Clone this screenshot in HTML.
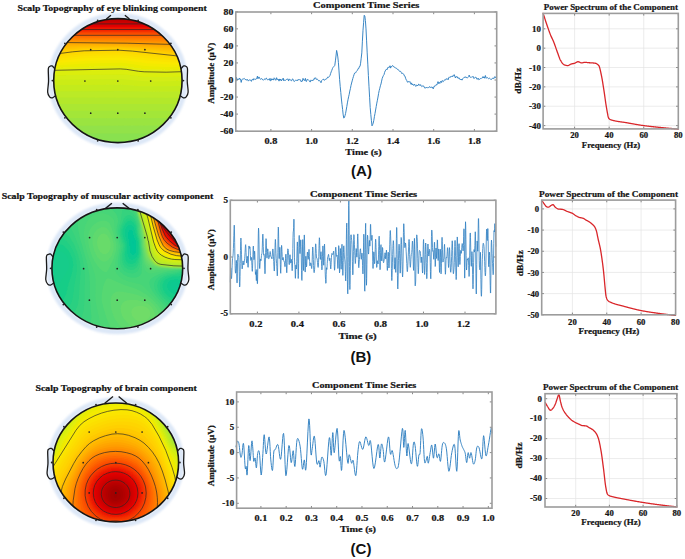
<!DOCTYPE html>
<html><head><meta charset="utf-8"><style>html,body{margin:0;padding:0;background:#fff;}svg{display:block;}</style></head>
<body><svg width="685" height="559" viewBox="0 0 685 559">
<rect width="685" height="559" fill="#fff"/>
<defs><filter id="bl" x="-5%" y="-5%" width="110%" height="110%"><feGaussianBlur stdDeviation="0.55"/></filter><filter id="halo" x="-20%" y="-20%" width="140%" height="140%"><feGaussianBlur stdDeviation="0.9"/></filter></defs>
<clipPath id="clipA"><ellipse cx="117.9" cy="80.6" rx="64.2" ry="62.0"/></clipPath>
<ellipse cx="117.9" cy="80.6" rx="67.2" ry="65.0" fill="none" stroke="#dce7f7" stroke-width="5" filter="url(#halo)"/>
<g clip-path="url(#clipA)"><g filter="url(#bl)">
<rect x="50.7" y="15.6" width="134.4" height="130.0" fill="rgb(128, 223, 89)"/>
<path d="M50.7 15.6 185.2 15.6 185.2 141.3 50.7 141.3Z" fill="rgb(137, 225, 80)" fill-rule="evenodd"/>
<path d="M50.7 15.6 185.2 15.6 185.2 133.5 50.7 133.5Z" fill="rgb(146, 226, 73)" fill-rule="evenodd"/>
<path d="M50.7 15.6 185.2 15.6 185.2 125.6 50.7 125.7Z" fill="rgb(154, 228, 65)" fill-rule="evenodd"/>
<path d="M50.7 15.6 185.2 15.6 185.2 117.9 120.2 118.3 50.7 118.1Z" fill="rgb(163, 230, 57)" fill-rule="evenodd"/>
<path d="M50.7 15.6 185.2 15.6 185.2 110.7 50.7 110.8Z" fill="rgb(171, 231, 50)" fill-rule="evenodd"/>
<path d="M50.7 15.6 185.2 15.6 185.2 103.9 50.7 104.0Z" fill="rgb(179, 232, 44)" fill-rule="evenodd"/>
<path d="M50.7 15.6 185.2 15.6 185.2 97.7 50.7 97.6Z" fill="rgb(187, 234, 37)" fill-rule="evenodd"/>
<path d="M50.7 15.6 185.2 15.6 185.2 91.4 153.2 91.8 121.2 91.0 50.7 91.2Z" fill="rgb(195, 235, 31)" fill-rule="evenodd"/>
<path d="M50.7 15.6 185.2 15.6 185.2 85.6 169.7 86.2 153.2 86.3 141.2 86.2 121.2 84.7 50.7 85.1Z" fill="rgb(203, 236, 25)" fill-rule="evenodd"/>
<path d="M50.7 15.6 185.2 15.6 185.2 80.5 170.2 81.2 155.2 81.4 141.7 81.1 121.2 79.1 50.7 79.7Z" fill="rgb(211, 237, 18)" fill-rule="evenodd"/>
<path d="M50.7 15.6 185.2 15.6 185.2 76.2 166.7 77.0 144.2 76.8 125.7 74.5 120.2 74.2 50.7 75.2Z" fill="rgb(219, 238, 13)" fill-rule="evenodd"/>
<path d="M50.7 15.6 185.2 15.6 185.2 72.4 166.2 73.1 144.2 72.7 125.7 70.2 120.2 69.9 50.7 71.3Z" fill="rgb(227, 237, 10)" fill-rule="evenodd"/>
<path d="M50.7 15.6 185.2 15.6 185.2 69.4 166.2 69.7 144.2 69.1 126.2 66.6 120.2 66.1 87.2 66.7 50.7 68.1Z" fill="rgb(235, 236, 6)" fill-rule="evenodd"/>
<path d="M50.7 15.6 185.2 15.6 185.2 67.2 166.2 66.9 144.7 65.9 126.7 63.3 120.2 62.8 86.2 63.5 50.7 65.7Z" fill="rgb(243, 235, 3)" fill-rule="evenodd"/>
<path d="M50.7 15.6 185.2 15.6 185.2 65.2 147.2 63.2 126.2 60.4 119.2 60.0 85.7 60.7 50.7 63.5Z" fill="rgb(250, 233, 0)" fill-rule="evenodd"/>
<path d="M50.7 15.6 185.2 15.6 185.2 63.3 148.2 60.7 127.2 58.0 119.2 57.5 85.2 58.2 50.7 61.6Z" fill="rgb(251, 228, 0)" fill-rule="evenodd"/>
<path d="M50.7 15.6 185.2 15.6 185.2 61.6 147.2 58.2 126.2 55.7 118.7 55.2 84.7 56.0 50.7 59.7Z" fill="rgb(252, 223, 0)" fill-rule="evenodd"/>
<path d="M50.7 15.6 185.2 15.6 185.2 59.9 128.2 53.8 118.7 53.3 84.2 53.9 50.7 57.9Z" fill="rgb(253, 218, 0)" fill-rule="evenodd"/>
<path d="M50.7 15.6 185.2 15.6 185.2 58.1 130.2 52.2 118.7 51.5 84.2 52.1 50.7 56.1Z" fill="rgb(254, 213, 0)" fill-rule="evenodd"/>
<path d="M50.7 15.6 185.2 15.6 185.2 56.4 131.4 50.6 118.7 49.8 83.7 50.4 50.7 54.2Z" fill="rgb(255, 208, 0)" fill-rule="evenodd"/>
<path d="M50.7 15.6 185.2 15.6 185.2 54.6 134.8 49.6 118.7 48.6 83.2 49.0 50.7 52.4Z" fill="rgb(255, 201, 0)" fill-rule="evenodd"/>
<path d="M50.7 15.6 185.2 15.6 185.2 52.9 136.2 48.6 118.7 47.6 83.7 47.9 50.7 50.5Z" fill="rgb(255, 194, 0)" fill-rule="evenodd"/>
<path d="M50.7 15.6 185.2 15.6 185.2 51.3 137.2 47.6 119.2 46.8 83.7 46.8 50.7 48.7Z" fill="rgb(255, 187, 0)" fill-rule="evenodd"/>
<path d="M50.7 15.6 185.2 15.6 185.2 49.7 154.0 47.6 119.7 45.9 84.2 45.8 50.7 47.1Z" fill="rgb(255, 180, 0)" fill-rule="evenodd"/>
<path d="M50.7 15.6 185.2 15.6 185.2 48.1 120.2 45.1 84.2 44.8 50.7 45.5Z" fill="rgb(255, 173, 0)" fill-rule="evenodd"/>
<path d="M50.7 15.6 185.2 15.6 185.2 46.6 121.7 44.2 84.2 43.8 50.7 44.1Z" fill="rgb(255, 165, 0)" fill-rule="evenodd"/>
<path d="M50.7 15.6 185.2 15.6 185.2 45.2 124.7 43.4 50.7 42.7Z" fill="rgb(255, 158, 0)" fill-rule="evenodd"/>
<path d="M50.7 15.6 185.2 15.6 185.2 43.7 134.2 42.5 50.7 41.5Z" fill="rgb(255, 149, 0)" fill-rule="evenodd"/>
<path d="M50.7 15.6 185.2 15.6 185.2 42.3 50.7 40.4Z" fill="rgb(255, 140, 0)" fill-rule="evenodd"/>
<path d="M50.7 15.6 185.2 15.6 185.2 40.9 50.7 39.5Z" fill="rgb(255, 131, 0)" fill-rule="evenodd"/>
<path d="M50.7 15.6 185.2 15.6 185.2 39.6 50.7 38.5Z" fill="rgb(255, 123, 0)" fill-rule="evenodd"/>
<path d="M50.7 15.6 185.2 15.6 185.2 38.3 50.7 37.7Z" fill="rgb(255, 114, 0)" fill-rule="evenodd"/>
<path d="M50.7 15.6 185.2 15.6 185.2 37.2 50.7 36.8Z" fill="rgb(255, 105, 0)" fill-rule="evenodd"/>
<path d="M50.7 15.6 185.2 15.6 185.2 36.1 50.7 35.9Z" fill="rgb(253, 96, 0)" fill-rule="evenodd"/>
<path d="M50.7 15.6 185.2 15.6 185.2 35.1 50.7 35.1Z" fill="rgb(252, 87, 0)" fill-rule="evenodd"/>
<path d="M50.7 15.6 185.2 15.6 185.2 34.2 50.7 34.3Z" fill="rgb(250, 79, 0)" fill-rule="evenodd"/>
<path d="M50.7 15.6 185.2 15.6 185.2 33.4 50.7 33.5Z" fill="rgb(249, 70, 0)" fill-rule="evenodd"/>
<path d="M50.7 15.6 185.2 15.6 185.2 32.6 50.7 32.7Z" fill="rgb(247, 61, 0)" fill-rule="evenodd"/>
<path d="M50.7 15.6 185.2 15.6 185.2 31.9 50.7 31.9Z" fill="rgb(245, 52, 0)" fill-rule="evenodd"/>
<path d="M50.7 15.6 185.2 15.6 185.2 31.1 50.7 31.2Z" fill="rgb(243, 45, 0)" fill-rule="evenodd"/>
<path d="M50.7 15.6 185.2 15.6 185.2 30.4 50.7 30.4Z" fill="rgb(241, 37, 0)" fill-rule="evenodd"/>
<path d="M50.7 15.6 185.2 15.6 185.2 29.7 50.7 29.7Z" fill="rgb(238, 30, 0)" fill-rule="evenodd"/>
<path d="M50.7 15.6 185.2 15.6 185.2 28.9 50.7 28.9Z" fill="rgb(236, 23, 0)" fill-rule="evenodd"/>
<path d="M50.7 15.6 185.2 15.6 185.2 28.2 50.7 28.2Z" fill="rgb(234, 16, 0)" fill-rule="evenodd"/>
<path d="M50.7 15.6 185.2 15.6 185.2 27.5 50.7 27.5Z" fill="rgb(231, 9, 0)" fill-rule="evenodd"/>
<path d="M50.7 15.6 185.2 15.6 185.2 26.8 50.7 26.8Z" fill="rgb(228, 5, 0)" fill-rule="evenodd"/>
<path d="M50.7 15.6 185.2 15.6 185.2 26.0 50.7 26.0Z" fill="rgb(223, 4, 0)" fill-rule="evenodd"/>
<path d="M50.7 15.6 185.2 15.6 185.2 25.3 50.7 25.3Z" fill="rgb(218, 3, 0)" fill-rule="evenodd"/>
<path d="M50.7 15.6 185.2 15.6 185.2 24.5 50.7 24.5Z" fill="rgb(214, 3, 0)" fill-rule="evenodd"/>
<path d="M50.7 15.6 185.2 15.6 185.2 23.7 50.7 23.7Z" fill="rgb(209, 2, 0)" fill-rule="evenodd"/>
<path d="M50.7 15.6 185.2 15.6 185.2 22.9 50.7 22.9Z" fill="rgb(204, 1, 0)" fill-rule="evenodd"/>
<path d="M50.7 15.6 185.2 15.6 185.2 22.0 50.7 22.0Z" fill="rgb(200, 1, 0)" fill-rule="evenodd"/>
<path d="M50.7 15.6 185.2 15.6 185.2 21.2 50.7 21.2Z" fill="rgb(195, 0, 0)" fill-rule="evenodd"/>
<path d="M50.7 15.6 185.2 15.6 185.2 20.3 50.7 20.3Z" fill="rgb(189, 0, 0)" fill-rule="evenodd"/>
<path d="M50.7 15.6 185.2 15.6 185.2 19.3 50.7 19.3Z" fill="rgb(183, 0, 0)" fill-rule="evenodd"/>
<path d="M50.7 15.6 185.2 15.6 185.2 18.3 50.7 18.3Z" fill="rgb(177, 0, 0)" fill-rule="evenodd"/>
<path d="M50.7 15.6 185.2 15.6 185.2 17.0 50.7 17.0Z" fill="rgb(171, 0, 0)" fill-rule="evenodd"/>
<path d="M50.7 15.6 185.2 15.6 185.2 15.6Z" fill="rgb(165, 0, 0)" fill-rule="evenodd"/>
</g>
<path d="M185.2 71.6 166.2 72.2 144.2 71.8 138.7 71.3 126.2 69.3 120.2 68.9 50.7 70.4" fill="none" stroke="#262626" stroke-width="0.75" stroke-opacity="0.9"/>
<path d="M185.2 56.8 132.4 51.1 118.7 50.2 84.2 50.8 72.7 51.8 50.7 54.7" fill="none" stroke="#262626" stroke-width="0.75" stroke-opacity="0.9"/>
<path d="M185.2 44.8 127.2 43.2 50.7 42.4" fill="none" stroke="#262626" stroke-width="0.75" stroke-opacity="0.9"/>
<path d="M185.2 35.3 50.7 35.3" fill="none" stroke="#262626" stroke-width="0.75" stroke-opacity="0.9"/>
<path d="M185.2 29.5 50.7 29.5" fill="none" stroke="#262626" stroke-width="0.75" stroke-opacity="0.9"/>
<path d="M185.2 23.9 50.7 23.9" fill="none" stroke="#262626" stroke-width="0.75" stroke-opacity="0.9"/>
</g>
<ellipse cx="117.9" cy="80.6" rx="64.2" ry="62.0" fill="none" stroke="#151515" stroke-width="1.6"/>
<clipPath id="clipB"><ellipse cx="117.3" cy="268.3" rx="65.4" ry="60.4"/></clipPath>
<ellipse cx="117.3" cy="268.3" rx="68.4" ry="63.4" fill="none" stroke="#dce7f7" stroke-width="5" filter="url(#halo)"/>
<g clip-path="url(#clipB)"><g filter="url(#bl)">
<rect x="48.9" y="204.9" width="136.8" height="126.8" fill="rgb(0, 195, 150)"/>
<path d="M48.9 204.9 185.9 204.9 185.9 331.9 48.9 331.9ZM132.5 241.4 132.4 242.9 132.9 243.8 133.4 243.8 134.0 242.9 134.0 241.9 133.4 241.2Z" fill="rgb(0, 198, 150)" fill-rule="evenodd"/>
<path d="M48.9 204.9 185.9 204.9 185.9 331.9 48.9 331.9ZM131.2 236.4 130.6 236.9 130.2 238.4 130.4 242.9 131.9 250.7 132.9 252.2 133.9 252.3 134.8 250.9 135.5 241.9 133.9 238.8 132.4 237.0Z" fill="rgb(5, 199, 147)" fill-rule="evenodd"/>
<path d="M48.9 204.9 185.9 204.9 185.9 331.9 48.9 331.9ZM130.2 229.4 129.0 230.4 128.3 231.9 128.3 237.4 130.3 252.4 131.4 254.4 132.4 255.0 133.4 255.1 135.4 253.8 136.3 251.9 136.3 241.9 133.6 235.4 132.4 230.3 131.4 229.4Z" fill="rgb(10, 201, 144)" fill-rule="evenodd"/>
<path d="M48.9 204.9 185.9 204.9 185.9 331.9 48.9 331.9ZM129.0 227.4 127.9 228.3 127.0 229.9 126.4 233.4 126.7 236.9 128.5 244.9 128.7 252.4 129.9 255.9 131.4 257.1 132.9 257.3 135.4 255.9 137.0 252.9 136.9 241.9 134.6 234.9 133.4 229.1 131.4 227.2 130.4 227.0ZM172.3 281.9 170.6 283.4 170.2 285.4 170.8 287.4 172.4 289.2 174.9 290.5 177.4 290.8 179.4 290.3 181.2 288.9 182.0 286.4 181.5 284.9 180.6 283.9 178.9 282.8 176.4 282.0Z" fill="rgb(15, 202, 141)" fill-rule="evenodd"/>
<path d="M48.9 204.9 185.9 204.9 185.9 282.5 183.9 281.2 180.9 280.2 176.4 279.6 172.9 279.7 170.9 280.2 169.1 281.4 167.7 283.4 167.3 285.4 167.7 287.9 169.4 290.7 171.9 292.7 174.9 293.9 177.9 294.2 180.9 293.6 183.4 292.4 185.9 290.2 185.9 331.9 48.9 331.9ZM128.5 225.4 126.9 226.8 125.7 228.9 125.1 231.4 125.0 234.4 127.5 244.9 127.4 252.4 127.8 255.4 129.4 258.4 130.9 259.4 132.4 259.6 133.9 259.1 135.4 257.9 136.8 255.9 137.6 253.9 138.0 251.4 137.5 241.9 133.9 227.8 132.9 226.3 131.4 225.2 129.9 225.0Z" fill="rgb(20, 204, 138)" fill-rule="evenodd"/>
<path d="M48.9 204.9 185.9 204.9 185.9 278.3 182.4 277.9 177.4 277.9 172.9 278.1 170.4 278.6 167.9 279.9 166.3 281.4 165.2 283.4 164.8 285.9 165.4 288.9 167.2 291.9 169.8 294.4 172.9 296.1 175.9 297.0 179.4 297.0 182.4 296.3 185.9 294.7 185.9 331.9 48.9 331.9 48.9 297.0 53.7 294.4 56.9 290.8 58.4 287.9 61.2 280.4 65.4 274.3 67.6 270.4 68.8 266.9 69.2 263.4 68.5 259.4 66.4 255.4 63.4 252.5 59.9 251.0 57.9 251.1 55.9 252.3 48.9 261.1ZM128.2 223.4 126.4 224.9 124.6 227.9 123.8 230.9 123.8 234.4 126.6 244.9 126.1 253.4 126.7 257.4 127.6 259.4 128.9 260.8 130.4 261.6 132.4 261.8 134.4 261.0 135.9 259.5 138.2 254.9 138.6 251.4 138.1 241.4 136.0 233.9 135.3 228.9 134.4 226.4 132.9 224.3 131.4 223.2 129.9 222.9Z" fill="rgb(25, 205, 135)" fill-rule="evenodd"/>
<path d="M48.9 204.9 185.9 204.9 185.9 275.4 172.4 276.7 168.0 277.9 165.6 279.4 163.9 281.2 162.8 283.4 162.4 285.9 163.1 289.4 164.9 292.7 167.9 295.9 171.4 298.2 174.9 299.5 178.4 300.0 181.9 299.6 185.9 298.1 185.9 331.9 48.9 331.9 48.9 307.2 60.0 302.4 62.6 300.4 64.4 298.1 66.0 294.4 68.7 283.4 72.2 272.4 73.3 264.9 72.5 258.9 70.3 253.4 66.9 248.4 64.8 246.4 62.4 244.8 58.4 243.7 54.9 244.4 52.4 246.6 48.9 252.5ZM128.6 220.9 126.3 222.4 123.9 226.0 122.7 229.4 122.4 233.4 123.2 237.4 125.7 244.9 124.8 253.9 125.3 258.9 126.4 261.2 127.9 263.0 129.9 264.1 131.9 264.3 133.9 263.6 135.9 262.0 137.4 259.6 138.5 256.9 139.3 251.9 138.7 241.9 136.6 233.4 135.9 227.9 134.9 225.1 133.4 222.7 131.9 221.3 130.4 220.8Z" fill="rgb(34, 207, 132)" fill-rule="evenodd"/>
<path d="M48.9 204.9 185.9 204.9 185.9 272.9 176.9 274.8 169.9 275.7 165.9 277.1 163.2 278.9 161.4 280.9 160.3 283.4 159.9 285.9 160.5 289.4 162.7 293.4 165.9 297.0 169.9 300.1 173.9 302.1 177.9 303.0 181.9 302.9 185.9 301.9 185.9 331.9 48.9 331.9 48.9 316.7 55.9 312.7 67.4 307.8 69.7 305.9 71.4 303.0 73.0 296.9 74.5 284.4 76.6 272.4 76.9 266.9 76.2 259.9 74.1 252.9 70.4 245.9 66.4 241.0 61.9 237.9 57.4 236.8 54.9 237.0 52.9 237.7 50.9 238.9 48.9 240.9ZM128.2 218.4 126.9 219.0 125.4 220.5 122.9 224.7 121.4 228.9 121.1 232.9 121.9 237.4 124.7 244.9 123.4 254.9 123.4 257.9 124.0 260.9 125.2 263.4 126.9 265.4 128.9 266.6 131.4 267.0 133.4 266.6 134.9 265.7 137.4 262.6 139.4 256.7 139.9 250.9 139.0 240.4 137.3 233.4 136.6 227.4 135.8 224.4 134.4 221.6 132.4 219.4 130.4 218.4Z" fill="rgb(43, 208, 129)" fill-rule="evenodd"/>
<path d="M48.9 204.9 185.9 204.9 185.9 271.1 182.4 271.7 175.9 273.6 167.9 274.7 163.4 276.4 160.6 278.4 158.8 280.4 157.7 282.9 157.2 285.9 158.1 289.9 160.3 293.9 164.2 298.4 168.9 302.4 172.9 304.8 176.9 306.2 180.9 306.8 185.9 306.6 185.9 331.9 49.7 331.9 54.1 325.4 58.9 320.2 62.2 317.9 68.4 315.8 71.4 314.2 74.4 311.6 76.4 308.5 77.9 304.4 78.7 299.4 80.7 270.4 79.9 261.9 77.7 253.4 73.9 244.1 69.4 236.7 64.9 231.9 62.4 230.1 59.4 228.6 53.9 227.4 48.9 228.2ZM126.6 215.4 124.9 216.9 123.7 218.9 120.6 226.4 119.8 229.9 119.7 232.9 120.2 235.9 123.5 245.4 121.9 254.9 121.9 259.9 122.9 264.0 125.1 267.4 128.4 269.5 131.9 270.0 134.4 269.3 136.4 267.7 137.9 265.5 139.2 261.9 140.5 253.4 139.6 240.9 137.8 232.9 137.0 225.4 135.4 220.5 133.4 217.6 131.4 215.9 128.9 215.0Z" fill="rgb(52, 210, 126)" fill-rule="evenodd"/>
<path d="M48.9 204.9 185.9 204.9 185.9 270.3 180.5 270.9 174.9 272.4 167.4 273.3 161.9 275.0 158.7 276.9 156.0 279.4 154.5 281.9 154.0 284.9 154.7 288.9 157.1 293.4 160.9 298.1 166.9 304.0 170.9 307.2 175.4 309.7 180.4 311.5 185.9 312.6 185.9 331.9 71.3 331.9 77.4 324.5 79.9 320.7 82.1 315.9 83.5 310.9 84.3 302.4 84.8 277.4 84.6 270.9 83.8 264.9 81.8 255.9 78.4 245.5 74.4 235.3 70.4 227.3 65.4 219.7 60.4 214.1 54.9 210.1 48.9 207.7ZM123.5 208.9 122.8 209.4 122.1 210.9 120.8 220.9 118.9 226.4 118.2 229.9 118.7 235.4 122.0 245.4 120.1 256.9 120.2 262.9 121.6 267.4 124.4 270.9 128.4 273.1 132.9 273.5 135.4 272.7 137.4 271.2 138.9 268.9 139.9 265.7 141.1 253.4 140.0 239.4 138.3 232.4 137.5 223.4 135.4 217.4 132.9 213.7 129.9 210.9 126.4 209.0 124.9 208.7Z" fill="rgb(61, 211, 123)" fill-rule="evenodd"/>
<path d="M81.9 205.0 106.8 204.9 112.4 209.6 115.8 213.4 117.4 216.5 118.1 219.9 118.0 221.9 116.7 227.9 116.8 232.9 120.3 245.9 117.9 260.4 117.9 264.4 118.4 267.4 120.2 271.4 123.4 274.6 127.9 276.8 132.9 277.7 135.9 277.4 138.4 276.6 140.1 275.4 141.3 273.4 141.8 269.4 141.7 252.9 140.6 239.9 138.9 232.4 138.7 225.9 137.9 221.3 134.9 212.9 132.4 208.2 130.1 204.9 185.9 204.9 185.9 269.8 180.9 270.1 167.4 271.8 160.8 273.4 155.2 275.9 151.4 278.4 149.8 280.4 149.3 282.9 150.2 286.9 152.9 291.9 156.4 296.4 164.9 305.7 173.4 313.6 185.9 322.1 185.9 331.9 90.4 331.9 91.3 315.9 89.9 299.4 89.8 281.4 89.3 274.4 87.2 263.9 79.8 237.4 78.4 230.4 77.6 223.9 77.6 218.4 78.2 213.4 79.6 208.9Z" fill="rgb(70, 213, 120)" fill-rule="evenodd"/>
<path d="M134.1 204.9 185.9 204.9 185.9 269.4 164.9 270.7 151.4 273.6 148.4 273.2 145.9 271.2 144.2 267.9 143.1 263.4 141.1 239.4 139.5 231.9 139.2 224.9 137.9 218.9 134.6 208.9ZM98.4 213.3 103.4 213.2 108.4 214.8 112.0 217.4 113.4 219.2 114.1 220.9 114.9 232.4 118.1 243.4 118.5 245.9 118.2 249.4 115.5 260.9 114.8 265.9 115.2 270.4 116.8 273.9 119.9 277.2 124.4 279.9 129.4 281.8 139.4 283.9 141.9 285.1 144.4 287.2 159.2 302.9 166.2 311.9 173.3 322.9 175.5 327.4 177.0 331.9 102.4 331.9 100.5 324.9 95.6 301.4 95.3 295.4 95.7 281.4 95.1 275.4 93.8 270.9 88.9 257.4 86.4 249.4 84.6 241.4 83.9 234.9 84.0 230.9 84.6 227.4 85.8 223.9 87.4 221.0 89.9 218.0 92.4 215.9 95.4 214.2Z" fill="rgb(78, 214, 117)" fill-rule="evenodd"/>
<path d="M136.4 204.9 185.9 204.9 185.9 269.2 162.9 269.7 152.9 270.6 149.4 269.8 146.6 267.4 144.9 264.2 143.7 259.9 141.8 245.4 141.6 238.9 140.1 231.9 139.8 224.9 138.4 218.9 135.3 208.9 135.5 206.4ZM100.9 220.9 103.4 220.5 105.9 220.9 108.4 222.2 109.9 223.9 111.4 227.4 115.8 242.4 116.4 245.4 115.8 250.9 113.4 258.8 108.4 269.5 106.9 271.5 105.4 272.2 102.9 271.1 99.9 268.4 96.9 264.8 94.5 260.9 92.3 256.4 90.4 251.2 89.0 245.9 88.3 241.4 88.5 234.4 89.4 231.1 90.7 228.4 92.4 226.2 94.9 224.0 97.9 222.1ZM107.9 278.4 110.4 279.0 123.9 285.1 135.4 288.8 139.4 290.4 146.4 294.7 153.8 300.9 157.1 304.4 160.0 308.4 162.5 312.9 164.1 316.9 165.0 320.9 165.2 324.4 164.7 327.9 163.5 331.9 114.0 331.9 110.3 326.4 107.4 320.2 103.5 307.9 101.8 300.4 101.9 293.9 103.4 286.3 105.6 280.4 106.9 278.8Z" fill="rgb(87, 216, 114)" fill-rule="evenodd"/>
<path d="M137.4 205.0 185.9 204.9 185.9 268.9 173.4 269.1 153.9 268.4 149.9 267.3 147.2 264.9 145.4 261.7 144.2 257.9 142.4 245.4 142.1 238.9 140.8 231.9 140.3 225.4 138.9 219.3 135.8 208.9 136.0 206.9ZM101.4 227.3 103.4 227.1 105.4 227.6 106.9 228.5 108.4 230.0 110.4 233.5 111.9 237.1 113.9 244.9 113.5 249.9 111.8 255.4 108.4 259.8 106.9 260.9 104.9 261.5 102.9 261.4 100.9 260.5 97.3 256.9 94.1 250.4 92.5 243.4 92.6 237.9 94.2 232.9 97.4 229.3ZM115.9 291.9 118.9 291.5 123.4 291.9 131.4 293.4 137.4 295.1 142.9 297.1 146.9 299.1 150.8 301.9 153.9 304.9 156.5 308.4 158.2 311.9 159.2 315.4 159.3 318.9 158.8 321.9 157.7 324.4 151.7 331.9 127.3 331.9 121.9 327.5 118.9 324.5 115.9 320.4 113.4 315.4 111.5 309.4 110.6 303.9 110.6 299.4 111.7 295.9 113.4 293.4Z" fill="rgb(95, 217, 110)" fill-rule="evenodd"/>
<path d="M137.9 205.4 138.9 204.9 185.9 204.9 185.9 268.7 172.4 268.7 157.9 267.7 153.9 266.8 150.9 265.6 148.9 264.2 147.4 262.6 145.9 259.9 144.9 256.9 142.9 245.4 142.7 238.9 141.4 232.4 140.6 225.4 136.1 208.9 136.5 206.9ZM101.9 233.7 103.4 233.5 104.9 233.7 107.4 235.4 109.3 238.4 110.4 242.4 110.6 246.4 109.7 250.4 107.9 253.1 105.4 254.3 102.9 254.0 100.4 252.0 98.4 248.8 97.2 244.9 97.1 241.4 97.8 237.9 99.4 235.4ZM129.9 299.9 136.9 300.1 143.9 301.7 148.9 304.3 152.4 307.9 154.5 312.4 154.9 314.9 154.7 317.4 153.9 319.7 152.6 321.9 148.4 326.0 145.4 327.7 142.4 328.6 139.4 328.7 136.4 328.2 133.2 326.9 129.9 324.8 126.6 321.9 124.1 318.9 122.3 315.9 121.1 312.4 120.6 308.9 121.0 305.9 122.3 303.4 123.9 301.8 126.4 300.6Z" fill="rgb(104, 219, 107)" fill-rule="evenodd"/>
<path d="M138.9 204.9 185.9 204.9 185.9 268.4 172.4 268.4 158.4 267.2 155.4 266.3 152.6 264.9 149.9 263.1 147.9 260.9 146.4 258.5 145.5 255.9 143.5 245.4 143.2 238.4 140.9 224.9 136.5 208.9 136.9 206.8 138.9 205.5ZM137.9 305.9 141.4 305.7 144.9 306.5 147.5 307.9 149.4 310.0 150.3 312.9 149.9 315.9 148.4 318.4 145.9 320.4 142.4 321.5 138.4 321.1 134.9 319.2 132.2 315.9 131.2 312.4 131.9 309.4 134.4 307.0Z" fill="rgb(112, 220, 104)" fill-rule="evenodd"/>
<path d="M139.0 204.9 185.9 204.9 185.9 268.2 172.4 268.1 163.4 267.5 158.4 266.7 155.4 265.7 153.4 264.5 148.4 259.7 146.2 255.4 144.1 245.4 143.7 238.4 141.4 225.9 136.7 208.9 137.2 206.9 138.9 205.9Z" fill="rgb(120, 222, 96)" fill-rule="evenodd"/>
<path d="M139.0 204.9 185.9 204.9 185.9 268.0 172.4 267.8 163.4 267.2 158.9 266.5 156.4 265.6 154.2 264.4 149.3 259.4 147.7 256.9 146.6 253.9 144.7 245.4 144.1 238.4 141.6 225.4 137.0 208.9 137.2 207.4 138.9 206.2Z" fill="rgb(129, 223, 88)" fill-rule="evenodd"/>
<path d="M139.1 204.9 185.9 204.9 185.9 267.8 172.4 267.6 163.9 266.9 158.9 266.1 156.4 265.2 154.4 264.0 150.1 259.4 148.2 256.4 147.0 252.9 145.4 245.9 144.5 237.9 142.0 225.9 137.3 208.9 137.5 207.4 138.9 206.5Z" fill="rgb(137, 225, 80)" fill-rule="evenodd"/>
<path d="M139.1 204.9 185.9 204.9 185.9 267.6 172.4 267.3 159.9 266.0 156.9 265.1 154.9 263.9 150.8 259.4 148.7 255.9 147.5 252.4 145.9 245.4 144.8 237.4 142.5 226.9 137.5 208.9 137.6 207.9 138.9 206.8Z" fill="rgb(146, 226, 73)" fill-rule="evenodd"/>
<path d="M139.4 204.9 185.9 204.9 185.9 267.4 172.4 267.0 159.9 265.7 155.5 263.9 151.7 259.9 149.5 256.4 147.9 252.1 146.5 245.9 145.2 237.4 142.7 226.4 137.8 208.9 137.9 207.8 138.9 207.1Z" fill="rgb(154, 228, 65)" fill-rule="evenodd"/>
<path d="M139.4 204.9 185.9 204.9 185.9 267.1 172.4 266.7 160.0 265.4 155.9 263.7 152.3 259.9 149.9 256.0 148.4 251.9 145.1 234.9 142.1 222.9 138.1 208.9 138.2 207.9 139.1 206.9Z" fill="rgb(163, 230, 57)" fill-rule="evenodd"/>
<path d="M139.4 204.9 185.9 204.9 185.9 266.8 172.5 266.4 159.9 264.9 156.2 263.4 152.9 259.8 150.4 255.6 148.9 251.4 145.6 234.9 138.4 208.9 138.4 208.3 139.1 207.4Z" fill="rgb(171, 231, 50)" fill-rule="evenodd"/>
<path d="M139.4 204.9 185.9 204.9 185.9 266.2 173.9 265.8 160.9 264.4 156.9 262.8 154.6 260.4 152.0 256.4 150.0 250.9 147.4 236.9 139.0 208.4Z" fill="rgb(179, 232, 44)" fill-rule="evenodd"/>
<path d="M139.4 204.9 185.9 204.9 185.9 265.1 172.9 264.5 162.4 263.2 157.9 261.5 154.9 258.4 152.9 255.1 151.5 251.4 147.9 235.4 140.2 207.9 139.4 207.0Z" fill="rgb(187, 234, 37)" fill-rule="evenodd"/>
<path d="M140.9 204.9 185.9 204.9 185.9 264.0 172.9 263.5 163.4 262.0 158.9 260.4 155.5 256.9 153.7 253.9 152.2 249.9 148.6 234.9 142.0 211.4 141.6 206.9Z" fill="rgb(195, 235, 31)" fill-rule="evenodd"/>
<path d="M144.4 205.1 185.9 204.9 185.9 262.9 172.9 262.4 164.9 261.0 159.4 258.9 155.9 255.2 154.3 252.4 152.9 248.7 145.5 219.9 142.9 211.4 142.9 208.9Z" fill="rgb(203, 236, 25)" fill-rule="evenodd"/>
<path d="M145.5 204.9 185.9 204.9 185.9 261.9 173.4 261.4 166.4 260.1 160.4 257.8 156.4 253.7 154.8 250.9 153.4 246.9 146.1 218.4 143.9 211.4 144.2 209.4 145.4 208.1Z" fill="rgb(211, 237, 18)" fill-rule="evenodd"/>
<path d="M145.6 204.9 185.9 204.9 185.9 260.8 173.4 260.3 167.9 259.2 161.4 256.6 158.9 254.7 157.3 252.9 155.4 249.4 153.4 243.6 146.9 217.6 144.9 211.4 144.9 210.5 145.4 209.9Z" fill="rgb(219, 238, 13)" fill-rule="evenodd"/>
<path d="M145.9 204.9 185.9 204.9 185.9 259.8 172.9 259.3 167.9 258.1 161.4 255.0 159.4 253.5 157.6 251.4 155.6 247.4 153.7 241.9 147.9 217.8 145.7 210.9Z" fill="rgb(227, 237, 10)" fill-rule="evenodd"/>
<path d="M145.9 204.9 185.9 204.9 185.9 259.3 174.4 258.8 169.7 257.9 165.9 256.6 162.7 254.9 160.4 253.3 158.4 251.2 156.1 246.9 153.5 238.9 148.1 216.9 145.9 210.1Z" fill="rgb(235, 236, 6)" fill-rule="evenodd"/>
<path d="M145.9 204.9 185.9 204.9 185.9 258.8 174.9 258.2 169.9 257.3 162.9 254.2 160.5 252.4 158.9 250.7 156.6 246.4 154.0 238.9 147.5 212.9 147.1 209.9 145.9 208.2Z" fill="rgb(243, 235, 3)" fill-rule="evenodd"/>
<path d="M148.4 204.9 185.9 204.9 185.9 258.4 175.4 257.7 169.9 256.6 163.1 253.4 160.9 251.8 159.2 249.9 157.3 246.4 154.9 239.9 148.2 213.4 148.0 211.4 148.6 207.4Z" fill="rgb(250, 233, 0)" fill-rule="evenodd"/>
<path d="M150.0 204.9 185.9 204.9 185.9 257.9 175.4 257.1 170.0 255.9 166.4 254.4 162.9 252.4 159.3 248.9 157.4 245.1 155.2 238.9 148.7 213.4 148.9 211.4 149.9 209.9Z" fill="rgb(251, 228, 0)" fill-rule="evenodd"/>
<path d="M150.0 204.9 185.9 204.9 185.9 257.4 175.9 256.6 170.6 255.4 163.9 252.2 161.5 250.4 159.8 248.4 157.6 243.9 155.4 237.9 149.2 213.4 149.2 212.4 149.9 211.6Z" fill="rgb(252, 223, 0)" fill-rule="evenodd"/>
<path d="M150.1 204.9 185.9 204.9 185.9 256.9 176.9 256.2 171.2 254.9 164.4 251.6 162.1 249.9 160.3 247.9 157.9 243.2 155.9 237.7 150.4 216.4 149.7 212.9 150.0 211.4Z" fill="rgb(253, 218, 0)" fill-rule="evenodd"/>
<path d="M150.4 204.9 185.9 204.9 185.9 256.5 176.9 255.6 170.9 254.1 164.9 251.2 162.9 249.7 160.7 247.4 157.2 239.9 152.6 223.9 150.1 212.9Z" fill="rgb(254, 213, 0)" fill-rule="evenodd"/>
<path d="M150.4 204.9 185.9 204.9 185.9 256.0 176.4 255.0 170.9 253.6 164.5 250.4 161.0 246.9 157.5 239.4 153.5 225.9 150.3 212.4Z" fill="rgb(255, 208, 0)" fill-rule="evenodd"/>
<path d="M150.4 204.9 185.9 204.9 185.9 255.6 176.4 254.5 170.9 253.2 165.4 250.5 163.3 248.9 161.5 246.9 157.9 239.4 154.4 227.9 151.4 215.9 150.9 212.4 150.4 211.6Z" fill="rgb(255, 201, 0)" fill-rule="evenodd"/>
<path d="M150.4 204.9 185.9 204.9 185.9 255.1 176.4 254.0 170.4 252.5 165.9 250.4 162.0 246.9 158.4 239.5 155.2 229.4 151.4 214.4 151.6 210.9 150.4 208.1Z" fill="rgb(255, 194, 0)" fill-rule="evenodd"/>
<path d="M152.4 204.9 185.9 204.9 185.9 254.7 176.4 253.5 170.4 252.1 165.8 249.9 162.2 246.4 159.9 241.9 157.6 235.9 152.1 215.9 151.6 213.9 152.4 212.2Z" fill="rgb(255, 187, 0)" fill-rule="evenodd"/>
<path d="M152.5 204.9 185.9 204.9 185.9 254.2 175.9 252.9 170.4 251.6 165.8 249.4 162.4 245.9 160.1 241.4 157.8 235.4 152.4 215.9 152.0 213.9 152.5 212.4Z" fill="rgb(255, 180, 0)" fill-rule="evenodd"/>
<path d="M152.6 204.9 185.9 204.9 185.9 253.7 175.4 252.4 169.9 251.0 165.7 248.9 162.9 245.9 160.8 241.9 158.2 235.4 152.8 216.4 152.3 213.9Z" fill="rgb(255, 173, 0)" fill-rule="evenodd"/>
<path d="M152.6 204.9 185.9 204.9 185.9 253.3 174.4 251.7 169.4 250.4 166.4 248.9 163.4 245.8 161.1 241.4 158.6 235.4 153.4 217.4 152.7 213.9Z" fill="rgb(255, 165, 0)" fill-rule="evenodd"/>
<path d="M152.9 204.9 185.9 204.9 185.9 253.1 175.4 251.5 170.4 250.3 166.9 248.6 163.7 245.4 161.5 241.4 159.2 235.9 153.8 217.4 152.8 212.9Z" fill="rgb(255, 158, 0)" fill-rule="evenodd"/>
<path d="M152.9 204.9 185.9 204.9 185.9 252.8 180.9 252.2 170.9 249.9 166.9 247.9 163.9 244.7 161.4 240.3 159.4 235.4 154.2 217.4 153.7 213.4 152.9 212.4Z" fill="rgb(255, 149, 0)" fill-rule="evenodd"/>
<path d="M152.9 204.9 185.9 204.9 185.9 252.6 180.4 251.9 170.9 249.4 166.9 247.2 163.9 243.9 160.5 237.4 158.0 229.9 154.4 216.9 154.4 212.3 153.9 211.2 152.9 210.2Z" fill="rgb(255, 140, 0)" fill-rule="evenodd"/>
<path d="M156.4 204.9 185.9 204.9 185.9 252.4 177.4 250.9 169.9 248.4 166.4 246.0 163.4 242.3 159.9 234.9 154.8 216.9 154.8 214.9 156.4 209.9Z" fill="rgb(255, 131, 0)" fill-rule="evenodd"/>
<path d="M156.5 204.9 185.9 204.9 185.9 252.2 179.9 251.2 171.1 248.4 166.9 245.7 163.4 241.5 160.1 234.4 155.2 216.9 155.4 215.0 156.4 213.7Z" fill="rgb(255, 123, 0)" fill-rule="evenodd"/>
<path d="M156.5 204.9 185.9 204.9 185.9 251.9 179.7 250.9 171.2 247.9 166.8 244.9 163.2 240.4 160.2 233.4 155.6 216.9 155.6 215.9 156.4 214.9Z" fill="rgb(255, 114, 0)" fill-rule="evenodd"/>
<path d="M156.6 204.9 185.9 204.9 185.9 251.7 179.9 250.7 171.4 247.4 166.9 244.2 163.4 240.0 160.5 233.4 156.0 216.9 156.5 214.9Z" fill="rgb(255, 105, 0)" fill-rule="evenodd"/>
<path d="M156.6 204.9 185.9 204.9 185.9 251.5 179.9 250.4 171.9 247.2 166.9 243.5 163.4 239.2 160.9 233.4 156.4 216.9Z" fill="rgb(253, 96, 0)" fill-rule="evenodd"/>
<path d="M156.9 204.9 185.9 204.9 185.9 251.3 180.8 250.4 172.9 247.2 167.0 242.9 163.7 238.9 161.1 232.9 156.8 216.9Z" fill="rgb(252, 87, 0)" fill-rule="evenodd"/>
<path d="M156.9 204.9 185.9 204.9 185.9 251.0 180.4 250.0 173.1 246.9 167.4 242.7 163.9 238.6 161.4 232.8 157.5 218.9 156.8 214.9Z" fill="rgb(250, 79, 0)" fill-rule="evenodd"/>
<path d="M156.9 204.9 185.9 204.9 185.9 250.8 180.4 249.6 173.4 246.7 167.6 242.4 164.3 238.4 161.8 232.9 157.7 218.9 157.7 215.9 156.9 214.7Z" fill="rgb(249, 70, 0)" fill-rule="evenodd"/>
<path d="M156.9 204.9 185.9 204.9 185.9 250.5 180.4 249.3 173.6 246.4 167.9 242.1 164.4 237.9 161.9 232.3 158.0 219.4 158.0 217.9 158.8 214.4 158.4 212.7 156.9 211.0Z" fill="rgb(247, 61, 0)" fill-rule="evenodd"/>
<path d="M158.9 204.9 185.9 204.9 185.9 250.3 179.9 248.8 173.9 246.2 167.9 241.5 164.4 237.1 161.7 230.9 158.1 218.9 158.9 217.1Z" fill="rgb(245, 52, 0)" fill-rule="evenodd"/>
<path d="M159.0 204.9 185.9 204.9 185.9 250.0 179.9 248.5 174.1 245.9 168.4 241.4 164.7 236.9 161.9 230.5 158.3 218.9 159.0 217.4Z" fill="rgb(243, 45, 0)" fill-rule="evenodd"/>
<path d="M159.1 204.9 185.9 204.9 185.9 249.8 180.4 248.3 174.7 245.9 168.5 240.9 164.9 236.5 162.2 230.4 158.6 219.4 159.1 216.9Z" fill="rgb(241, 37, 0)" fill-rule="evenodd"/>
<path d="M159.1 204.9 185.9 204.9 185.9 249.5 179.9 247.8 174.5 245.4 168.6 240.4 164.9 235.7 161.9 228.9 158.8 219.4 159.1 217.4Z" fill="rgb(238, 30, 0)" fill-rule="evenodd"/>
<path d="M159.4 204.9 185.9 204.9 185.9 249.3 180.4 247.7 175.2 245.4 169.2 240.4 165.4 235.8 162.4 229.4 159.4 220.9 159.1 218.9Z" fill="rgb(236, 23, 0)" fill-rule="evenodd"/>
<path d="M159.4 204.9 185.9 204.9 185.9 249.1 180.4 247.5 175.8 245.4 169.5 239.9 165.5 234.9 161.9 227.5 159.6 220.9Z" fill="rgb(234, 16, 0)" fill-rule="evenodd"/>
<path d="M159.4 204.9 185.9 204.9 185.9 248.8 179.9 247.1 175.8 244.9 169.3 238.9 165.4 233.7 161.4 225.9 159.8 220.9 160.1 218.4 159.4 216.8Z" fill="rgb(231, 9, 0)" fill-rule="evenodd"/>
<path d="M160.4 204.9 185.9 204.9 185.9 248.6 180.1 246.9 176.4 244.9 168.7 237.4 163.9 230.3 161.4 225.4 160.0 220.9 160.4 219.4Z" fill="rgb(228, 5, 0)" fill-rule="evenodd"/>
<path d="M160.4 204.9 185.9 204.9 185.9 248.4 179.9 246.6 176.3 244.4 168.4 236.1 162.4 227.1 160.9 223.8 160.2 220.9 160.5 219.4Z" fill="rgb(223, 4, 0)" fill-rule="evenodd"/>
<path d="M160.5 204.9 185.9 204.9 185.9 248.2 180.4 246.6 177.4 244.9 168.9 235.8 162.4 226.6 161.3 224.4 160.4 220.9Z" fill="rgb(218, 3, 0)" fill-rule="evenodd"/>
<path d="M160.5 204.9 185.9 204.9 185.9 248.1 180.4 246.4 177.9 244.9 169.6 235.9 161.9 225.4 160.6 220.9Z" fill="rgb(214, 3, 0)" fill-rule="evenodd"/>
<path d="M160.5 204.9 185.9 204.9 185.9 247.9 179.9 245.9 177.9 244.6 169.2 234.9 162.4 225.8 161.4 223.6 160.7 219.9Z" fill="rgb(209, 2, 0)" fill-rule="evenodd"/>
<path d="M160.6 204.9 185.9 204.9 185.9 247.6 180.4 245.8 178.1 244.4 169.9 235.2 162.5 225.4 161.6 223.4 160.7 219.4Z" fill="rgb(204, 1, 0)" fill-rule="evenodd"/>
<path d="M160.6 204.9 185.9 204.9 185.9 247.2 180.4 245.5 178.4 244.2 170.4 235.3 162.9 225.4 160.8 219.4Z" fill="rgb(200, 1, 0)" fill-rule="evenodd"/>
<path d="M160.6 204.9 185.9 204.9 185.9 246.8 180.9 245.3 178.6 243.9 170.4 234.8 163.3 225.4 162.3 223.4 161.6 220.4 160.8 219.4Z" fill="rgb(195, 0, 0)" fill-rule="evenodd"/>
<path d="M160.9 204.9 185.9 204.9 185.9 246.4 180.9 244.9 178.6 243.4 170.4 234.2 163.5 224.9 162.1 220.4 160.9 219.4Z" fill="rgb(189, 0, 0)" fill-rule="evenodd"/>
<path d="M160.9 204.9 185.9 204.9 185.9 245.9 181.0 244.4 178.9 243.0 170.9 234.0 164.0 224.9 162.3 219.9 160.9 219.0Z" fill="rgb(183, 0, 0)" fill-rule="evenodd"/>
<path d="M160.9 204.9 185.9 204.9 185.9 245.4 181.2 243.9 179.4 242.7 171.4 233.8 164.4 224.5 162.9 219.8 161.9 218.7 160.9 218.4Z" fill="rgb(177, 0, 0)" fill-rule="evenodd"/>
<path d="M160.9 204.9 185.9 204.9 185.9 244.7 181.4 243.2 179.5 241.9 172.4 233.9 166.4 226.3 164.6 223.4 163.1 218.9 160.9 217.7Z" fill="rgb(171, 0, 0)" fill-rule="evenodd"/>
<path d="M160.9 204.9 185.9 204.9 185.9 243.8 181.6 242.4 180.3 241.4 172.9 233.2 166.9 225.5 165.3 222.9 164.6 219.9 163.8 218.4 162.4 217.3 160.9 216.9Z" fill="rgb(165, 0, 0)" fill-rule="evenodd"/>
<path d="M160.9 204.9 185.9 204.9 185.9 242.5 181.4 240.8 173.9 232.5 167.9 224.8 166.4 222.4 165.7 219.4 164.6 217.4 162.9 216.2 160.9 215.7Z" fill="rgb(159, 0, 0)" fill-rule="evenodd"/>
<path d="M160.9 204.9 185.9 204.9 185.9 240.3 182.9 239.4 174.9 230.4 168.8 222.4 167.3 217.9 166.0 215.9 163.4 214.1 160.9 213.6Z" fill="rgb(153, 0, 0)" fill-rule="evenodd"/>
</g>
<path d="M185.9 266.2 173.9 265.8 160.9 264.4 158.9 263.8 156.9 262.8 154.6 260.4 152.0 256.4 150.0 250.9 148.4 240.9 148.0 240.4 147.4 236.9 139.0 208.4 139.3 204.9" fill="none" stroke="#262626" stroke-width="0.75" stroke-opacity="0.9"/>
<path d="M185.9 259.9 174.9 259.5 171.4 259.1 167.9 258.2 164.9 257.1 161.4 255.2 159.2 253.4 157.5 251.4 155.7 247.9 153.6 241.9 147.9 218.2 145.6 210.9 145.6 204.9" fill="none" stroke="#262626" stroke-width="0.75" stroke-opacity="0.9"/>
<path d="M185.9 256.5 176.4 255.6 170.9 254.2 164.9 251.3 162.9 249.8 160.6 247.4 159.2 244.9 157.1 239.9 153.2 226.4 150.1 213.4 150.2 204.9" fill="none" stroke="#262626" stroke-width="0.75" stroke-opacity="0.9"/>
<path d="M185.9 253.3 174.4 251.7 169.4 250.4 166.4 248.9 163.4 245.8 161.1 241.4 158.6 235.4 153.4 217.4 152.7 213.9 152.6 204.9" fill="none" stroke="#262626" stroke-width="0.75" stroke-opacity="0.9"/>
<path d="M185.9 251.3 180.4 250.4 175.9 248.7 172.4 247.1 166.9 243.0 163.9 239.5 162.4 236.7 161.2 233.4 156.7 216.9 156.7 204.9" fill="none" stroke="#262626" stroke-width="0.75" stroke-opacity="0.9"/>
<path d="M185.9 249.3 180.4 247.7 175.1 245.4 169.1 240.4 165.4 235.9 162.4 229.5 159.3 220.9 159.1 218.9 159.2 204.9" fill="none" stroke="#262626" stroke-width="0.75" stroke-opacity="0.9"/>
<path d="M185.9 248.1 180.5 246.4 177.9 244.9 169.7 235.9 164.6 229.4 161.9 225.4 160.6 220.9 160.5 204.9" fill="none" stroke="#262626" stroke-width="0.75" stroke-opacity="0.9"/>
</g>
<ellipse cx="117.3" cy="268.3" rx="65.4" ry="60.4" fill="none" stroke="#151515" stroke-width="1.6"/>
<clipPath id="clipC"><ellipse cx="115.8" cy="462.5" rx="62.8" ry="59.5"/></clipPath>
<ellipse cx="115.8" cy="462.5" rx="65.8" ry="62.5" fill="none" stroke="#dce7f7" stroke-width="5" filter="url(#halo)"/>
<g clip-path="url(#clipC)"><g filter="url(#bl)">
<rect x="50.0" y="400.0" width="131.6" height="125.0" fill="rgb(91, 217, 112)"/>
<path d="M51.5 400.1 178.3 400.0 182.0 406.2 182.0 525.0 50.0 525.0 50.0 402.7Z" fill="rgb(104, 219, 107)" fill-rule="evenodd"/>
<path d="M54.5 400.0 174.9 400.0 179.5 409.1 182.0 412.8 182.0 525.0 50.0 525.0 50.0 407.9Z" fill="rgb(112, 220, 104)" fill-rule="evenodd"/>
<path d="M50.0 412.7 57.2 400.0 171.9 400.0 178.2 414.5 180.0 417.0 182.0 418.6 182.0 525.0 50.0 525.0Z" fill="rgb(120, 222, 96)" fill-rule="evenodd"/>
<path d="M60.0 400.0 169.1 400.0 172.1 407.0 176.5 419.7 178.5 421.9 182.0 422.9 182.0 525.0 50.0 525.0 50.0 417.0 53.5 412.2Z" fill="rgb(129, 223, 88)" fill-rule="evenodd"/>
<path d="M62.5 400.0 166.4 400.0 170.6 410.0 173.7 422.5 174.5 424.5 176.5 425.9 182.0 426.1 182.0 525.0 50.0 525.0 50.0 420.5 52.6 418.0 54.8 415.0Z" fill="rgb(137, 225, 80)" fill-rule="evenodd"/>
<path d="M65.0 400.0 163.9 400.0 166.6 405.5 168.8 411.5 170.3 417.5 171.5 425.0 172.4 427.5 173.6 428.5 175.5 429.0 182.0 428.7 182.0 525.0 50.0 525.0 50.0 423.4 53.5 420.8 56.0 417.7Z" fill="rgb(146, 226, 73)" fill-rule="evenodd"/>
<path d="M67.5 400.0 161.4 400.0 164.3 405.5 166.7 411.5 168.5 418.0 169.8 426.0 171.0 428.9 172.5 430.5 174.5 431.4 182.0 430.9 182.0 525.0 50.0 525.0 50.0 425.8 54.6 423.0 57.0 420.5 64.4 405.5Z" fill="rgb(154, 228, 65)" fill-rule="evenodd"/>
<path d="M70.0 400.0 159.0 400.0 162.0 405.2 164.5 411.0 166.7 418.0 168.6 427.0 170.5 430.8 172.5 433.0 174.5 434.0 182.0 433.1 182.0 525.0 50.0 525.0 50.0 428.0 56.0 424.7 58.2 422.5 60.3 419.0 66.2 406.5Z" fill="rgb(163, 230, 57)" fill-rule="evenodd"/>
<path d="M72.5 400.0 156.5 400.0 159.7 405.0 162.6 411.0 164.9 417.5 167.6 428.0 169.0 431.0 172.4 436.5 173.1 441.0 174.0 442.8 175.5 443.7 177.3 443.0 178.1 441.0 176.8 438.0 177.0 437.0 178.5 435.9 182.0 435.5 182.0 525.0 50.0 525.0 50.0 430.1 57.4 426.0 59.5 424.0 61.9 420.0 67.9 407.5Z" fill="rgb(171, 231, 50)" fill-rule="evenodd"/>
<path d="M69.9 408.0 75.2 400.0 153.9 400.0 158.0 405.8 161.2 412.0 163.5 418.1 166.6 428.5 170.1 436.0 171.8 441.5 172.9 443.5 175.0 445.0 177.0 444.9 178.8 443.5 181.0 439.8 182.0 439.0 182.0 525.0 50.0 525.0 50.0 432.2 58.0 427.6 60.8 425.0 63.0 421.5Z" fill="rgb(179, 232, 44)" fill-rule="evenodd"/>
<path d="M78.0 400.0 151.2 400.0 153.0 402.0 156.9 407.5 160.1 413.5 162.3 419.0 165.5 429.0 171.9 444.0 174.0 446.0 176.5 446.5 178.1 446.0 182.0 443.1 182.0 525.0 50.0 525.0 50.0 449.0 51.2 447.0 51.5 445.5 50.0 443.3 50.0 434.5 52.5 432.5 59.0 428.8 62.0 426.0 64.6 422.0 72.0 408.4Z" fill="rgb(187, 234, 37)" fill-rule="evenodd"/>
<path d="M81.0 400.0 148.3 400.0 153.0 405.0 156.5 410.1 159.5 415.9 164.6 429.5 171.0 444.6 173.5 447.1 176.0 448.1 178.4 448.0 182.0 446.6 182.0 525.0 50.0 525.0 50.0 451.8 52.5 448.4 53.3 445.5 52.9 444.0 50.1 440.5 50.0 437.9 50.7 436.5 52.0 435.0 59.5 430.3 63.1 427.0 65.6 423.5 74.0 409.0Z" fill="rgb(195, 235, 31)" fill-rule="evenodd"/>
<path d="M80.0 404.5 84.3 400.0 145.0 400.0 149.0 403.5 152.6 407.5 155.7 412.0 158.5 417.1 168.6 442.0 170.4 445.5 172.5 447.9 174.5 449.3 182.0 451.9 182.0 525.0 50.0 525.0 50.0 454.2 53.5 449.5 54.5 447.5 54.8 445.5 54.1 443.0 51.7 440.0 51.8 438.5 53.5 436.3 60.5 431.6 64.3 428.0 75.5 410.4Z" fill="rgb(203, 236, 25)" fill-rule="evenodd"/>
<path d="M88.0 400.1 141.1 400.0 147.5 404.8 153.0 410.9 158.0 419.3 169.5 445.8 172.5 449.6 179.4 455.0 182.0 459.1 182.0 525.0 50.0 525.0 50.0 456.6 54.0 451.3 55.9 447.5 56.2 444.0 54.9 440.0 55.0 439.0 56.4 437.0 62.0 432.6 65.0 429.6 78.0 410.5 83.5 404.1Z" fill="rgb(211, 237, 18)" fill-rule="evenodd"/>
<path d="M88.0 403.5 94.0 400.0 136.0 400.0 141.0 402.6 145.5 405.8 149.5 409.5 153.0 413.7 157.5 421.4 168.3 445.5 171.0 449.7 177.9 458.0 179.6 461.5 181.2 466.5 182.0 470.0 182.0 525.0 50.0 525.0 50.0 459.0 54.5 452.9 56.7 449.0 57.8 445.5 58.2 440.0 59.2 438.0 66.5 430.3 75.5 417.1 81.0 410.4Z" fill="rgb(219, 238, 13)" fill-rule="evenodd"/>
<path d="M96.5 402.4 106.4 400.0 126.8 400.0 133.5 401.7 139.5 404.4 145.0 408.0 150.0 412.7 154.0 418.0 157.5 424.4 167.7 446.5 175.9 459.5 179.3 469.0 180.5 475.0 182.0 487.9 182.0 525.0 50.0 525.0 50.0 461.6 57.7 450.0 59.1 446.5 60.5 441.2 61.6 439.0 67.7 431.5 75.0 420.9 79.0 415.9 85.5 409.3 91.0 405.0Z" fill="rgb(227, 237, 10)" fill-rule="evenodd"/>
<path d="M113.0 402.5 120.0 402.3 126.5 402.8 132.5 404.1 138.0 406.3 143.5 409.5 148.0 413.2 151.5 417.1 155.0 422.4 161.5 435.2 167.2 447.5 173.4 459.0 175.6 464.5 177.6 471.0 178.9 477.0 180.0 487.2 182.0 494.0 182.0 525.0 50.0 525.0 50.0 464.4 58.7 451.0 64.0 439.5 75.5 423.2 81.0 416.9 88.5 410.5 95.0 406.6 103.0 404.0Z" fill="rgb(235, 236, 6)" fill-rule="evenodd"/>
<path d="M116.5 405.5 123.0 405.4 129.0 406.1 134.5 407.6 140.0 410.0 145.0 413.2 149.0 416.8 152.0 420.5 155.5 426.2 161.5 437.6 170.8 457.5 173.7 465.0 176.2 473.0 177.3 478.0 178.5 488.2 182.0 498.6 182.0 525.0 50.0 525.0 50.0 467.6 50.3 467.0 59.7 452.0 66.2 440.0 75.7 426.0 81.0 420.0 89.0 413.8 97.0 409.6 106.0 406.9Z" fill="rgb(243, 235, 3)" fill-rule="evenodd"/>
<path d="M120.0 408.5 126.5 408.6 132.5 409.7 138.5 412.0 144.0 415.1 148.0 418.4 151.0 421.8 159.0 435.2 163.5 444.4 168.3 455.5 172.2 466.0 175.1 475.5 177.2 489.0 182.0 503.2 182.0 525.0 50.0 525.0 50.0 470.6 52.5 466.3 75.0 430.3 78.5 425.6 82.0 422.1 90.0 416.7 100.0 412.2 109.5 409.7Z" fill="rgb(250, 233, 0)" fill-rule="evenodd"/>
<path d="M116.5 412.0 123.5 411.6 129.5 412.0 135.5 413.6 141.5 416.3 145.5 418.9 149.0 422.3 152.0 426.2 157.0 434.3 161.5 442.8 164.9 450.5 173.4 475.0 176.0 489.7 182.0 508.5 182.0 525.0 50.0 525.0 50.0 473.8 51.5 471.1 76.4 432.0 79.0 428.4 81.8 425.5 88.5 420.9 98.0 416.6 107.0 413.7Z" fill="rgb(251, 228, 0)" fill-rule="evenodd"/>
<path d="M118.5 415.0 125.0 414.8 131.0 415.4 137.0 417.1 142.1 419.5 145.6 422.0 149.0 425.4 153.0 430.8 157.5 438.0 161.0 444.7 163.5 450.5 172.1 475.5 174.8 490.0 182.0 515.1 182.0 525.0 50.0 525.0 50.0 479.1 53.0 472.3 62.0 457.7 78.9 432.5 81.5 429.4 84.5 426.7 91.0 422.9 101.0 418.9 110.0 416.3Z" fill="rgb(252, 223, 0)" fill-rule="evenodd"/>
<path d="M116.5 418.5 123.5 418.0 129.5 418.4 135.5 419.8 140.5 421.8 144.5 424.3 148.0 427.6 152.0 432.6 156.0 438.6 159.5 444.9 162.0 450.5 170.2 474.0 171.6 479.5 173.7 490.5 180.6 517.5 182.0 521.6 182.0 525.0 50.0 525.0 50.0 489.9 50.9 485.0 52.5 479.0 54.4 474.5 64.1 458.5 80.0 435.4 82.9 432.0 85.7 429.5 91.5 426.0 99.5 422.7 108.5 419.9Z" fill="rgb(253, 218, 0)" fill-rule="evenodd"/>
<path d="M119.0 421.5 125.0 421.4 131.0 422.1 136.5 423.5 141.0 425.6 144.5 428.0 148.0 431.3 152.0 436.2 156.0 442.1 161.0 452.1 168.8 474.0 176.0 504.5 179.0 519.5 180.0 522.5 181.3 525.0 50.0 525.0 50.0 504.8 53.9 483.0 55.4 478.5 57.2 474.5 68.1 456.5 81.5 437.8 84.5 434.5 88.1 431.5 94.0 428.2 103.0 424.7 111.0 422.6Z" fill="rgb(254, 213, 0)" fill-rule="evenodd"/>
<path d="M116.0 425.0 122.0 424.7 128.0 425.2 134.0 426.4 139.0 428.4 143.0 430.8 147.0 434.2 151.0 438.7 155.0 444.4 158.0 449.7 160.5 455.2 165.0 466.8 167.9 475.5 173.7 500.5 177.3 521.0 178.8 525.0 50.0 525.0 50.0 515.7 51.9 508.0 54.8 490.5 56.4 483.5 59.5 476.0 71.0 456.5 82.5 440.8 86.0 437.0 89.5 434.2 95.0 431.1 102.0 428.3 109.5 426.1Z" fill="rgb(255, 208, 0)" fill-rule="evenodd"/>
<path d="M117.5 428.0 123.5 428.1 129.5 429.1 135.0 430.7 140.0 433.0 144.0 435.7 148.0 439.4 152.0 444.2 155.5 449.3 158.5 454.9 162.0 462.8 164.9 470.5 167.3 478.5 172.0 498.5 175.4 522.0 176.3 525.0 50.0 525.0 50.0 523.2 51.9 518.0 53.5 511.7 56.9 491.5 59.0 483.5 62.2 476.5 71.2 460.5 74.7 455.0 84.5 442.3 88.0 438.9 91.5 436.3 97.5 433.2 104.5 430.5 111.5 428.7Z" fill="rgb(255, 201, 0)" fill-rule="evenodd"/>
<path d="M113.0 431.5 119.0 431.1 125.0 431.7 131.5 433.3 138.0 435.9 142.5 438.7 146.5 442.1 151.0 447.0 155.0 452.5 158.5 458.7 162.0 466.5 164.5 473.6 167.0 482.3 170.9 499.5 173.9 525.0 52.0 525.0 53.7 520.5 55.1 515.0 58.9 493.0 60.7 485.5 63.5 479.0 75.4 457.5 84.0 446.3 87.5 442.7 91.0 439.8 95.5 437.2 101.5 434.6 107.5 432.6Z" fill="rgb(255, 194, 0)" fill-rule="evenodd"/>
<path d="M112.0 434.5 118.0 434.0 124.0 434.7 130.5 436.4 137.0 439.0 141.5 441.7 146.0 445.3 150.5 450.1 154.5 455.3 158.0 461.3 161.5 469.3 164.5 478.3 167.5 489.5 169.7 501.0 171.8 525.0 54.7 525.0 57.0 516.7 60.7 494.5 62.6 486.5 65.6 479.5 76.6 459.0 84.5 448.7 88.0 445.2 91.5 442.4 96.0 439.8 101.0 437.6 106.5 435.7Z" fill="rgb(255, 187, 0)" fill-rule="evenodd"/>
<path d="M114.0 437.0 119.5 437.0 125.0 437.8 131.5 439.7 137.5 442.3 142.0 445.2 146.5 449.0 151.0 453.8 154.5 458.6 157.5 464.0 160.5 471.0 163.5 480.0 166.5 491.0 168.2 500.5 170.2 525.0 57.2 525.0 59.1 517.0 62.6 495.0 64.4 487.5 67.7 479.5 74.7 465.5 78.0 459.8 85.5 450.3 89.0 446.9 93.0 444.0 97.5 441.6 103.0 439.4 108.5 437.9Z" fill="rgb(255, 180, 0)" fill-rule="evenodd"/>
<path d="M111.0 440.0 117.0 439.5 123.0 440.1 129.5 441.7 135.5 444.0 140.5 446.9 145.0 450.4 149.5 455.0 152.9 459.5 156.2 465.0 159.1 471.5 162.3 481.0 165.0 490.7 166.6 500.0 167.7 520.0 168.6 525.0 59.6 525.0 61.0 518.2 64.0 497.5 66.0 488.5 69.3 480.0 78.1 462.5 81.1 458.0 85.0 453.3 88.5 449.8 92.0 447.0 96.0 444.7 100.5 442.7 105.5 441.1Z" fill="rgb(255, 173, 0)" fill-rule="evenodd"/>
<path d="M110.5 442.5 116.5 442.0 122.0 442.5 128.5 443.9 134.5 446.0 139.0 448.4 143.5 451.7 147.9 456.0 151.5 460.6 154.8 466.0 157.7 472.5 161.0 481.9 163.4 490.5 165.0 499.5 165.8 519.5 166.9 525.0 61.8 525.0 62.9 519.5 65.5 499.5 67.7 489.0 71.2 479.5 78.8 464.0 81.8 459.5 85.0 455.5 88.5 452.0 92.0 449.2 95.5 447.1 100.0 445.1 105.0 443.6Z" fill="rgb(255, 165, 0)" fill-rule="evenodd"/>
<path d="M113.0 444.5 118.5 444.5 124.5 445.2 130.5 446.8 135.5 448.8 140.0 451.4 143.9 454.5 147.7 458.5 151.0 463.0 154.0 468.3 156.7 474.5 159.9 483.5 162.0 491.0 163.5 501.5 163.9 520.0 165.1 525.0 63.9 525.0 64.8 520.0 67.2 500.5 69.5 489.0 73.2 478.5 80.1 464.5 83.2 460.0 86.5 456.1 90.0 452.8 93.5 450.3 97.5 448.3 102.5 446.4 108.0 445.1Z" fill="rgb(255, 158, 0)" fill-rule="evenodd"/>
<path d="M110.0 447.0 116.0 446.6 122.0 447.0 128.5 448.4 134.0 450.3 138.5 452.6 142.3 455.5 146.0 459.2 149.3 463.5 152.2 468.5 155.2 475.0 158.1 483.0 160.2 490.5 161.7 501.5 161.9 519.5 163.2 525.0 66.0 525.0 66.8 520.5 68.8 501.5 71.0 489.5 74.3 479.5 80.0 467.4 82.7 463.0 86.0 458.8 89.0 455.7 92.5 453.0 96.0 451.0 100.0 449.3 105.0 447.9Z" fill="rgb(255, 149, 0)" fill-rule="evenodd"/>
<path d="M110.5 449.0 116.0 448.7 122.0 449.1 128.0 450.3 133.5 452.1 137.5 454.2 141.5 457.1 145.0 460.7 148.2 465.0 151.4 470.5 154.3 477.0 156.8 484.0 158.6 490.5 160.0 501.5 159.7 520.0 161.1 525.0 68.1 525.0 68.9 520.5 70.6 501.5 72.7 489.0 75.7 479.5 80.9 468.5 83.5 464.3 86.5 460.4 89.5 457.3 93.0 454.6 96.5 452.6 100.5 451.1 105.5 449.8Z" fill="rgb(255, 140, 0)" fill-rule="evenodd"/>
<path d="M110.5 450.9 116.0 450.7 122.0 451.1 128.0 452.3 133.5 454.2 137.5 456.3 141.0 459.0 144.0 462.2 147.2 466.5 150.1 471.5 153.1 478.0 155.4 484.5 157.0 490.5 158.2 501.5 157.4 520.0 158.8 525.0 70.3 525.0 71.1 520.5 72.5 501.0 74.2 489.5 76.8 480.5 81.5 470.1 84.0 466.0 87.0 462.0 90.0 458.9 93.1 456.5 96.5 454.6 100.5 453.0 105.5 451.7Z" fill="rgb(255, 131, 0)" fill-rule="evenodd"/>
<path d="M109.5 453.0 115.5 452.6 121.0 452.9 127.0 454.0 132.5 455.8 136.5 457.8 140.0 460.5 143.4 464.0 146.3 468.0 149.5 473.5 152.1 479.5 154.2 485.5 155.5 491.0 156.2 496.5 156.3 502.0 155.0 520.0 155.5 522.5 156.5 525.0 72.6 525.0 73.5 520.0 74.3 501.5 75.6 490.0 77.7 482.0 81.8 472.5 84.4 468.0 86.9 464.5 90.0 461.1 93.0 458.6 96.5 456.5 100.0 455.1Z" fill="rgb(255, 123, 0)" fill-rule="evenodd"/>
<path d="M112.5 454.5 118.0 454.5 123.5 455.1 129.0 456.4 133.5 458.2 137.0 460.3 140.5 463.3 144.0 467.4 146.8 471.5 149.4 476.5 151.6 482.0 153.1 487.0 154.1 492.0 154.6 497.5 154.5 502.5 152.4 518.5 152.7 521.5 154.1 525.0 75.0 525.0 76.0 521.5 76.4 518.0 76.2 501.0 77.1 490.5 79.1 482.0 83.0 473.1 85.5 468.9 88.5 465.0 91.5 461.9 94.8 459.5 98.5 457.6 102.5 456.2 107.5 455.1Z" fill="rgb(255, 114, 0)" fill-rule="evenodd"/>
<path d="M109.5 456.5 115.0 456.1 120.5 456.4 126.5 457.5 131.5 459.2 135.5 461.4 139.0 464.2 142.5 467.9 145.7 472.5 148.4 477.5 150.4 482.5 151.9 487.5 152.7 492.5 152.9 498.0 152.6 503.0 149.6 518.0 150.0 521.5 151.5 525.0 77.6 525.0 79.0 521.0 79.6 517.0 78.1 502.0 78.3 492.5 79.8 484.5 82.6 477.0 84.9 472.5 87.5 468.7 90.5 465.2 93.5 462.5 97.0 460.3 100.5 458.7 105.0 457.3Z" fill="rgb(255, 105, 0)" fill-rule="evenodd"/>
<path d="M111.0 458.0 116.5 457.7 122.0 458.2 127.5 459.6 132.0 461.4 136.0 463.8 139.5 466.8 142.7 470.5 145.7 475.0 147.9 479.5 149.6 484.0 150.7 488.5 151.3 493.5 151.3 498.5 150.7 503.5 146.6 518.0 147.0 521.5 148.7 525.0 80.5 525.0 82.4 521.0 83.0 517.5 80.1 503.0 79.7 498.0 79.8 493.0 80.9 485.5 83.5 478.2 85.7 474.0 88.4 470.0 91.5 466.5 94.5 463.9 98.0 461.7 102.0 460.0 106.5 458.7Z" fill="rgb(253, 96, 0)" fill-rule="evenodd"/>
<path d="M111.5 459.5 117.0 459.3 122.0 459.8 127.5 461.2 132.0 463.2 136.0 465.8 139.6 469.0 142.9 473.0 145.6 477.5 147.4 481.5 148.9 486.0 149.9 494.5 149.7 499.5 148.7 504.5 143.3 518.5 143.6 521.5 145.7 525.0 83.8 525.0 86.0 521.5 86.7 518.5 86.2 515.5 82.4 505.0 81.2 497.5 81.2 493.0 81.7 488.5 82.7 484.0 84.1 480.0 86.1 476.0 88.7 472.0 91.7 468.5 95.0 465.6 98.5 463.4 102.5 461.6 107.0 460.2Z" fill="rgb(252, 87, 0)" fill-rule="evenodd"/>
<path d="M111.0 461.0 116.5 460.7 121.5 461.2 126.5 462.5 131.5 464.6 135.5 467.2 139.1 470.5 142.4 474.5 145.0 479.0 146.7 483.0 147.8 487.0 148.5 492.0 148.5 496.0 147.9 501.0 146.4 506.0 144.3 510.5 140.2 517.5 139.5 519.5 139.8 522.0 142.2 525.0 87.5 525.0 90.2 522.0 91.0 519.5 90.2 517.0 85.0 507.0 83.1 500.0 82.6 495.5 82.7 491.0 83.4 486.5 84.7 482.0 86.5 478.0 89.0 473.9 91.8 470.5 95.0 467.6 98.5 465.2 102.5 463.2 106.5 461.9Z" fill="rgb(250, 79, 0)" fill-rule="evenodd"/>
<path d="M110.5 462.5 116.0 462.1 121.0 462.5 126.0 463.8 131.0 466.0 135.5 469.0 139.0 472.2 142.3 476.5 144.7 481.0 146.1 485.0 146.9 489.0 147.3 493.5 146.8 499.0 145.5 504.0 143.2 509.0 140.5 513.0 134.5 520.5 134.4 521.5 134.9 522.5 138.0 525.0 91.8 525.0 95.2 522.5 96.0 521.5 96.2 520.5 95.5 519.0 88.5 510.0 86.7 506.5 85.2 502.5 84.2 498.0 83.9 493.5 84.2 489.0 85.2 484.5 86.7 480.5 88.9 476.5 91.5 472.9 94.5 469.9 98.0 467.2 102.0 465.0 106.0 463.5Z" fill="rgb(249, 70, 0)" fill-rule="evenodd"/>
<path d="M113.0 463.5 118.5 463.5 123.5 464.4 128.5 466.2 133.5 469.1 137.5 472.5 141.0 476.7 143.6 481.5 145.3 486.5 146.0 493.0 145.6 498.0 144.3 503.0 142.3 507.5 139.2 512.0 135.5 515.7 131.0 518.8 126.0 520.8 123.0 521.2 115.0 520.7 106.5 520.9 103.5 520.2 100.5 518.9 95.5 515.5 91.0 510.7 87.9 505.5 85.9 499.5 85.2 493.5 85.8 487.0 87.8 481.0 91.1 475.5 95.5 470.8 100.5 467.3 106.5 464.7ZM104.0 523.0 107.0 522.7 115.5 523.4 125.0 523.1 128.5 523.7 132.2 525.0 97.3 525.0Z" fill="rgb(247, 61, 0)" fill-rule="evenodd"/>
<path d="M111.0 464.9 116.5 464.6 121.5 465.2 126.5 466.7 131.0 468.9 135.3 472.0 139.0 476.0 141.9 480.5 143.7 485.0 144.6 490.0 144.7 495.5 143.8 500.5 141.9 505.5 139.0 510.0 135.5 513.7 131.5 516.5 127.0 518.4 121.5 519.3 110.5 519.3 105.5 518.7 101.5 517.3 97.0 514.7 93.0 510.9 89.6 506.0 87.6 501.0 86.4 495.0 86.7 489.0 88.1 483.5 90.8 478.0 94.5 473.4 99.5 469.4 105.0 466.6ZM110.0 524.5 117.0 524.5 123.9 525.0 104.7 525.0Z" fill="rgb(245, 52, 0)" fill-rule="evenodd"/>
<path d="M112.0 466.0 117.0 465.8 122.0 466.5 127.0 468.1 131.4 470.5 135.2 473.5 138.5 477.2 141.1 481.5 142.8 486.0 143.6 491.5 143.4 496.5 142.2 501.5 140.2 506.0 137.3 510.0 133.6 513.5 129.5 516.0 125.0 517.6 119.0 518.4 110.5 518.2 105.5 517.4 101.0 515.6 96.5 512.6 93.0 508.9 90.3 504.5 88.3 499.0 87.5 493.5 88.0 488.0 89.7 482.5 92.5 477.5 96.5 473.1 101.0 469.8 106.5 467.3Z" fill="rgb(243, 45, 0)" fill-rule="evenodd"/>
<path d="M113.5 467.0 118.5 467.0 123.0 467.9 127.5 469.6 132.0 472.3 135.6 475.5 138.7 479.5 140.8 483.5 142.1 488.0 142.5 493.0 142.0 498.0 140.6 502.5 138.2 507.0 135.3 510.5 131.5 513.6 127.0 515.9 122.5 517.1 116.5 517.6 110.0 517.2 105.0 516.1 100.5 514.0 96.5 511.0 93.0 506.9 90.4 502.0 89.0 497.0 88.7 491.5 89.5 486.5 91.4 481.5 94.3 477.0 98.4 473.0 103.0 470.0 108.0 468.0Z" fill="rgb(241, 37, 0)" fill-rule="evenodd"/>
<path d="M115.0 468.0 120.0 468.4 124.5 469.5 129.0 471.6 133.0 474.5 136.3 478.0 138.9 482.0 140.6 486.5 141.3 491.0 141.2 496.0 140.2 500.5 138.1 505.0 135.5 508.7 132.0 511.9 128.0 514.4 123.5 516.0 118.5 516.8 112.5 516.7 107.5 515.9 103.0 514.2 99.0 511.7 95.5 508.4 92.5 504.0 90.7 499.5 89.8 494.5 90.0 489.5 91.3 484.5 93.5 480.0 96.5 476.2 100.5 472.8 105.0 470.2 110.0 468.6Z" fill="rgb(238, 30, 0)" fill-rule="evenodd"/>
<path d="M111.0 469.5 116.0 469.1 120.5 469.5 125.0 470.9 129.0 472.9 132.5 475.5 135.7 479.0 138.2 483.0 139.6 487.0 140.3 492.0 140.1 496.0 139.1 500.5 137.2 504.5 134.5 508.2 131.0 511.4 127.0 513.8 123.0 515.2 118.0 516.0 112.5 516.0 107.5 515.0 103.0 513.2 99.0 510.4 95.7 507.0 93.2 503.0 91.5 498.5 90.9 494.0 91.2 489.0 92.4 484.5 94.8 480.0 98.0 476.2 102.0 473.0 106.5 470.8Z" fill="rgb(236, 23, 0)" fill-rule="evenodd"/>
<path d="M111.5 470.5 116.0 470.1 120.5 470.6 124.5 471.8 128.5 473.8 132.0 476.5 135.0 479.8 137.2 483.5 138.6 487.5 139.3 492.5 138.9 497.0 137.8 501.0 136.0 504.5 133.4 508.0 129.9 511.0 126.0 513.3 121.5 514.8 116.5 515.4 111.5 515.1 107.0 514.0 103.0 512.1 99.4 509.5 96.2 506.0 93.9 502.0 92.4 497.5 91.9 493.0 92.3 488.5 93.8 484.0 96.0 480.1 99.2 476.5 103.0 473.6 107.0 471.7Z" fill="rgb(234, 16, 0)" fill-rule="evenodd"/>
<path d="M112.0 471.5 116.0 471.2 120.5 471.7 124.5 473.0 128.5 475.1 132.0 477.9 134.5 481.0 136.5 484.5 137.8 488.5 138.3 493.0 137.8 497.5 136.5 501.5 134.5 505.0 131.5 508.5 128.3 511.0 124.4 513.0 120.0 514.3 115.5 514.7 111.0 514.2 106.8 513.0 102.9 511.0 99.5 508.3 96.7 505.0 94.5 501.0 93.3 497.0 92.9 493.0 93.4 488.5 94.7 484.5 97.0 480.5 100.0 477.2 103.5 474.6 107.5 472.6Z" fill="rgb(231, 9, 0)" fill-rule="evenodd"/>
<path d="M112.5 472.5 116.5 472.3 120.5 472.8 124.5 474.1 128.0 476.0 131.1 478.5 133.6 481.5 135.6 485.0 136.8 489.0 137.2 493.0 136.6 498.0 135.4 501.5 133.3 505.0 130.5 508.1 127.0 510.7 123.0 512.6 119.0 513.6 115.0 513.9 110.5 513.3 106.5 512.0 103.0 510.0 100.0 507.5 97.2 504.0 95.2 500.0 94.2 496.0 94.0 492.0 94.6 488.0 96.1 484.0 98.3 480.5 101.2 477.5 104.5 475.2 108.5 473.4Z" fill="rgb(228, 5, 0)" fill-rule="evenodd"/>
<path d="M113.5 473.4 117.5 473.4 121.5 474.2 125.0 475.5 128.5 477.7 131.5 480.5 133.6 483.5 135.2 487.0 136.0 491.0 136.1 494.5 135.5 498.5 134.1 502.0 131.7 505.5 129.0 508.2 125.5 510.6 121.5 512.2 117.5 513.0 113.5 513.0 109.5 512.2 106.0 510.7 102.5 508.5 99.5 505.5 97.4 502.5 95.9 499.0 95.1 495.0 95.1 491.0 95.8 487.5 97.3 484.0 99.7 480.5 102.5 477.8 106.0 475.6 109.5 474.2Z" fill="rgb(223, 4, 0)" fill-rule="evenodd"/>
<path d="M114.0 474.5 118.0 474.6 122.0 475.5 125.5 477.0 128.5 479.1 131.3 482.0 133.2 485.0 134.6 488.5 135.1 492.0 135.0 495.5 134.3 499.0 132.7 502.5 130.5 505.5 127.8 508.0 124.5 510.1 120.9 511.5 117.0 512.2 113.0 512.1 109.5 511.3 106.0 509.7 102.8 507.5 100.0 504.7 98.0 501.5 96.6 498.0 96.0 494.5 96.1 491.0 96.9 487.5 98.5 484.0 100.7 481.0 103.4 478.5 106.5 476.6 110.0 475.2Z" fill="rgb(218, 3, 0)" fill-rule="evenodd"/>
<path d="M111.5 476.0 115.0 475.6 119.0 475.8 122.5 476.8 125.5 478.3 128.5 480.5 130.7 483.0 132.5 486.0 133.7 489.5 134.1 493.0 133.9 496.5 132.8 500.0 131.2 503.0 129.0 505.7 126.2 508.0 123.0 509.8 119.5 510.9 116.0 511.4 112.5 511.1 109.0 510.1 105.5 508.4 102.5 506.0 100.3 503.5 98.6 500.5 97.4 497.0 97.0 493.5 97.3 490.0 98.4 486.5 100.0 483.6 102.2 481.0 105.0 478.7 108.0 477.1Z" fill="rgb(214, 3, 0)" fill-rule="evenodd"/>
<path d="M112.5 476.9 116.0 476.7 119.5 477.1 122.5 478.0 125.5 479.6 128.0 481.6 130.1 484.0 131.8 487.0 132.7 490.0 133.1 493.5 132.8 496.5 132.0 499.5 130.4 502.5 128.4 505.0 125.5 507.4 122.5 509.0 119.0 510.1 115.5 510.4 112.5 510.1 109.0 509.1 105.9 507.5 103.4 505.5 101.0 502.8 99.4 500.0 98.4 496.5 98.1 493.0 98.4 490.0 99.4 487.0 101.1 484.0 103.3 481.5 106.0 479.4 109.0 477.9Z" fill="rgb(209, 2, 0)" fill-rule="evenodd"/>
<path d="M113.5 478.0 117.0 477.9 120.0 478.4 123.0 479.5 125.5 481.0 127.8 483.0 129.7 485.5 131.2 488.5 131.9 491.5 132.0 494.5 131.5 497.5 130.4 500.5 128.8 503.0 126.5 505.4 124.0 507.2 121.0 508.5 118.0 509.3 115.0 509.4 111.5 508.9 108.5 507.8 105.5 506.0 103.3 504.0 101.4 501.5 100.0 498.5 99.3 495.5 99.2 492.5 99.7 489.5 100.9 486.5 102.5 484.0 105.0 481.5 107.5 479.9 110.5 478.6Z" fill="rgb(204, 1, 0)" fill-rule="evenodd"/>
<path d="M112.0 479.4 115.0 479.0 118.0 479.2 121.0 480.0 123.5 481.1 126.0 482.9 128.0 485.0 129.5 487.5 130.4 490.0 130.9 493.5 130.7 496.0 130.1 498.5 128.9 501.0 127.0 503.5 125.0 505.3 122.5 506.8 119.5 507.9 116.5 508.4 113.5 508.3 110.5 507.6 108.0 506.5 105.5 504.7 103.5 502.7 102.0 500.5 100.8 497.5 100.3 494.5 100.4 491.5 101.3 488.5 102.5 486.0 104.5 483.6 106.5 481.9 109.0 480.4Z" fill="rgb(200, 1, 0)" fill-rule="evenodd"/>
<path d="M113.0 480.5 115.5 480.3 118.5 480.5 121.0 481.3 123.5 482.6 125.9 484.5 127.5 486.5 129.4 491.0 129.7 494.0 129.4 496.5 128.7 499.0 127.5 501.1 125.5 503.5 123.6 505.0 121.0 506.3 118.5 507.1 115.5 507.4 113.0 507.1 108.0 505.2 105.7 503.5 103.9 501.5 102.5 499.0 101.7 496.5 101.5 493.5 101.8 491.0 102.6 488.5 104.0 486.1 105.8 484.0 108.0 482.4Z" fill="rgb(195, 0, 0)" fill-rule="evenodd"/>
<path d="M112.5 481.9 117.5 481.7 122.0 483.2 124.0 484.6 125.8 486.5 127.9 490.5 128.3 495.5 127.7 498.0 126.8 500.0 123.5 503.7 119.0 505.8 114.0 506.2 111.5 505.6 109.0 504.5 105.4 501.5 104.1 499.5 103.2 497.0 102.8 494.5 102.9 492.0 104.7 487.5 108.0 484.0Z" fill="rgb(189, 0, 0)" fill-rule="evenodd"/>
<path d="M114.5 483.0 119.0 483.5 122.8 485.5 125.7 489.0 126.8 493.0 126.5 497.1 124.5 501.0 121.0 503.8 117.0 505.1 112.5 504.7 108.5 502.7 105.7 499.5 104.3 495.5 104.7 491.0 106.8 487.0 110.5 484.1Z" fill="rgb(183, 0, 0)" fill-rule="evenodd"/>
<path d="M115.0 484.5 118.8 485.0 122.0 487.0 124.2 490.0 125.2 494.0 124.5 498.0 122.6 501.0 119.5 503.1 116.0 503.9 112.5 503.4 109.1 501.5 106.8 498.5 105.9 495.0 106.5 491.0 108.2 488.0 111.3 485.5Z" fill="rgb(177, 0, 0)" fill-rule="evenodd"/>
<path d="M113.5 486.5 116.5 486.2 119.5 487.4 121.7 489.5 123.0 492.5 123.1 496.0 122.0 499.0 120.0 501.2 117.0 502.5 114.0 502.4 111.5 501.4 109.4 499.5 108.1 496.5 108.0 493.0 109.0 490.2 111.0 487.8Z" fill="rgb(171, 0, 0)" fill-rule="evenodd"/>
<path d="M114.5 488.5 116.6 488.5 119.0 490.0 120.2 492.0 120.7 494.5 120.6 497.0 119.6 499.0 118.0 500.3 116.0 501.0 114.0 500.7 112.0 499.5 110.9 498.0 110.3 496.0 110.5 493.0 111.3 491.0 112.6 489.5Z" fill="rgb(165, 0, 0)" fill-rule="evenodd"/>
<path d="M115.0 492.8 116.5 493.1 117.4 495.0 117.1 497.0 116.0 498.0 114.5 497.7 113.6 496.0 113.9 494.0Z" fill="rgb(159, 0, 0)" fill-rule="evenodd"/>
</g>
<path d="M50.0 471.6 76.0 430.2 79.7 425.5 84.0 421.7 89.0 418.6 95.0 415.6 101.5 413.1 107.5 411.4 114.0 410.2 121.0 409.6 127.0 409.8 132.0 410.7 136.5 412.2 140.5 414.0 144.5 416.5 147.5 418.9 152.0 424.3 159.0 436.2 165.8 450.5 172.1 467.5 174.9 477.0 176.8 489.5 182.0 505.0" fill="none" stroke="#262626" stroke-width="0.75" stroke-opacity="0.9"/>
<path d="M54.4 525.0 56.8 516.5 60.4 494.5 62.4 486.5 65.6 479.0 73.7 463.5 77.3 457.5 82.0 451.3 86.0 446.7 89.5 443.5 93.5 440.8 99.5 437.8 105.5 435.7 112.0 434.1 117.5 433.7 123.0 434.1 128.5 435.3 135.0 437.7 140.0 440.3 144.0 443.1 148.5 447.4 152.5 452.1 156.0 457.3 159.3 463.5 162.3 471.0 165.2 480.0 168.2 491.5 170.0 502.5 172.0 525.0" fill="none" stroke="#262626" stroke-width="0.75" stroke-opacity="0.9"/>
<path d="M71.1 525.0 72.0 520.0 73.2 500.5 75.0 488.5 76.3 483.5 78.1 478.5 80.5 473.1 83.0 468.5 85.7 464.5 89.0 460.7 92.0 458.0 95.5 455.8 99.5 454.1 104.5 452.6 110.0 451.7 115.5 451.4 121.0 451.7 126.5 452.7 131.5 454.1 135.5 455.9 139.0 458.2 142.1 461.0 145.5 465.1 148.4 469.5 151.2 475.0 153.6 481.0 155.4 486.5 156.6 492.0 157.3 497.5 157.5 502.5 156.5 520.0 157.0 522.5 158.0 525.0" fill="none" stroke="#262626" stroke-width="0.75" stroke-opacity="0.9"/>
<path d="M96.5 525.0 101.0 523.3 105.6 522.0 105.5 521.5 100.5 519.3 95.5 515.8 91.4 511.5 88.2 506.5 86.1 501.0 85.1 495.5 85.2 490.0 86.3 484.5 88.1 480.0 90.5 476.0 94.0 472.0 97.5 469.0 101.5 466.6 106.0 464.7 110.5 463.6 115.5 463.2 120.5 463.6 125.5 464.8 130.0 466.7 134.0 469.2 137.5 472.2 140.7 476.0 143.3 480.5 145.0 485.0 145.7 488.0 146.2 493.0 145.8 497.5 144.5 503.0 142.2 508.0 139.0 512.5 134.5 516.8 129.0 520.2 124.1 522.0 133.1 525.0M112.0 521.0 108.2 521.5 107.0 522.0 112.1 523.0 115.5 523.2 119.1 523.0 123.8 522.0 117.6 521.0 115.0 520.9 112.0 521.0" fill="none" stroke="#262626" stroke-width="0.75" stroke-opacity="0.9"/>
<path d="M111.5 472.0 115.5 471.6 120.0 472.0 124.0 473.2 127.7 475.0 131.0 477.5 133.7 480.5 135.8 484.0 137.3 488.0 137.9 493.0 137.5 497.0 136.5 500.5 134.5 504.4 132.0 507.5 128.5 510.5 124.8 512.5 120.5 513.9 116.0 514.4 111.5 514.0 107.5 512.9 103.5 511.0 100.0 508.3 97.1 505.0 95.1 501.5 93.8 497.5 93.3 493.0 93.7 489.0 94.9 485.0 97.0 481.2 100.0 477.7 103.5 475.0 107.5 473.1 111.5 472.0" fill="none" stroke="#262626" stroke-width="0.75" stroke-opacity="0.9"/>
<path d="M112.5 480.4 115.5 480.1 118.0 480.3 120.5 480.9 123.0 482.1 125.0 483.5 127.0 485.5 128.6 488.0 129.5 490.5 129.9 493.5 129.7 496.0 129.0 498.5 128.0 500.6 126.5 502.7 124.5 504.5 122.1 506.0 119.5 507.0 116.5 507.5 114.0 507.4 111.0 506.8 108.5 505.7 106.1 504.0 104.1 502.0 102.6 499.5 101.7 497.0 101.3 494.5 101.5 491.5 102.2 489.0 103.5 486.5 105.1 484.5 107.5 482.5 110.0 481.2 112.5 480.4" fill="none" stroke="#262626" stroke-width="0.75" stroke-opacity="0.9"/>
</g>
<ellipse cx="115.8" cy="462.5" rx="62.8" ry="59.5" fill="none" stroke="#151515" stroke-width="1.6"/>
<path d="M54.73 68.76 C54.34 68.30 52.97 66.50 52.42 66.03 C51.86 65.56 51.81 65.87 51.39 65.93 C50.96 65.99 50.37 65.92 49.86 66.39 C49.35 66.86 48.54 66.28 48.32 68.76 C48.10 71.24 48.67 77.38 48.56 81.28 C48.45 85.18 47.49 89.56 47.67 92.16 C47.84 94.76 48.80 95.95 49.59 96.88 C50.38 97.82 51.39 98.00 52.42 97.76 C53.44 97.53 55.20 95.85 55.75 95.47" fill="none" stroke="#1a1a1a" stroke-width="1.3"/>
<path d="M181.07 68.76 C181.46 68.30 182.83 66.50 183.38 66.03 C183.94 65.56 183.99 65.87 184.41 65.93 C184.84 65.99 185.43 65.92 185.94 66.39 C186.45 66.86 187.26 66.28 187.48 68.76 C187.70 71.24 187.13 77.38 187.24 81.28 C187.35 85.18 188.31 89.56 188.13 92.16 C187.96 94.76 187.00 95.95 186.21 96.88 C185.42 97.82 184.41 98.00 183.38 97.76 C182.36 97.53 180.60 95.85 180.05 95.47" fill="none" stroke="#1a1a1a" stroke-width="1.3"/>
<line x1="106.34" y1="19.10" x2="110.94" y2="15.20" stroke="#1a1a1a" stroke-width="1.35"/>
<line x1="129.46" y1="19.10" x2="124.86" y2="15.20" stroke="#1a1a1a" stroke-width="1.35"/>
<circle cx="97.66" cy="20.40" r="0.9" fill="#222"/>
<circle cx="138.14" cy="20.40" r="0.9" fill="#222"/>
<circle cx="64.91" cy="43.39" r="0.9" fill="#222"/>
<circle cx="170.89" cy="43.39" r="0.9" fill="#222"/>
<circle cx="52.40" cy="80.60" r="0.9" fill="#222"/>
<circle cx="183.40" cy="80.60" r="0.9" fill="#222"/>
<circle cx="64.91" cy="117.81" r="0.9" fill="#222"/>
<circle cx="170.89" cy="117.81" r="0.9" fill="#222"/>
<circle cx="97.66" cy="140.80" r="0.9" fill="#222"/>
<circle cx="138.14" cy="140.80" r="0.9" fill="#222"/>
<circle cx="90.70" cy="49.70" r="0.85" fill="#222"/>
<circle cx="117.80" cy="49.70" r="0.85" fill="#222"/>
<circle cx="144.90" cy="49.70" r="0.85" fill="#222"/>
<circle cx="84.90" cy="81.00" r="0.85" fill="#222"/>
<circle cx="117.80" cy="81.00" r="0.85" fill="#222"/>
<circle cx="150.70" cy="81.00" r="0.85" fill="#222"/>
<circle cx="90.70" cy="113.20" r="0.85" fill="#222"/>
<circle cx="117.80" cy="113.20" r="0.85" fill="#222"/>
<circle cx="144.90" cy="113.20" r="0.85" fill="#222"/>
<path d="M52.95 256.76 C52.55 256.32 51.16 254.57 50.59 254.11 C50.03 253.65 49.98 253.95 49.55 254.01 C49.11 254.07 48.51 254.00 47.99 254.46 C47.47 254.92 46.64 254.35 46.42 256.76 C46.20 259.18 46.78 265.17 46.67 268.96 C46.56 272.76 45.58 277.03 45.75 279.56 C45.93 282.09 46.91 283.25 47.71 284.16 C48.52 285.07 49.55 285.25 50.59 285.02 C51.64 284.79 53.43 283.16 53.99 282.78" fill="none" stroke="#1a1a1a" stroke-width="1.3"/>
<path d="M181.65 256.76 C182.05 256.32 183.44 254.57 184.01 254.11 C184.57 253.65 184.62 253.95 185.05 254.01 C185.49 254.07 186.09 254.00 186.61 254.46 C187.13 254.92 187.96 254.35 188.18 256.76 C188.40 259.18 187.82 265.17 187.93 268.96 C188.04 272.76 189.02 277.03 188.85 279.56 C188.67 282.09 187.69 283.25 186.89 284.16 C186.08 285.07 185.05 285.25 184.01 285.02 C182.96 284.79 181.17 283.16 180.61 282.78" fill="none" stroke="#1a1a1a" stroke-width="1.3"/>
<line x1="105.53" y1="208.38" x2="111.92" y2="203.20" stroke="#1a1a1a" stroke-width="1.35"/>
<line x1="129.07" y1="208.38" x2="122.68" y2="203.20" stroke="#1a1a1a" stroke-width="1.35"/>
<circle cx="96.69" cy="209.62" r="0.9" fill="#222"/>
<circle cx="137.91" cy="209.62" r="0.9" fill="#222"/>
<circle cx="63.34" cy="232.03" r="0.9" fill="#222"/>
<circle cx="171.26" cy="232.03" r="0.9" fill="#222"/>
<circle cx="50.60" cy="268.30" r="0.9" fill="#222"/>
<circle cx="184.00" cy="268.30" r="0.9" fill="#222"/>
<circle cx="63.34" cy="304.57" r="0.9" fill="#222"/>
<circle cx="171.26" cy="304.57" r="0.9" fill="#222"/>
<circle cx="96.69" cy="326.98" r="0.9" fill="#222"/>
<circle cx="137.91" cy="326.98" r="0.9" fill="#222"/>
<circle cx="89.60" cy="237.60" r="0.85" fill="#222"/>
<circle cx="117.20" cy="237.60" r="0.85" fill="#222"/>
<circle cx="144.80" cy="237.60" r="0.85" fill="#222"/>
<circle cx="83.60" cy="268.70" r="0.85" fill="#222"/>
<circle cx="117.20" cy="268.70" r="0.85" fill="#222"/>
<circle cx="150.60" cy="268.70" r="0.85" fill="#222"/>
<circle cx="89.40" cy="300.20" r="0.85" fill="#222"/>
<circle cx="117.20" cy="300.20" r="0.85" fill="#222"/>
<circle cx="144.80" cy="300.20" r="0.85" fill="#222"/>
<path d="M54.00 451.14 C53.63 450.70 52.29 448.97 51.74 448.52 C51.20 448.07 51.16 448.36 50.74 448.42 C50.32 448.48 49.74 448.41 49.24 448.86 C48.74 449.31 47.95 448.75 47.74 451.14 C47.53 453.52 48.08 459.41 47.98 463.15 C47.87 466.90 46.93 471.10 47.10 473.59 C47.26 476.09 48.21 477.23 48.98 478.12 C49.76 479.02 50.74 479.20 51.74 478.97 C52.75 478.74 54.47 477.14 55.01 476.77" fill="none" stroke="#1a1a1a" stroke-width="1.3"/>
<path d="M177.60 451.14 C177.97 450.70 179.31 448.97 179.86 448.52 C180.40 448.07 180.44 448.36 180.86 448.42 C181.28 448.48 181.86 448.41 182.36 448.86 C182.86 449.31 183.65 448.75 183.86 451.14 C184.07 453.52 183.52 459.41 183.62 463.15 C183.73 466.90 184.67 471.10 184.50 473.59 C184.34 476.09 183.39 477.23 182.62 478.12 C181.84 479.02 180.86 479.20 179.86 478.97 C178.85 478.74 177.13 477.14 176.59 476.77" fill="none" stroke="#1a1a1a" stroke-width="1.3"/>
<line x1="104.50" y1="403.48" x2="113.00" y2="396.40" stroke="#1a1a1a" stroke-width="1.35"/>
<line x1="127.10" y1="403.48" x2="118.60" y2="396.40" stroke="#1a1a1a" stroke-width="1.35"/>
<circle cx="95.99" cy="404.68" r="0.9" fill="#222"/>
<circle cx="135.61" cy="404.68" r="0.9" fill="#222"/>
<circle cx="63.94" cy="426.76" r="0.9" fill="#222"/>
<circle cx="167.66" cy="426.76" r="0.9" fill="#222"/>
<circle cx="51.70" cy="462.50" r="0.9" fill="#222"/>
<circle cx="179.90" cy="462.50" r="0.9" fill="#222"/>
<circle cx="63.94" cy="498.24" r="0.9" fill="#222"/>
<circle cx="167.66" cy="498.24" r="0.9" fill="#222"/>
<circle cx="95.99" cy="520.32" r="0.9" fill="#222"/>
<circle cx="135.61" cy="520.32" r="0.9" fill="#222"/>
<circle cx="89.20" cy="432.00" r="0.85" fill="#222"/>
<circle cx="115.80" cy="432.00" r="0.85" fill="#222"/>
<circle cx="142.10" cy="432.00" r="0.85" fill="#222"/>
<circle cx="83.20" cy="462.70" r="0.85" fill="#222"/>
<circle cx="115.80" cy="462.70" r="0.85" fill="#222"/>
<circle cx="148.40" cy="462.70" r="0.85" fill="#222"/>
<circle cx="89.20" cy="492.90" r="0.85" fill="#222"/>
<circle cx="115.80" cy="492.90" r="0.85" fill="#222"/>
<circle cx="142.10" cy="492.90" r="0.85" fill="#222"/>
<text x="17.5" y="10.7" font-family="Liberation Serif" font-weight="bold" font-size="8.7" fill="#111" stroke="#111" stroke-width="0.22" textLength="189.2" lengthAdjust="spacingAndGlyphs">Scalp Topography of eye blinking component</text>
<text x="1.7" y="199" font-family="Liberation Serif" font-weight="bold" font-size="8.7" fill="#111" stroke="#111" stroke-width="0.22" textLength="211.5" lengthAdjust="spacingAndGlyphs">Scalp Topography of muscular activity component</text>
<text x="35.5" y="391" font-family="Liberation Serif" font-weight="bold" font-size="8.7" fill="#111" stroke="#111" stroke-width="0.22" textLength="161.3" lengthAdjust="spacingAndGlyphs">Scalp Topography of brain component</text>
<path d="M235.8 81.25 L236.4 77.35 L237 79.94 L237.6 79.14 L238.2 79.28 L238.8 79.53 L239.4 78.03 L240 79.59 L240.6 79.01 L241.2 82.41 L241.8 79.77 L242.4 79.22 L243 79.21 L243.6 78.81 L244.2 78.42 L244.8 78.88 L245.4 79.67 L246 79.21 L246.6 80.28 L247.2 79.48 L247.8 79.78 L248.4 81.1 L249 80.43 L249.6 79.7 L250.2 80 L250.8 80.42 L251.4 81.36 L252 79.51 L252.6 79.39 L253.2 80.2 L253.8 78.6 L254.4 78.92 L255 79.66 L255.6 79.21 L256.2 78.64 L256.8 78.85 L257.4 76.11 L258 78.74 L258.6 77.14 L259.2 77.05 L259.8 78.65 L260.4 79.22 L261 78.73 L261.6 78.54 L262.2 79.48 L262.8 79.28 L263.4 80.28 L264 79.63 L264.6 79.07 L265.2 79.64 L265.8 78.46 L266.4 78.11 L267 79.45 L267.6 79.72 L268.2 79.44 L268.8 79.32 L269.4 80.29 L270 78.31 L270.6 80.79 L271.2 80.49 L271.8 78.71 L272.4 79.87 L273 78.94 L273.6 80.12 L274.2 77.82 L274.8 78.48 L275.4 79.86 L276 80.3 L276.6 77.71 L277.2 79.15 L277.8 79.91 L278.4 79.25 L279 81.13 L279.6 78.94 L280.2 80.28 L280.8 79.03 L281.4 80.96 L282 79.7 L282.6 79.33 L283.2 78.14 L283.8 80.85 L284.4 80 L285 79.97 L285.6 80.32 L286.2 79.8 L286.8 79.11 L287.4 79.09 L288 79.2 L288.6 81.04 L289.2 78.89 L289.8 79.68 L290.4 79.95 L291 80.45 L291.6 80.79 L292.2 79.25 L292.8 78.87 L293.4 80.4 L294 81.49 L294.6 81.15 L295.2 80.65 L295.8 80.1 L296.4 80.48 L297 79.95 L297.6 80.69 L298.2 79.29 L298.8 79.92 L299.4 79.62 L300 80.08 L300.6 79.87 L301.2 81.86 L301.8 81.08 L302.4 81.16 L303 78.35 L303.6 79.83 L304.2 79.69 L304.8 80.72 L305.4 78.37 L306 81.37 L306.6 81.32 L307.2 79.31 L307.8 79.62 L308.4 79.81 L309 80.58 L309.6 81.15 L310.2 82.09 L310.8 80.14 L311.4 80.58 L312 79.91 L312.6 80.8 L313.2 79.84 L313.8 80.04 L314.4 78.08 L315 78.46 L315.6 77.71 L316.2 79.4 L316.8 79.28 L317.4 79.28 L318 79.73 L318.6 80.79 L319.2 80.65 L319.8 80.7 L320.4 81.57 L321 82.73 L321.6 80.58 L322.2 80.13 L322.8 79.46 L323.4 79.11 L324 80.19 L324.6 80.15 L325.2 79.31 L325.8 79.26 L326.4 78.85 L327 78.59 L327.6 77.15 L328.2 77.34 L328.8 77.23 L329.4 76.36 L330 75.43 L330.6 73.52 L331.2 71.83 L331.8 70.37 L332.4 68.67 L333 67.48 L333.6 66.87 L334.2 66.04 L334.8 65.38 L335.4 60.87 L336 55.98 L336.6 50.42 L337.2 52.96 L337.8 56.93 L338.4 62.36 L339 70.9 L339.6 79.39 L340.2 86.33 L340.8 92.56 L341.4 99.01 L342 104.46 L342.6 109.4 L343.2 114.93 L343.8 118.08 L344.4 117.59 L345 115.69 L345.6 113.38 L346.2 110 L346.8 106.62 L347.4 102.9 L348 99.71 L348.6 96.82 L349.2 94.35 L349.8 91.05 L350.4 88.6 L351 85.42 L351.6 83.02 L352.2 80.87 L352.8 78.53 L353.4 76.66 L354 74.71 L354.6 73.08 L355.2 72.76 L355.8 72.72 L356.4 71.41 L357 70.79 L357.6 69.97 L358.2 68.46 L358.8 68.51 L359.4 66.49 L360 66.45 L360.6 63.22 L361.2 58.2 L361.8 52.89 L362.4 41.18 L363 30.28 L363.6 22.72 L364.2 15.26 L364.8 15.92 L365.4 20.56 L366 28.89 L366.6 40.85 L367.2 52.89 L367.8 64.13 L368.4 75.62 L369 86.74 L369.6 97.22 L370.2 107.56 L370.8 114.43 L371.4 120.27 L372 125.83 L372.6 124.72 L373.2 123.12 L373.8 120.35 L374.4 116.67 L375 113.48 L375.6 110.04 L376.2 106.62 L376.8 103.13 L377.4 100.24 L378 97.03 L378.6 93.43 L379.2 90.56 L379.8 88.28 L380.4 85.77 L381 83.91 L381.6 81.15 L382.2 78.43 L382.8 76.89 L383.4 75.55 L384 74.74 L384.6 72.39 L385.2 70.93 L385.8 70.03 L386.4 69.18 L387 69.81 L387.6 67.72 L388.2 67.81 L388.8 66.99 L389.4 67.32 L390 65.76 L390.6 68.11 L391.2 66.47 L391.8 66.52 L392.4 65.64 L393 65.73 L393.6 66.75 L394.2 67.02 L394.8 67.27 L395.4 68.02 L396 68.21 L396.6 68.3 L397.2 69.24 L397.8 69.58 L398.4 69.66 L399 70.62 L399.6 71.42 L400.2 71.34 L400.8 71.52 L401.4 72.64 L402 73.83 L402.6 73.16 L403.2 73.74 L403.8 74.25 L404.4 75.95 L405 76.17 L405.6 78.27 L406.2 79.88 L406.8 80.42 L407.4 82.18 L408 81.92 L408.6 81.5 L409.2 82.31 L409.8 81.47 L410.4 82.41 L411 84.29 L411.6 82.88 L412.2 84.97 L412.8 84.2 L413.4 85.27 L414 85.1 L414.6 84.12 L415.2 85.54 L415.8 86.45 L416.4 85.26 L417 84.92 L417.6 85.97 L418.2 85.03 L418.8 84.06 L419.4 84.6 L420 85.62 L420.6 84.64 L421.2 85.93 L421.8 86.67 L422.4 86.08 L423 85.7 L423.6 85.96 L424.2 87.12 L424.8 88.13 L425.4 87.79 L426 88.09 L426.6 87.34 L427.2 88.03 L427.8 87.45 L428.4 87.64 L429 86.91 L429.6 86.67 L430.2 87.65 L430.8 87 L431.4 86.87 L432 87.77 L432.6 86.98 L433.2 88.87 L433.8 87.23 L434.4 85.93 L435 86.35 L435.6 85.61 L436.2 84.53 L436.8 85.07 L437.4 83.5 L438 81.63 L438.6 83.6 L439.2 82.37 L439.8 83.44 L440.4 81.72 L441 81.06 L441.6 82.54 L442.2 80.5 L442.8 81.04 L443.4 81.58 L444 80.39 L444.6 79.97 L445.2 79.8 L445.8 80 L446.4 78.6 L447 79.25 L447.6 78.88 L448.2 79.66 L448.8 77.6 L449.4 76.89 L450 77.6 L450.6 76.53 L451.2 76.62 L451.8 76.18 L452.4 76.86 L453 75.57 L453.6 76.18 L454.2 74.61 L454.8 76.02 L455.4 77.99 L456 76.59 L456.6 76.78 L457.2 76.64 L457.8 78.15 L458.4 78.19 L459 77.61 L459.6 79.14 L460.2 79.19 L460.8 79.86 L461.4 79.02 L462 80.16 L462.6 78.93 L463.2 78.19 L463.8 77.53 L464.4 77.27 L465 77.61 L465.6 76.73 L466.2 77.85 L466.8 77.38 L467.4 77.99 L468 77.5 L468.6 76.7 L469.2 75.07 L469.8 76.93 L470.4 77.33 L471 76.76 L471.6 77.22 L472.2 76.63 L472.8 76.87 L473.4 76.63 L474 78.53 L474.6 77.8 L475.2 77.49 L475.8 77.04 L476.4 78.1 L477 79.47 L477.6 78.91 L478.2 78.12 L478.8 79.74 L479.4 79.45 L480 78.9 L480.6 78.54 L481.2 78.58 L481.8 77.92 L482.4 77.86 L483 76.53 L483.6 77.93 L484.2 76.84 L484.8 78.28 L485.4 75.54 L486 77.73 L486.6 78.15 L487.2 77.42 L487.8 78.21 L488.4 78.64 L489 78.74 L489.6 78.16 L490.2 78.65 L490.8 79.5 L491.4 79.53 L492 78.48 L492.6 78.32 L493.2 78.28 L493.8 78.78 L494.4 77.02 L495 76.67 L495.6 77.65 L496.2 76.56" fill="none" stroke="#2f7fc1" stroke-width="0.95" stroke-linejoin="round" stroke-linecap="round"/>
<path d="M270.9 131.2v-2.2M270.9 12v2.2M311.6 131.2v-2.2M311.6 12v2.2M352.3 131.2v-2.2M352.3 12v2.2M393 131.2v-2.2M393 12v2.2M433.7 131.2v-2.2M433.7 12v2.2M474.4 131.2v-2.2M474.4 12v2.2M235.8 131.15h2.2M496.7 131.15h-2.2M235.8 114.1h2.2M496.7 114.1h-2.2M235.8 97.05h2.2M496.7 97.05h-2.2M235.8 80h2.2M496.7 80h-2.2M235.8 62.95h2.2M496.7 62.95h-2.2M235.8 45.9h2.2M496.7 45.9h-2.2M235.8 28.85h2.2M496.7 28.85h-2.2M235.8 11.8h2.2M496.7 11.8h-2.2" stroke="#6a6a6a" stroke-width="0.8" fill="none"/>
<rect x="235.8" y="12" width="260.9" height="119.2" fill="none" stroke="#9c9c9c" stroke-width="1.6"/>
<text x="233.3" y="133.95" font-family="Liberation Serif" font-weight="bold" font-size="8.5" fill="#141414" stroke="#141414" stroke-width="0.22" text-anchor="end" textLength="13.03" lengthAdjust="spacingAndGlyphs">-60</text>
<text x="233.3" y="116.9" font-family="Liberation Serif" font-weight="bold" font-size="8.5" fill="#141414" stroke="#141414" stroke-width="0.22" text-anchor="end" textLength="13.03" lengthAdjust="spacingAndGlyphs">-40</text>
<text x="233.3" y="99.85" font-family="Liberation Serif" font-weight="bold" font-size="8.5" fill="#141414" stroke="#141414" stroke-width="0.22" text-anchor="end" textLength="13.03" lengthAdjust="spacingAndGlyphs">-20</text>
<text x="233.3" y="82.8" font-family="Liberation Serif" font-weight="bold" font-size="8.5" fill="#141414" stroke="#141414" stroke-width="0.22" text-anchor="end" textLength="4.89" lengthAdjust="spacingAndGlyphs">0</text>
<text x="233.3" y="65.75" font-family="Liberation Serif" font-weight="bold" font-size="8.5" fill="#141414" stroke="#141414" stroke-width="0.22" text-anchor="end" textLength="9.77" lengthAdjust="spacingAndGlyphs">20</text>
<text x="233.3" y="48.7" font-family="Liberation Serif" font-weight="bold" font-size="8.5" fill="#141414" stroke="#141414" stroke-width="0.22" text-anchor="end" textLength="9.77" lengthAdjust="spacingAndGlyphs">40</text>
<text x="233.3" y="31.65" font-family="Liberation Serif" font-weight="bold" font-size="8.5" fill="#141414" stroke="#141414" stroke-width="0.22" text-anchor="end" textLength="9.77" lengthAdjust="spacingAndGlyphs">60</text>
<text x="233.3" y="14.6" font-family="Liberation Serif" font-weight="bold" font-size="8.5" fill="#141414" stroke="#141414" stroke-width="0.22" text-anchor="end" textLength="9.77" lengthAdjust="spacingAndGlyphs">80</text>
<text x="270.9" y="143.6" font-family="Liberation Serif" font-weight="bold" font-size="8.5" fill="#141414" stroke="#141414" stroke-width="0.22" text-anchor="middle" textLength="12.75" lengthAdjust="spacingAndGlyphs">0.8</text>
<text x="311.6" y="143.6" font-family="Liberation Serif" font-weight="bold" font-size="8.5" fill="#141414" stroke="#141414" stroke-width="0.22" text-anchor="middle" textLength="12.75" lengthAdjust="spacingAndGlyphs">1.0</text>
<text x="352.3" y="143.6" font-family="Liberation Serif" font-weight="bold" font-size="8.5" fill="#141414" stroke="#141414" stroke-width="0.22" text-anchor="middle" textLength="12.75" lengthAdjust="spacingAndGlyphs">1.2</text>
<text x="393" y="143.6" font-family="Liberation Serif" font-weight="bold" font-size="8.5" fill="#141414" stroke="#141414" stroke-width="0.22" text-anchor="middle" textLength="12.75" lengthAdjust="spacingAndGlyphs">1.4</text>
<text x="433.7" y="143.6" font-family="Liberation Serif" font-weight="bold" font-size="8.5" fill="#141414" stroke="#141414" stroke-width="0.22" text-anchor="middle" textLength="12.75" lengthAdjust="spacingAndGlyphs">1.6</text>
<text x="474.4" y="143.6" font-family="Liberation Serif" font-weight="bold" font-size="8.5" fill="#141414" stroke="#141414" stroke-width="0.22" text-anchor="middle" textLength="12.75" lengthAdjust="spacingAndGlyphs">1.8</text>
<text x="313.1" y="8" font-family="Liberation Serif" font-weight="bold" font-size="8.6" fill="#141414" stroke="#141414" stroke-width="0.22" textLength="106.2" lengthAdjust="spacingAndGlyphs">Component Time Series</text>
<text x="345.3" y="155" font-family="Liberation Serif" font-weight="bold" font-size="8.6" fill="#141414" stroke="#141414" stroke-width="0.22" textLength="36.3" lengthAdjust="spacingAndGlyphs">Time (s)</text>
<text x="213.7" y="73.2" font-family="Liberation Serif" font-weight="bold" font-size="8.6" fill="#141414" stroke="#141414" stroke-width="0.22" text-anchor="middle" textLength="61.1" lengthAdjust="spacingAndGlyphs" transform="rotate(-90 213.7 73.2)">Amplitude (µV)</text>
<text x="351" y="175.5" font-family="Liberation Sans" font-weight="bold" font-size="14.2" fill="#111" textLength="20.9" lengthAdjust="spacingAndGlyphs">(A)</text>
<line x1="574.6" y1="13.4" x2="574.6" y2="128.9" stroke="#e4e4e4" stroke-width="0.7"/>
<line x1="609.17" y1="13.4" x2="609.17" y2="128.9" stroke="#e4e4e4" stroke-width="0.7"/>
<line x1="643.74" y1="13.4" x2="643.74" y2="128.9" stroke="#e4e4e4" stroke-width="0.7"/>
<line x1="543.1" y1="28.8" x2="678.3" y2="28.8" stroke="#e4e4e4" stroke-width="0.7"/>
<line x1="543.1" y1="48.16" x2="678.3" y2="48.16" stroke="#e4e4e4" stroke-width="0.7"/>
<line x1="543.1" y1="67.52" x2="678.3" y2="67.52" stroke="#e4e4e4" stroke-width="0.7"/>
<line x1="543.1" y1="86.88" x2="678.3" y2="86.88" stroke="#e4e4e4" stroke-width="0.7"/>
<line x1="543.1" y1="106.24" x2="678.3" y2="106.24" stroke="#e4e4e4" stroke-width="0.7"/>
<line x1="543.1" y1="125.6" x2="678.3" y2="125.6" stroke="#e4e4e4" stroke-width="0.7"/>
<path d="M543.14 13.31 L543.48 14.39 L543.82 15.46 L544.16 16.52 L544.5 17.57 L544.84 18.61 L545.17 19.65 L545.51 20.68 L545.85 21.7 L546.19 22.71 L546.53 23.71 L546.87 24.71 L547.21 25.7 L547.55 26.69 L547.88 27.68 L548.22 28.66 L548.56 29.64 L548.9 30.6 L549.24 31.55 L549.58 32.47 L549.92 33.37 L550.26 34.24 L550.59 35.08 L550.93 35.88 L551.27 36.64 L551.61 37.38 L551.95 38.1 L552.29 38.82 L552.63 39.54 L552.97 40.27 L553.3 41.03 L553.64 41.83 L553.98 42.66 L554.32 43.55 L554.66 44.47 L555 45.42 L555.34 46.4 L555.68 47.38 L556.01 48.37 L556.35 49.35 L556.69 50.32 L557.03 51.26 L557.37 52.18 L557.71 53.1 L558.05 54.05 L558.39 55.01 L558.72 55.96 L559.06 56.9 L559.4 57.79 L559.74 58.64 L560.08 59.42 L560.42 60.12 L560.76 60.72 L561.1 61.26 L561.43 61.79 L561.77 62.3 L562.11 62.79 L562.45 63.24 L562.79 63.66 L563.13 64.03 L563.47 64.34 L563.81 64.59 L564.14 64.78 L564.48 64.9 L564.82 65.02 L565.16 65.14 L565.5 65.24 L565.84 65.33 L566.18 65.41 L566.52 65.48 L566.86 65.53 L567.19 65.56 L567.53 65.58 L567.87 65.57 L568.21 65.51 L568.55 65.39 L568.89 65.23 L569.23 65.05 L569.57 64.85 L569.9 64.64 L570.24 64.44 L570.58 64.26 L570.92 64.11 L571.26 64 L571.6 63.91 L571.94 63.83 L572.28 63.76 L572.61 63.7 L572.95 63.63 L573.29 63.57 L573.63 63.5 L573.97 63.43 L574.31 63.34 L574.65 63.25 L574.99 63.12 L575.32 62.95 L575.66 62.76 L576 62.56 L576.34 62.35 L576.68 62.16 L577.02 61.98 L577.36 61.84 L577.7 61.75 L578.03 61.71 L578.37 61.74 L578.71 61.82 L579.05 61.94 L579.39 62.1 L579.73 62.26 L580.07 62.43 L580.41 62.59 L580.74 62.73 L581.08 62.82 L581.42 62.87 L581.76 62.87 L582.1 62.83 L582.44 62.77 L582.78 62.7 L583.12 62.62 L583.45 62.53 L583.79 62.45 L584.13 62.38 L584.47 62.33 L584.81 62.3 L585.15 62.3 L585.49 62.31 L585.83 62.34 L586.16 62.38 L586.5 62.43 L586.84 62.48 L587.18 62.53 L587.52 62.58 L587.86 62.62 L588.2 62.66 L588.54 62.69 L588.88 62.71 L589.21 62.73 L589.55 62.75 L589.89 62.76 L590.23 62.78 L590.57 62.8 L590.91 62.81 L591.25 62.83 L591.59 62.85 L591.92 62.88 L592.26 62.9 L592.6 62.93 L592.94 62.95 L593.28 62.98 L593.62 63.02 L593.96 63.05 L594.3 63.09 L594.63 63.14 L594.97 63.19 L595.31 63.26 L595.65 63.33 L595.99 63.44 L596.33 63.58 L596.67 63.75 L597.01 63.95 L597.34 64.19 L597.68 64.46 L598.02 64.76 L598.36 65.1 L598.7 65.47 L599.04 65.96 L599.38 66.76 L599.72 67.85 L600.05 69.15 L600.39 70.61 L600.73 72.16 L601.07 73.76 L601.41 75.35 L601.75 77.01 L602.09 78.86 L602.43 80.84 L602.76 82.93 L603.1 85.08 L603.44 87.27 L603.78 89.45 L604.12 91.62 L604.46 93.9 L604.8 96.29 L605.14 98.72 L605.47 101.14 L605.81 103.48 L606.15 105.69 L606.49 107.7 L606.83 109.58 L607.17 111.54 L607.51 113.47 L607.85 115.24 L608.18 116.75 L608.52 117.87 L608.86 118.48 L609.2 118.82 L609.54 119.1 L609.88 119.33 L610.22 119.52 L610.56 119.67 L610.9 119.79 L611.23 119.9 L611.57 120.01 L611.91 120.12 L612.25 120.22 L612.59 120.31 L612.93 120.41 L613.27 120.5 L613.61 120.58 L613.94 120.66 L614.28 120.74 L614.62 120.82 L614.96 120.89 L615.3 120.97 L615.64 121.03 L615.98 121.1 L616.32 121.16 L616.65 121.23 L616.99 121.29 L617.33 121.34 L617.67 121.4 L618.01 121.45 L618.35 121.51 L618.69 121.56 L619.03 121.61 L619.36 121.66 L619.7 121.71 L620.04 121.76 L620.38 121.8 L620.72 121.85 L621.06 121.9 L621.4 121.94 L621.74 121.99 L622.07 122.03 L622.41 122.08 L622.75 122.13 L623.09 122.17 L623.43 122.22 L623.77 122.27 L624.11 122.32 L624.45 122.37 L624.78 122.42 L625.12 122.47 L625.46 122.53 L625.8 122.58 L626.14 122.64 L626.48 122.7 L626.82 122.76 L627.16 122.82 L627.49 122.88 L627.83 122.94 L628.17 123 L628.51 123.06 L628.85 123.12 L629.19 123.18 L629.53 123.25 L629.87 123.31 L630.2 123.37 L630.54 123.43 L630.88 123.49 L631.22 123.55 L631.56 123.61 L631.9 123.67 L632.24 123.73 L632.58 123.79 L632.91 123.85 L633.25 123.92 L633.59 123.98 L633.93 124.04 L634.27 124.1 L634.61 124.15 L634.95 124.21 L635.29 124.27 L635.63 124.33 L635.96 124.39 L636.3 124.45 L636.64 124.51 L636.98 124.56 L637.32 124.62 L637.66 124.68 L638 124.73 L638.34 124.79 L638.67 124.84 L639.01 124.9 L639.35 124.95 L639.69 125.01 L640.03 125.06 L640.37 125.11 L640.71 125.16 L641.05 125.22 L641.38 125.27 L641.72 125.32 L642.06 125.37 L642.4 125.41 L642.74 125.46 L643.08 125.51 L643.42 125.56 L643.76 125.6 L644.09 125.65 L644.43 125.69 L644.77 125.74 L645.11 125.78 L645.45 125.82 L645.79 125.87 L646.13 125.91 L646.47 125.95 L646.8 126 L647.14 126.04 L647.48 126.08 L647.82 126.12 L648.16 126.16 L648.5 126.2 L648.84 126.24 L649.18 126.28 L649.51 126.32 L649.85 126.36 L650.19 126.4 L650.53 126.44 L650.87 126.48 L651.21 126.51 L651.55 126.55 L651.89 126.59 L652.22 126.63 L652.56 126.66 L652.9 126.7 L653.24 126.74 L653.58 126.77 L653.92 126.81 L654.26 126.85 L654.6 126.88 L654.93 126.92 L655.27 126.95 L655.61 126.99 L655.95 127.02 L656.29 127.06 L656.63 127.09 L656.97 127.13 L657.31 127.16 L657.65 127.2 L657.98 127.23 L658.32 127.27 L658.66 127.3 L659 127.33 L659.34 127.37 L659.68 127.4 L660.02 127.44 L660.36 127.47 L660.69 127.5 L661.03 127.54 L661.37 127.57 L661.71 127.6 L662.05 127.64 L662.39 127.67 L662.73 127.7 L663.07 127.74 L663.4 127.77 L663.74 127.8 L664.08 127.84 L664.42 127.87 L664.76 127.9 L665.1 127.93 L665.44 127.97 L665.78 128 L666.11 128.03 L666.45 128.06 L666.79 128.09 L667.13 128.12 L667.47 128.16 L667.81 128.19 L668.15 128.22 L668.49 128.25 L668.82 128.28 L669.16 128.31 L669.5 128.34 L669.84 128.37 L670.18 128.4 L670.52 128.43 L670.86 128.46 L671.2 128.49 L671.53 128.52 L671.87 128.55 L672.21 128.58 L672.55 128.61 L672.89 128.64 L673.23 128.67 L673.57 128.7 L673.91 128.73 L674.24 128.75 L674.58 128.78 L674.92 128.81 L675.26 128.84 L675.6 128.87 L675.94 128.89 L676.28 128.92 L676.62 128.95 L676.95 128.98 L677.29 129 L677.63 129.03 L677.97 129.06 L678.31 129.08" fill="none" stroke="#d9262a" stroke-width="1.3" stroke-linejoin="round" stroke-linecap="round"/>
<path d="M574.6 128.9v-2.2M574.6 13.4v2.2M609.17 128.9v-2.2M609.17 13.4v2.2M643.74 128.9v-2.2M643.74 13.4v2.2M678.31 128.9v-2.2M678.31 13.4v2.2M543.1 28.8h2.2M678.3 28.8h-2.2M543.1 48.16h2.2M678.3 48.16h-2.2M543.1 67.52h2.2M678.3 67.52h-2.2M543.1 86.88h2.2M678.3 86.88h-2.2M543.1 106.24h2.2M678.3 106.24h-2.2M543.1 125.6h2.2M678.3 125.6h-2.2" stroke="#6a6a6a" stroke-width="0.8" fill="none"/>
<rect x="543.1" y="13.4" width="135.2" height="115.5" fill="none" stroke="#9c9c9c" stroke-width="1.6"/>
<text x="540.9" y="32" font-family="Liberation Serif" font-weight="bold" font-size="8.5" fill="#141414" stroke="#141414" stroke-width="0.22" text-anchor="end" textLength="8.93" lengthAdjust="spacingAndGlyphs">10</text>
<text x="540.9" y="51.36" font-family="Liberation Serif" font-weight="bold" font-size="8.5" fill="#141414" stroke="#141414" stroke-width="0.22" text-anchor="end" textLength="4.46" lengthAdjust="spacingAndGlyphs">0</text>
<text x="540.9" y="70.72" font-family="Liberation Serif" font-weight="bold" font-size="8.5" fill="#141414" stroke="#141414" stroke-width="0.22" text-anchor="end" textLength="11.9" lengthAdjust="spacingAndGlyphs">-10</text>
<text x="540.9" y="90.08" font-family="Liberation Serif" font-weight="bold" font-size="8.5" fill="#141414" stroke="#141414" stroke-width="0.22" text-anchor="end" textLength="11.9" lengthAdjust="spacingAndGlyphs">-20</text>
<text x="540.9" y="109.44" font-family="Liberation Serif" font-weight="bold" font-size="8.5" fill="#141414" stroke="#141414" stroke-width="0.22" text-anchor="end" textLength="11.9" lengthAdjust="spacingAndGlyphs">-30</text>
<text x="540.9" y="128.8" font-family="Liberation Serif" font-weight="bold" font-size="8.5" fill="#141414" stroke="#141414" stroke-width="0.22" text-anchor="end" textLength="11.9" lengthAdjust="spacingAndGlyphs">-40</text>
<text x="574.6" y="138" font-family="Liberation Serif" font-weight="bold" font-size="8.5" fill="#141414" stroke="#141414" stroke-width="0.22" text-anchor="middle" textLength="8.67" lengthAdjust="spacingAndGlyphs">20</text>
<text x="609.17" y="138" font-family="Liberation Serif" font-weight="bold" font-size="8.5" fill="#141414" stroke="#141414" stroke-width="0.22" text-anchor="middle" textLength="8.67" lengthAdjust="spacingAndGlyphs">40</text>
<text x="643.74" y="138" font-family="Liberation Serif" font-weight="bold" font-size="8.5" fill="#141414" stroke="#141414" stroke-width="0.22" text-anchor="middle" textLength="8.67" lengthAdjust="spacingAndGlyphs">60</text>
<text x="678.31" y="138" font-family="Liberation Serif" font-weight="bold" font-size="8.5" fill="#141414" stroke="#141414" stroke-width="0.22" text-anchor="middle" textLength="8.67" lengthAdjust="spacingAndGlyphs">80</text>
<text x="543.8" y="9.9" font-family="Liberation Serif" font-weight="bold" font-size="8.6" fill="#141414" stroke="#141414" stroke-width="0.22" textLength="134.2" lengthAdjust="spacingAndGlyphs">Power Spectrum of the Component</text>
<text x="581.8" y="147.8" font-family="Liberation Serif" font-weight="bold" font-size="8.6" fill="#141414" stroke="#141414" stroke-width="0.22" textLength="58.4" lengthAdjust="spacingAndGlyphs">Frequency (Hz)</text>
<text x="520.9" y="80.7" font-family="Liberation Serif" font-weight="bold" font-size="8.6" fill="#141414" stroke="#141414" stroke-width="0.22" text-anchor="middle" textLength="26" lengthAdjust="spacingAndGlyphs" transform="rotate(-90 520.9 80.7)">dB/Hz</text>
<path d="M230.31 281.95 L230.52 272.51 L230.72 267.88 L230.93 269.33 L231.14 274.1 L231.35 278.07 L231.55 278.65 L231.76 275.7 L231.97 270.65 L232.18 265.28 L232.38 260.98 L232.59 258.43 L232.8 257.19 L233.01 255.89 L233.21 253.12 L233.42 248.36 L233.63 242.12 L233.84 235.25 L234.04 228.59 L234.25 225.16 L234.46 229.88 L234.67 242.36 L234.88 255.89 L235.08 265.54 L235.29 270.98 L235.5 273.2 L235.71 272.48 L235.91 268.87 L236.12 263.65 L236.33 260.36 L236.54 263.61 L236.74 273.61 L236.95 282.86 L237.16 282.84 L237.37 273.07 L237.57 261.23 L237.78 254.73 L237.99 254.12 L238.2 255.59 L238.4 256.18 L238.61 255.92 L238.82 257.26 L239.03 262.57 L239.23 271.7 L239.44 281.36 L239.65 286.94 L239.86 285.31 L240.07 276.48 L240.27 263.46 L240.48 250.53 L240.69 241.4 L240.9 238.07 L241.1 240.47 L241.31 246.87 L241.52 254.79 L241.73 261.95 L241.93 266.86 L242.14 268.93 L242.35 268.24 L242.56 265.65 L242.76 262.68 L242.97 260.92 L243.18 261.1 L243.39 262.68 L243.59 264.35 L243.8 265 L244.01 264.32 L244.22 262.75 L244.42 260.86 L244.63 258.78 L244.84 256.2 L245.05 252.79 L245.26 248.81 L245.46 245.51 L245.67 244.65 L245.88 247.25 L246.09 252.56 L246.29 258.38 L246.5 262.33 L246.71 263.07 L246.92 260.89 L247.12 257.75 L247.33 256.3 L247.54 258.29 L247.75 263.01 L247.95 267.23 L248.16 267.28 L248.37 262.02 L248.58 254.06 L248.78 247.84 L248.99 245.94 L249.2 247.18 L249.41 248.38 L249.61 247.87 L249.82 246.82 L250.03 247.52 L250.24 250.85 L250.45 255.56 L250.65 259.31 L250.86 260.46 L251.07 259.17 L251.28 257.39 L251.48 257.5 L251.69 260.6 L251.9 265.63 L252.11 270.03 L252.31 271.36 L252.52 268.57 L252.73 262.19 L252.94 254.25 L253.14 247.88 L253.35 246.08 L253.56 249.6 L253.77 255.69 L253.97 259.7 L254.18 258.77 L254.39 254.35 L254.6 251.11 L254.81 252.92 L255.01 259.93 L255.22 268.64 L255.43 274.38 L255.64 274.43 L255.84 271.76 L256.05 273.89 L256.26 280.62 L256.47 280.53 L256.67 272.36 L256.88 269.47 L257.09 276.28 L257.3 283.71 L257.5 283.65 L257.71 274.79 L257.92 260.29 L258.13 244.88 L258.33 233.1 L258.54 228.1 L258.75 230.89 L258.96 240.05 L259.16 252.03 L259.37 262.55 L259.58 268.36 L259.79 268.64 L260 265.14 L260.2 261.01 L260.41 258.91 L260.62 259.4 L260.83 260.78 L261.03 260.72 L261.24 258.48 L261.45 255.58 L261.66 253.97 L261.86 253.64 L262.07 252.33 L262.28 247.88 L262.49 240.93 L262.69 235.08 L262.9 234.14 L263.11 238.97 L263.32 246.66 L263.52 252.85 L263.73 255.13 L263.94 254.58 L264.15 254.55 L264.35 257.72 L264.56 264.05 L264.77 270.65 L264.98 273.78 L265.19 271.09 L265.39 262.98 L265.6 252.32 L265.81 243.1 L266.02 238.64 L266.22 240.05 L266.43 245.86 L266.64 252.78 L266.85 257.49 L267.05 258.18 L267.26 255.38 L267.47 251.4 L267.68 248.82 L267.88 249 L268.09 251.55 L268.3 254.93 L268.51 257.59 L268.71 258.77 L268.92 258.67 L269.13 257.99 L269.34 257.19 L269.54 256.06 L269.75 254.31 L269.96 252.38 L270.17 251.48 L270.38 252.41 L270.58 254.6 L270.79 256.54 L271 257.25 L271.21 257.12 L271.41 257.2 L271.62 258.01 L271.83 258.87 L272.04 258.52 L272.24 256.32 L272.45 252.96 L272.66 250.06 L272.87 248.94 L273.07 250.02 L273.28 252.89 L273.49 256.9 L273.7 261.5 L273.9 266.17 L274.11 269.9 L274.32 271.04 L274.53 268 L274.73 260.55 L274.94 250.83 L275.15 242.68 L275.36 239.4 L275.56 241.65 L275.77 247.42 L275.98 253.65 L276.19 258.26 L276.4 261.01 L276.6 263.27 L276.81 266.74 L277.02 271.7 L277.23 275.9 L277.43 275.37 L277.64 267.15 L277.85 252.34 L278.06 236.59 L278.26 227.13 L278.47 228.22 L278.68 238.24 L278.89 250.73 L279.09 258.59 L279.3 258.51 L279.51 252.8 L279.72 247.3 L279.92 247.29 L280.13 254.04 L280.34 264.21 L280.55 272.1 L280.75 273.3 L280.96 267.35 L281.17 257.64 L281.38 249.11 L281.59 245.36 L281.79 246.91 L282 251.62 L282.21 256.52 L282.42 259.53 L282.62 260.06 L282.83 258.89 L283.04 257.6 L283.25 257.54 L283.45 258.9 L283.66 260.56 L283.87 261.39 L284.08 261.35 L284.28 261.47 L284.49 262.68 L284.7 264.87 L284.91 266.73 L285.11 266.56 L285.32 263.53 L285.53 258.68 L285.74 254.64 L285.95 254.14 L286.15 258.14 L286.36 264.94 L286.57 270.95 L286.78 272.76 L286.98 269.24 L287.19 262.25 L287.4 255.17 L287.61 250.56 L287.81 248.84 L288.02 249 L288.23 250.15 L288.44 252.3 L288.64 255.82 L288.85 260.24 L289.06 263.85 L289.27 264.67 L289.47 262.14 L289.68 257.94 L289.89 254.85 L290.1 254.74 L290.3 257.38 L290.51 260.88 L290.72 263.1 L290.93 262.94 L291.14 261.03 L291.34 259.32 L291.55 259.9 L291.76 263.38 L291.97 268.06 L292.17 270.72 L292.38 268.46 L292.59 260.43 L292.8 248.68 L293 237.69 L293.21 231.97 L293.42 231.07 L293.63 227.51 L293.83 219.13 L294.04 219.66 L294.25 237.33 L294.46 257.13 L294.66 264.12 L294.87 264.2 L295.08 269.7 L295.29 278.25 L295.49 278.28 L295.7 270.21 L295.91 265.16 L296.12 266.63 L296.33 269.01 L296.53 267.56 L296.74 261.62 L296.95 253.01 L297.16 245.07 L297.36 241.93 L297.57 246.59 L297.78 258.19 L297.99 271.27 L298.19 278.52 L298.4 275.57 L298.61 263.71 L298.82 248.92 L299.02 238.14 L299.23 235.42 L299.44 240.06 L299.65 247.64 L299.85 253.12 L300.06 253.66 L300.27 249.69 L300.48 243.93 L300.68 239.84 L300.89 240.31 L301.1 246.68 L301.31 257.92 L301.52 270.52 L301.72 279.48 L301.93 280.44 L302.14 272.2 L302.35 258.09 L302.55 244.96 L302.76 239.56 L302.97 244.59 L303.18 256.71 L303.38 268 L303.59 270.53 L303.8 261.77 L304.01 246.81 L304.21 235.32 L304.42 234.93 L304.63 245.88 L304.84 261.04 L305.04 271.3 L305.25 272.06 L305.46 265.72 L305.67 258.71 L305.87 256.26 L306.08 259.1 L306.29 263.99 L306.5 266.83 L306.71 265.58 L306.91 261.07 L307.12 255.87 L307.33 252.45 L307.54 252 L307.74 254.15 L307.95 257.3 L308.16 259.34 L308.37 258.67 L308.57 255.3 L308.78 251.25 L308.99 249.35 L309.2 251.23 L309.4 256.16 L309.61 261.61 L309.82 265.12 L310.03 265.9 L310.23 264.93 L310.44 263.66 L310.65 262.92 L310.86 262.91 L311.06 263.78 L311.27 265.58 L311.48 267.65 L311.69 268.59 L311.9 267 L312.1 262.51 L312.31 256.17 L312.52 250.18 L312.73 246.99 L312.93 248.01 L313.14 252.77 L313.35 259.36 L313.56 265.57 L313.76 269.96 L313.97 272.23 L314.18 272.69 L314.39 271.78 L314.59 269.61 L314.8 265.91 L315.01 260.43 L315.22 253.65 L315.42 247.34 L315.63 243.83 L315.84 244.52 L316.05 248.61 L316.25 253.58 L316.46 256.99 L316.67 258.12 L316.88 258.1 L317.09 258.54 L317.29 260.18 L317.5 262.59 L317.71 265 L317.92 266.77 L318.12 267.41 L318.33 266.29 L318.54 262.75 L318.75 256.59 L318.95 248.73 L319.16 241.47 L319.37 237.74 L319.58 239.3 L319.78 245.43 L319.99 253.08 L320.2 258.49 L320.41 259.41 L320.61 256.48 L320.82 252.77 L321.03 251.69 L321.24 254.69 L321.44 260.57 L321.65 266.53 L321.86 269.88 L322.07 269.05 L322.28 263.97 L322.48 256.25 L322.69 249.04 L322.9 245.93 L323.11 248.71 L323.31 255.78 L323.52 262.79 L323.73 265.23 L323.94 261.28 L324.14 253.1 L324.35 245.72 L324.56 244.15 L324.77 250.23 L324.97 261.37 L325.18 271.81 L325.39 277.01 L325.6 279.43 L325.8 283.32 L326.01 283.06 L326.22 274.68 L326.43 267.7 L326.63 267.82 L326.84 269.51 L327.05 267.82 L327.26 263.43 L327.47 259.33 L327.67 257.23 L327.88 256.65 L328.09 256.13 L328.3 255.09 L328.5 254.36 L328.71 255.09 L328.92 257.33 L329.13 259.71 L329.33 260.63 L329.54 259.71 L329.75 258.25 L329.96 258.23 L330.16 260.65 L330.37 264.71 L330.58 268.16 L330.79 268.95 L330.99 266.57 L331.2 262.22 L331.41 257.81 L331.62 254.79 L331.82 253.49 L332.03 253.36 L332.24 253.63 L332.45 254 L332.66 254.47 L332.86 254.8 L333.07 254.32 L333.28 252.76 L333.49 251.13 L333.69 251.37 L333.9 254.8 L334.11 260.8 L334.32 266.89 L334.52 270.24 L334.73 269.29 L334.94 264.57 L335.15 258.02 L335.35 251.92 L335.56 248.03 L335.77 247.19 L335.98 249.13 L336.18 252.46 L336.39 255.32 L336.6 256.4 L336.81 255.81 L337.01 255.1 L337.22 256.19 L337.43 259.9 L337.64 265.01 L337.85 268.53 L338.05 267.41 L338.26 260.85 L338.47 251.79 L338.68 245.64 L338.88 246.77 L339.09 255.19 L339.3 266.08 L339.51 272.89 L339.71 271.67 L339.92 263.54 L340.13 253.8 L340.34 248.49 L340.54 250.57 L340.75 258.29 L340.96 266.35 L341.17 269.22 L341.37 264.68 L341.58 255.24 L341.79 246.64 L342 244.26 L342.2 249.87 L342.41 260.64 L342.62 270.89 L342.83 275.37 L343.04 271.97 L343.24 262.73 L343.45 252.51 L343.66 246.17 L343.87 245.79 L344.07 249.87 L344.28 254.94 L344.49 258.32 L344.7 259.68 L344.9 260.95 L345.11 264.66 L345.32 271.37 L345.53 278.41 L345.73 280.91 L345.94 273.47 L346.15 256.85 L346.36 239.75 L346.56 227.41 L346.77 223.11 L346.98 233.52 L347.19 256.65 L347.39 279.36 L347.6 291.9 L347.81 293.87 L348.02 285.23 L348.23 262.27 L348.43 229.85 L348.64 205.59 L348.85 200.72 L349.06 210.15 L349.26 235.69 L349.47 266.42 L349.68 285.25 L349.89 289.53 L350.09 284.55 L350.3 270.72 L350.51 252.98 L350.72 240.37 L350.92 234.87 L351.13 234.77 L351.34 237.41 L351.55 239.26 L351.75 240.7 L351.96 244.64 L352.17 252.01 L352.38 261.4 L352.58 270.11 L352.79 274.85 L353 272.95 L353.21 264.1 L353.42 251.45 L353.62 240.26 L353.83 234.61 L354.04 235.09 L354.25 239.38 L354.45 244.81 L354.66 250.2 L354.87 255.57 L355.08 260.55 L355.28 263.56 L355.49 262.86 L355.7 258.37 L355.91 252.42 L356.11 248.54 L356.32 248.92 L356.53 252.74 L356.74 256.7 L356.94 257.16 L357.15 252.49 L357.36 244.24 L357.57 236.52 L357.77 233.9 L357.98 238.64 L358.19 248.89 L358.4 259.74 L358.61 266.48 L358.81 267.69 L359.02 265.26 L359.23 261.98 L359.44 259.25 L359.64 256.82 L359.85 254.06 L360.06 251.1 L360.27 248.97 L360.47 248.74 L360.68 250.84 L360.89 254.54 L361.1 258 L361.3 259.3 L361.51 257.87 L361.72 255.02 L361.93 253.1 L362.13 254.09 L362.34 258.58 L362.55 265.44 L362.76 271.81 L362.96 273.92 L363.17 268.85 L363.38 256.91 L363.59 242.86 L363.8 234.23 L364 237.22 L364.21 252.54 L364.42 273.84 L364.63 290.05 L364.83 291.22 L365.04 275.07 L365.25 249.5 L365.46 228.42 L365.66 223.32 L365.87 236.2 L366.08 258.78 L366.29 278.23 L366.49 285.25 L366.7 278.78 L366.91 264.54 L367.12 249.88 L367.32 239.59 L367.53 235.22 L367.74 236.29 L367.95 241.27 L368.15 247.72 L368.36 252.71 L368.57 254.08 L368.78 251.49 L368.99 246.55 L369.19 241.99 L369.4 240.41 L369.61 242.69 L369.82 246.16 L370.02 244.63 L370.23 234.77 L370.44 224.45 L370.65 224.3 L370.85 232.02 L371.06 238.43 L371.27 240.49 L371.48 239.67 L371.68 237.42 L371.89 235.19 L372.1 235.47 L372.31 240.64 L372.51 250.52 L372.72 261.44 L372.93 268.39 L373.14 268.47 L373.34 262.88 L373.55 255.89 L373.76 251.84 L373.97 252.53 L374.18 256.65 L374.38 261.29 L374.59 263.7 L374.8 262.3 L375.01 257.02 L375.21 249.49 L375.42 242.57 L375.63 239.21 L375.84 241.01 L376.04 247.43 L376.25 256.05 L376.46 263.58 L376.67 267.43 L376.87 267.12 L377.08 264.28 L377.29 261.53 L377.5 260.74 L377.7 262 L377.91 263.76 L378.12 263.98 L378.33 261.14 L378.53 254.9 L378.74 246.52 L378.95 239.01 L379.16 236.18 L379.37 240.4 L379.57 250.68 L379.78 262.41 L379.99 269.74 L380.2 269.19 L380.4 261.83 L380.61 252.23 L380.82 245.53 L381.03 244.65 L381.23 249.15 L381.44 255.83 L381.65 260.67 L381.86 261.01 L382.06 256.92 L382.27 251.15 L382.48 247.51 L382.69 248.25 L382.89 252.63 L383.1 257.85 L383.31 261.46 L383.52 262.73 L383.72 262.29 L383.93 261.19 L384.14 260.05 L384.35 258.8 L384.56 256.96 L384.76 254.57 L384.97 252.72 L385.18 252.88 L385.39 255.33 L385.59 258.28 L385.8 259.05 L386.01 256.5 L386.22 252.39 L386.42 250.12 L386.63 252.18 L386.84 258.29 L387.05 265.63 L387.25 270.47 L387.46 270.35 L387.67 265.4 L387.88 258.28 L388.08 252.85 L388.29 252.17 L388.5 256.65 L388.71 263.44 L388.91 268.01 L389.12 267.15 L389.33 261.02 L389.54 252.49 L389.75 244.21 L389.95 236.48 L390.16 230.6 L390.37 230.54 L390.58 235.15 L390.78 240.02 L390.99 246.38 L391.2 256.56 L391.41 268.38 L391.61 277.45 L391.82 280.59 L392.03 277.51 L392.24 270.41 L392.44 262.19 L392.65 254.69 L392.86 248.43 L393.07 243.53 L393.27 240.62 L393.48 240.95 L393.69 245.63 L393.9 254.16 L394.1 263.46 L394.31 269.19 L394.52 268.83 L394.73 263.84 L394.94 258.68 L395.14 257.63 L395.35 261.95 L395.56 268.77 L395.77 272.42 L395.97 267.86 L396.18 254.69 L396.39 238.41 L396.6 227.44 L396.8 227.84 L397.01 239.81 L397.22 258.19 L397.43 275.79 L397.63 286.85 L397.84 288.96 L398.05 282.99 L398.26 272.1 L398.46 260.27 L398.67 250.89 L398.88 245.57 L399.09 244.2 L399.29 246.02 L399.5 250.75 L399.71 258.25 L399.92 266.95 L400.13 273.17 L400.33 272.88 L400.54 265.08 L400.75 253.14 L400.96 242.59 L401.16 237.49 L401.37 238.71 L401.58 244.69 L401.79 253.03 L401.99 261.69 L402.2 269.3 L402.41 274.82 L402.62 276.91 L402.82 273.8 L403.03 263.88 L403.24 248.17 L403.45 232.49 L403.65 223.86 L403.86 223.67 L404.07 228.33 L404.28 234.85 L404.48 241.41 L404.69 246.07 L404.9 247.67 L405.11 246.52 L405.32 244.22 L405.52 242.94 L405.73 244.04 L405.94 247.19 L406.15 251.13 L406.35 255 L406.56 258.97 L406.77 263.49 L406.98 268.06 L407.18 271.24 L407.39 271.69 L407.6 269.31 L407.81 265.27 L408.01 260.95 L408.22 256.74 L408.43 252.1 L408.64 246.73 L408.84 241.77 L409.05 239.43 L409.26 241.32 L409.47 247.08 L409.67 254.58 L409.88 261.36 L410.09 265.79 L410.3 267.31 L410.51 266.15 L410.71 263.07 L410.92 259.32 L411.13 256.24 L411.34 254.57 L411.54 253.78 L411.75 252.4 L411.96 249.33 L412.17 245.04 L412.37 241.51 L412.58 241.06 L412.79 244.88 L413 252.3 L413.2 261.04 L413.41 268.05 L413.62 270.41 L413.83 266.15 L414.03 255.64 L414.24 243.3 L414.45 238.35 L414.66 249.49 L414.86 271.37 L415.07 285.23 L415.28 285.89 L415.49 284.33 L415.7 281.02 L415.9 270.03 L416.11 255 L416.32 243.02 L416.53 236.69 L416.73 234.84 L416.94 235.5 L417.15 237.72 L417.36 241.92 L417.56 248.88 L417.77 258.19 L417.98 267.46 L418.19 273.35 L418.39 273.74 L418.6 269.07 L418.81 262 L419.02 255.65 L419.22 251.82 L419.43 250.48 L419.64 250.52 L419.85 250.82 L420.05 251.02 L420.26 251.56 L420.47 253.26 L420.68 256.47 L420.89 260.26 L421.09 262.66 L421.3 262.09 L421.51 259.22 L421.72 257.01 L421.92 258.5 L422.13 263.97 L422.34 270.26 L422.55 273.05 L422.75 269.72 L422.96 260.84 L423.17 249.84 L423.38 241.46 L423.58 239.47 L423.79 244.76 L424 254.9 L424.21 265.57 L424.41 272.78 L424.62 274.47 L424.83 270.73 L425.04 263.24 L425.24 254.38 L425.45 246.78 L425.66 243 L425.87 244.76 L426.08 252.02 L426.28 262.56 L426.49 272.64 L426.7 278.66 L426.91 278.63 L427.11 272.77 L427.32 263.17 L427.53 253.15 L427.74 246.09 L427.94 243.99 L428.15 246.39 L428.36 250.86 L428.57 254.63 L428.77 256.05 L428.98 255.1 L429.19 252.82 L429.4 250.5 L429.6 249.35 L429.81 250.5 L430.02 254.85 L430.23 262.36 L430.43 271.31 L430.64 278.28 L430.85 278.84 L431.06 269.44 L431.27 252.02 L431.47 236.46 L431.68 230.19 L431.89 230.05 L432.1 233.01 L432.3 240.05 L432.51 247.71 L432.72 251.26 L432.93 251.04 L433.13 250.69 L433.34 252.92 L433.55 257.02 L433.76 259.3 L433.96 256.46 L434.17 249.15 L434.38 242.5 L434.59 242.2 L434.79 249.59 L435 260.04 L435.21 266.5 L435.42 264.99 L435.62 257.56 L435.83 250.2 L436.04 248.06 L436.25 251.69 L436.46 256.95 L436.66 258.52 L436.87 254.03 L437.08 245.98 L437.29 239.85 L437.49 240.13 L437.7 246.93 L437.91 255.69 L438.12 260.53 L438.32 258.78 L438.53 252.98 L438.74 248.94 L438.95 251.27 L439.15 259.72 L439.36 268.99 L439.57 272.44 L439.78 267.25 L439.98 257.02 L440.19 249.21 L440.4 249.36 L440.61 257.19 L440.81 267.5 L441.02 273.89 L441.23 272.38 L441.44 263.28 L441.65 250.79 L441.85 240.72 L442.06 237.34 L442.27 241.35 L442.48 249.81 L442.68 257.96 L442.89 262.12 L443.1 261.97 L443.31 260.13 L443.51 259.13 L443.72 258.87 L443.93 257.02 L444.14 252.19 L444.34 246.42 L444.55 244.34 L444.76 249.15 L444.97 259.37 L445.17 269.52 L445.38 274.26 L445.59 272.19 L445.8 266.16 L446 260.46 L446.21 257.63 L446.42 257.44 L446.63 258.02 L446.84 257.46 L447.04 254.99 L447.25 251.27 L447.46 248.14 L447.67 247.61 L447.87 250.68 L448.08 256.67 L448.29 263.3 L448.5 267.52 L448.7 267.11 L448.91 262.05 L449.12 254.85 L449.33 249.15 L449.53 247.61 L449.74 250.67 L449.95 256.82 L450.16 263.63 L450.36 268.99 L450.57 271.85 L450.78 272.29 L450.99 270.83 L451.19 267.7 L451.4 262.87 L451.61 256.52 L451.82 249.49 L452.03 243.49 L452.23 240.76 L452.44 243.08 L452.65 250.39 L452.86 260.24 L453.06 268.82 L453.27 273.37 L453.48 273.74 L453.69 271.92 L453.89 269.78 L454.1 267.23 L454.31 262.62 L454.52 255.14 L454.72 246.56 L454.93 240.59 L455.14 240.39 L455.35 246.53 L455.55 256.87 L455.76 267.89 L455.97 276.27 L456.18 279.58 L456.38 276.7 L456.59 268.04 L456.8 255.82 L457.01 243.93 L457.22 236.94 L457.42 237.91 L457.63 246.27 L457.84 257.52 L458.05 265.7 L458.25 266.8 L458.46 260.95 L458.67 251.96 L458.88 244.97 L459.08 243.68 L459.29 248.41 L459.5 256.16 L459.71 262.57 L459.91 264.53 L460.12 261.74 L460.33 256.48 L460.54 251.95 L460.74 250.36 L460.95 251.56 L461.16 253.34 L461.37 253.31 L461.57 250.82 L461.78 247.26 L461.99 244.53 L462.2 243.54 L462.41 244.14 L462.61 245.93 L462.82 248.58 L463.03 250.95 L463.24 250.58 L463.44 245.34 L463.65 236.53 L463.86 228.81 L464.07 229.19 L464.27 244.43 L464.48 267.23 L464.69 278.12 L464.9 269.18 L465.1 249.06 L465.31 230.34 L465.52 221.76 L465.73 226.01 L465.93 239.69 L466.14 255.56 L466.35 266.69 L466.56 270.02 L466.76 267.22 L466.97 262.52 L467.18 259.5 L467.39 259.11 L467.6 259.88 L467.8 259.85 L468.01 258.59 L468.22 257.81 L468.43 259.82 L468.63 265.3 L468.84 272.15 L469.05 276.47 L469.26 274.97 L469.46 267.05 L469.67 255.11 L469.88 243.15 L470.09 234.94 L470.29 232.95 L470.5 237.61 L470.71 247.1 L470.92 257.65 L471.12 264.96 L471.33 266.32 L471.54 262.09 L471.75 255.62 L471.95 251.63 L472.16 253.7 L472.37 262.31 L472.58 274.4 L472.79 284.81 L472.99 288.84 L473.2 284.65 L473.41 274.25 L473.62 262.25 L473.82 253.27 L474.03 249.58 L474.24 250.3 L474.45 252.07 L474.65 251.03 L474.86 245.29 L475.07 236.95 L475.28 231.78 L475.48 236.07 L475.69 251.66 L475.9 273.17 L476.11 290.23 L476.31 293.98 L476.52 283.05 L476.73 264.37 L476.94 248.07 L477.14 240.96 L477.35 243.17 L477.56 249.25 L477.77 251.25 L477.98 243.55 L478.18 229.16 L478.39 218.62 L478.6 218.6 L478.81 228.53 L479.01 244.95 L479.22 260.52 L479.43 267.56 L479.64 268.09 L479.84 269.88 L480.05 269.44 L480.26 259.76 L480.47 252.31 L480.67 261.15 L480.88 279.41 L481.09 291.97 L481.3 296.3 L481.5 296.14 L481.71 289.61 L481.92 277.75 L482.13 266.87 L482.33 259.31 L482.54 253.45 L482.75 248.39 L482.96 244.81 L483.17 243.28 L483.37 243.33 L483.58 244.01 L483.79 244.91 L484 246.6 L484.2 249.92 L484.41 255.07 L484.62 261.29 L484.83 267.4 L485.03 272.37 L485.24 275.44 L485.45 275.89 L485.66 272.83 L485.86 265.39 L486.07 253.84 L486.28 240.98 L486.49 231.53 L486.69 229.13 L486.9 233.35 L487.11 239.3 L487.32 240.57 L487.52 235.12 L487.73 228.55 L487.94 228.68 L488.15 238.29 L488.36 252.98 L488.56 264.23 L488.77 266.76 L488.98 262.09 L489.19 255.44 L489.39 252.12 L489.6 255.27 L489.81 264.38 L490.02 275.47 L490.22 285.3 L490.43 293.07 L490.64 292.7 L490.85 278.09 L491.05 257.59 L491.26 243.98 L491.47 240.08 L491.68 242.36 L491.88 247.55 L492.09 253.62 L492.3 259.1 L492.51 263.4 L492.71 267.09 L492.92 271.11 L493.13 274.71 L493.34 273.6 L493.55 262.29 L493.75 243.64 L493.96 231.08 L494.17 230.53 L494.38 231.95 L494.58 228.17 L494.79 223.73 L495 223.71 L495.21 227.89 L495.41 233.91 L495.62 240.16 L495.83 246.23" fill="none" stroke="#2f7fc1" stroke-width="0.8" stroke-linejoin="round" stroke-linecap="round"/>
<path d="M257.4 313.8v-2.2M257.4 200.3v2.2M298.92 313.8v-2.2M298.92 200.3v2.2M340.44 313.8v-2.2M340.44 200.3v2.2M381.96 313.8v-2.2M381.96 200.3v2.2M423.48 313.8v-2.2M423.48 200.3v2.2M465 313.8v-2.2M465 200.3v2.2M230.3 313.85h2.2M495.9 313.85h-2.2M230.3 257h2.2M495.9 257h-2.2M230.3 200.15h2.2M495.9 200.15h-2.2" stroke="#6a6a6a" stroke-width="0.8" fill="none"/>
<rect x="230.3" y="200.3" width="265.6" height="113.5" fill="none" stroke="#9c9c9c" stroke-width="1.6"/>
<text x="228" y="316.45" font-family="Liberation Serif" font-weight="bold" font-size="7.9" fill="#141414" stroke="#141414" stroke-width="0.22" text-anchor="end" textLength="7.57" lengthAdjust="spacingAndGlyphs">-5</text>
<text x="228" y="259.6" font-family="Liberation Serif" font-weight="bold" font-size="7.9" fill="#141414" stroke="#141414" stroke-width="0.22" text-anchor="end" textLength="4.54" lengthAdjust="spacingAndGlyphs">0</text>
<text x="228" y="202.75" font-family="Liberation Serif" font-weight="bold" font-size="7.9" fill="#141414" stroke="#141414" stroke-width="0.22" text-anchor="end" textLength="4.54" lengthAdjust="spacingAndGlyphs">5</text>
<text x="255.9" y="326.8" font-family="Liberation Serif" font-weight="bold" font-size="8.5" fill="#141414" stroke="#141414" stroke-width="0.22" text-anchor="middle" textLength="13.07" lengthAdjust="spacingAndGlyphs">0.2</text>
<text x="297.42" y="326.8" font-family="Liberation Serif" font-weight="bold" font-size="8.5" fill="#141414" stroke="#141414" stroke-width="0.22" text-anchor="middle" textLength="13.07" lengthAdjust="spacingAndGlyphs">0.4</text>
<text x="338.94" y="326.8" font-family="Liberation Serif" font-weight="bold" font-size="8.5" fill="#141414" stroke="#141414" stroke-width="0.22" text-anchor="middle" textLength="13.07" lengthAdjust="spacingAndGlyphs">0.6</text>
<text x="380.46" y="326.8" font-family="Liberation Serif" font-weight="bold" font-size="8.5" fill="#141414" stroke="#141414" stroke-width="0.22" text-anchor="middle" textLength="13.07" lengthAdjust="spacingAndGlyphs">0.8</text>
<text x="421.98" y="326.8" font-family="Liberation Serif" font-weight="bold" font-size="8.5" fill="#141414" stroke="#141414" stroke-width="0.22" text-anchor="middle" textLength="13.07" lengthAdjust="spacingAndGlyphs">1.0</text>
<text x="463.5" y="326.8" font-family="Liberation Serif" font-weight="bold" font-size="8.5" fill="#141414" stroke="#141414" stroke-width="0.22" text-anchor="middle" textLength="13.07" lengthAdjust="spacingAndGlyphs">1.2</text>
<text x="309.9" y="196.6" font-family="Liberation Serif" font-weight="bold" font-size="8.6" fill="#141414" stroke="#141414" stroke-width="0.22" textLength="107.3" lengthAdjust="spacingAndGlyphs">Component Time Series</text>
<text x="338.4" y="339.4" font-family="Liberation Serif" font-weight="bold" font-size="8.6" fill="#141414" stroke="#141414" stroke-width="0.22" textLength="38.3" lengthAdjust="spacingAndGlyphs">Time (s)</text>
<text x="213.8" y="259.7" font-family="Liberation Serif" font-weight="bold" font-size="8.6" fill="#141414" stroke="#141414" stroke-width="0.22" text-anchor="middle" textLength="61.1" lengthAdjust="spacingAndGlyphs" transform="rotate(-90 213.8 259.7)">Amplitude (µV)</text>
<text x="350.4" y="361.6" font-family="Liberation Sans" font-weight="bold" font-size="14.2" fill="#111" textLength="20.9" lengthAdjust="spacingAndGlyphs">(B)</text>
<line x1="572.4" y1="200.1" x2="572.4" y2="314.8" stroke="#e4e4e4" stroke-width="0.7"/>
<line x1="606.75" y1="200.1" x2="606.75" y2="314.8" stroke="#e4e4e4" stroke-width="0.7"/>
<line x1="641.1" y1="200.1" x2="641.1" y2="314.8" stroke="#e4e4e4" stroke-width="0.7"/>
<line x1="541.7" y1="208.9" x2="675.6" y2="208.9" stroke="#e4e4e4" stroke-width="0.7"/>
<line x1="541.7" y1="230.08" x2="675.6" y2="230.08" stroke="#e4e4e4" stroke-width="0.7"/>
<line x1="541.7" y1="251.26" x2="675.6" y2="251.26" stroke="#e4e4e4" stroke-width="0.7"/>
<line x1="541.7" y1="272.44" x2="675.6" y2="272.44" stroke="#e4e4e4" stroke-width="0.7"/>
<line x1="541.7" y1="293.62" x2="675.6" y2="293.62" stroke="#e4e4e4" stroke-width="0.7"/>
<path d="M542 200.43 L542.33 200.98 L542.67 201.53 L543 202.05 L543.34 202.56 L543.67 203.06 L544.01 203.53 L544.34 204.01 L544.68 204.51 L545.01 205.01 L545.34 205.5 L545.68 205.95 L546.01 206.33 L546.35 206.62 L546.68 206.8 L547.02 206.93 L547.35 207.04 L547.69 207.13 L548.02 207.18 L548.36 207.21 L548.69 207.15 L549.02 206.99 L549.36 206.75 L549.69 206.48 L550.03 206.18 L550.36 205.9 L550.7 205.65 L551.03 205.46 L551.37 205.28 L551.7 205.09 L552.03 204.92 L552.37 204.78 L552.7 204.69 L553.04 204.67 L553.37 204.82 L553.71 205.16 L554.04 205.62 L554.38 206.13 L554.71 206.63 L555.04 207.04 L555.38 207.32 L555.71 207.58 L556.05 207.83 L556.38 208.07 L556.72 208.3 L557.05 208.5 L557.39 208.69 L557.72 208.85 L558.05 208.98 L558.39 209.07 L558.72 209.12 L559.06 209.15 L559.39 209.17 L559.73 209.19 L560.06 209.21 L560.4 209.22 L560.73 209.24 L561.06 209.25 L561.4 209.27 L561.73 209.29 L562.07 209.32 L562.4 209.37 L562.74 209.44 L563.07 209.53 L563.41 209.64 L563.74 209.77 L564.07 209.92 L564.41 210.07 L564.74 210.23 L565.08 210.4 L565.41 210.57 L565.75 210.75 L566.08 210.91 L566.42 211.08 L566.75 211.23 L567.08 211.38 L567.42 211.51 L567.75 211.63 L568.09 211.75 L568.42 211.87 L568.76 211.98 L569.09 212.09 L569.43 212.2 L569.76 212.31 L570.09 212.42 L570.43 212.54 L570.76 212.66 L571.1 212.78 L571.43 212.92 L571.77 213.06 L572.1 213.21 L572.44 213.37 L572.77 213.55 L573.11 213.75 L573.44 213.98 L573.77 214.22 L574.11 214.47 L574.44 214.72 L574.78 214.97 L575.11 215.21 L575.45 215.44 L575.78 215.65 L576.12 215.84 L576.45 216.03 L576.78 216.21 L577.12 216.4 L577.45 216.58 L577.79 216.75 L578.12 216.91 L578.46 217.06 L578.79 217.2 L579.13 217.32 L579.46 217.43 L579.79 217.53 L580.13 217.61 L580.46 217.69 L580.8 217.76 L581.13 217.83 L581.47 217.89 L581.8 217.96 L582.14 218.03 L582.47 218.1 L582.8 218.19 L583.14 218.29 L583.47 218.4 L583.81 218.54 L584.14 218.72 L584.48 218.94 L584.81 219.18 L585.15 219.43 L585.48 219.68 L585.81 219.92 L586.15 220.13 L586.48 220.32 L586.82 220.51 L587.15 220.68 L587.49 220.85 L587.82 221.02 L588.16 221.2 L588.49 221.38 L588.82 221.57 L589.16 221.77 L589.49 221.99 L589.83 222.23 L590.16 222.48 L590.5 222.73 L590.83 223 L591.17 223.28 L591.5 223.57 L591.83 223.86 L592.17 224.17 L592.5 224.47 L592.84 224.77 L593.17 225.07 L593.51 225.4 L593.84 225.75 L594.18 226.14 L594.51 226.58 L594.85 227.09 L595.18 227.72 L595.51 228.48 L595.85 229.35 L596.18 230.32 L596.52 231.38 L596.85 232.71 L597.19 234.3 L597.52 236.01 L597.86 237.72 L598.19 239.31 L598.52 240.75 L598.86 242.12 L599.19 243.48 L599.53 244.87 L599.86 246.34 L600.2 247.95 L600.53 249.72 L600.87 251.65 L601.2 253.72 L601.53 255.9 L601.87 258.17 L602.2 260.54 L602.54 263.02 L602.87 265.65 L603.21 268.42 L603.54 271.36 L603.88 274.58 L604.21 278.23 L604.54 282.05 L604.88 285.72 L605.21 289.09 L605.55 292.53 L605.88 295.37 L606.22 296.98 L606.55 298.11 L606.89 299 L607.22 299.66 L607.55 300.12 L607.89 300.5 L608.22 300.83 L608.56 301.11 L608.89 301.36 L609.23 301.58 L609.56 301.77 L609.9 301.95 L610.23 302.11 L610.56 302.27 L610.9 302.43 L611.23 302.58 L611.57 302.72 L611.9 302.86 L612.24 303 L612.57 303.13 L612.91 303.26 L613.24 303.38 L613.57 303.5 L613.91 303.62 L614.24 303.73 L614.58 303.84 L614.91 303.95 L615.25 304.05 L615.58 304.15 L615.92 304.25 L616.25 304.35 L616.58 304.44 L616.92 304.54 L617.25 304.63 L617.59 304.72 L617.92 304.8 L618.26 304.89 L618.59 304.98 L618.93 305.06 L619.26 305.14 L619.6 305.23 L619.93 305.31 L620.26 305.39 L620.6 305.47 L620.93 305.56 L621.27 305.64 L621.6 305.72 L621.94 305.81 L622.27 305.89 L622.61 305.98 L622.94 306.06 L623.27 306.15 L623.61 306.24 L623.94 306.33 L624.28 306.42 L624.61 306.52 L624.95 306.61 L625.28 306.7 L625.62 306.79 L625.95 306.88 L626.28 306.97 L626.62 307.07 L626.95 307.16 L627.29 307.25 L627.62 307.34 L627.96 307.43 L628.29 307.52 L628.63 307.61 L628.96 307.7 L629.29 307.79 L629.63 307.87 L629.96 307.96 L630.3 308.05 L630.63 308.14 L630.97 308.22 L631.3 308.31 L631.64 308.4 L631.97 308.48 L632.3 308.57 L632.64 308.65 L632.97 308.74 L633.31 308.82 L633.64 308.9 L633.98 308.98 L634.31 309.07 L634.65 309.15 L634.98 309.23 L635.31 309.31 L635.65 309.39 L635.98 309.46 L636.32 309.54 L636.65 309.62 L636.99 309.7 L637.32 309.77 L637.66 309.85 L637.99 309.92 L638.32 309.99 L638.66 310.06 L638.99 310.14 L639.33 310.21 L639.66 310.28 L640 310.34 L640.33 310.41 L640.67 310.48 L641 310.54 L641.34 310.61 L641.67 310.67 L642 310.74 L642.34 310.8 L642.67 310.86 L643.01 310.92 L643.34 310.99 L643.68 311.05 L644.01 311.11 L644.35 311.17 L644.68 311.23 L645.01 311.29 L645.35 311.34 L645.68 311.4 L646.02 311.46 L646.35 311.52 L646.69 311.57 L647.02 311.63 L647.36 311.68 L647.69 311.74 L648.02 311.79 L648.36 311.85 L648.69 311.9 L649.03 311.95 L649.36 312.01 L649.7 312.06 L650.03 312.11 L650.37 312.16 L650.7 312.22 L651.03 312.27 L651.37 312.32 L651.7 312.37 L652.04 312.42 L652.37 312.47 L652.71 312.52 L653.04 312.57 L653.38 312.62 L653.71 312.67 L654.04 312.72 L654.38 312.76 L654.71 312.81 L655.05 312.86 L655.38 312.91 L655.72 312.96 L656.05 313 L656.39 313.05 L656.72 313.1 L657.05 313.15 L657.39 313.19 L657.72 313.24 L658.06 313.29 L658.39 313.33 L658.73 313.38 L659.06 313.43 L659.4 313.47 L659.73 313.52 L660.06 313.56 L660.4 313.61 L660.73 313.66 L661.07 313.7 L661.4 313.75 L661.74 313.79 L662.07 313.83 L662.41 313.88 L662.74 313.92 L663.07 313.97 L663.41 314.01 L663.74 314.05 L664.08 314.1 L664.41 314.14 L664.75 314.18 L665.08 314.23 L665.42 314.27 L665.75 314.31 L666.09 314.35 L666.42 314.4 L666.75 314.44 L667.09 314.48 L667.42 314.52 L667.76 314.56 L668.09 314.6 L668.43 314.64 L668.76 314.68 L669.1 314.72 L669.43 314.76 L669.76 314.8 L670.1 314.84 L670.43 314.88 L670.77 314.92 L671.1 314.96 L671.44 315 L671.77 315.03 L672.11 315.07 L672.44 315.11 L672.77 315.15 L673.11 315.18 L673.44 315.22 L673.78 315.26 L674.11 315.29 L674.45 315.33 L674.78 315.36 L675.12 315.4 L675.45 315.44" fill="none" stroke="#d9262a" stroke-width="1.3" stroke-linejoin="round" stroke-linecap="round"/>
<path d="M572.4 314.8v-2.2M572.4 200.1v2.2M606.75 314.8v-2.2M606.75 200.1v2.2M641.1 314.8v-2.2M641.1 200.1v2.2M675.45 314.8v-2.2M675.45 200.1v2.2M541.7 208.9h2.2M675.6 208.9h-2.2M541.7 230.08h2.2M675.6 230.08h-2.2M541.7 251.26h2.2M675.6 251.26h-2.2M541.7 272.44h2.2M675.6 272.44h-2.2M541.7 293.62h2.2M675.6 293.62h-2.2M541.7 314.8h2.2M675.6 314.8h-2.2" stroke="#6a6a6a" stroke-width="0.8" fill="none"/>
<rect x="541.7" y="200.1" width="133.9" height="114.7" fill="none" stroke="#9c9c9c" stroke-width="1.6"/>
<text x="539.2" y="212.1" font-family="Liberation Serif" font-weight="bold" font-size="8.5" fill="#141414" stroke="#141414" stroke-width="0.22" text-anchor="end" textLength="4.33" lengthAdjust="spacingAndGlyphs">0</text>
<text x="539.2" y="233.28" font-family="Liberation Serif" font-weight="bold" font-size="8.5" fill="#141414" stroke="#141414" stroke-width="0.22" text-anchor="end" textLength="11.56" lengthAdjust="spacingAndGlyphs">-10</text>
<text x="539.2" y="254.46" font-family="Liberation Serif" font-weight="bold" font-size="8.5" fill="#141414" stroke="#141414" stroke-width="0.22" text-anchor="end" textLength="11.56" lengthAdjust="spacingAndGlyphs">-20</text>
<text x="539.2" y="275.64" font-family="Liberation Serif" font-weight="bold" font-size="8.5" fill="#141414" stroke="#141414" stroke-width="0.22" text-anchor="end" textLength="11.56" lengthAdjust="spacingAndGlyphs">-30</text>
<text x="539.2" y="296.82" font-family="Liberation Serif" font-weight="bold" font-size="8.5" fill="#141414" stroke="#141414" stroke-width="0.22" text-anchor="end" textLength="11.56" lengthAdjust="spacingAndGlyphs">-40</text>
<text x="539.2" y="318" font-family="Liberation Serif" font-weight="bold" font-size="8.5" fill="#141414" stroke="#141414" stroke-width="0.22" text-anchor="end" textLength="11.56" lengthAdjust="spacingAndGlyphs">-50</text>
<text x="572.4" y="324.6" font-family="Liberation Serif" font-weight="bold" font-size="8.5" fill="#141414" stroke="#141414" stroke-width="0.22" text-anchor="middle" textLength="8.67" lengthAdjust="spacingAndGlyphs">20</text>
<text x="606.75" y="324.6" font-family="Liberation Serif" font-weight="bold" font-size="8.5" fill="#141414" stroke="#141414" stroke-width="0.22" text-anchor="middle" textLength="8.67" lengthAdjust="spacingAndGlyphs">40</text>
<text x="641.1" y="324.6" font-family="Liberation Serif" font-weight="bold" font-size="8.5" fill="#141414" stroke="#141414" stroke-width="0.22" text-anchor="middle" textLength="8.67" lengthAdjust="spacingAndGlyphs">60</text>
<text x="675.45" y="324.6" font-family="Liberation Serif" font-weight="bold" font-size="8.5" fill="#141414" stroke="#141414" stroke-width="0.22" text-anchor="middle" textLength="8.67" lengthAdjust="spacingAndGlyphs">80</text>
<text x="539" y="196.7" font-family="Liberation Serif" font-weight="bold" font-size="8.6" fill="#141414" stroke="#141414" stroke-width="0.22" textLength="139" lengthAdjust="spacingAndGlyphs">Power Spectrum of the Component</text>
<text x="578.5" y="333.7" font-family="Liberation Serif" font-weight="bold" font-size="8.6" fill="#141414" stroke="#141414" stroke-width="0.22" textLength="60.9" lengthAdjust="spacingAndGlyphs">Frequency (Hz)</text>
<text x="522.9" y="263.2" font-family="Liberation Serif" font-weight="bold" font-size="8.6" fill="#141414" stroke="#141414" stroke-width="0.22" text-anchor="middle" textLength="26" lengthAdjust="spacingAndGlyphs" transform="rotate(-90 522.9 263.2)">dB/Hz</text>
<path d="M236 446.8 L236.14 446.14 L236.33 445.16 L236.55 444.03 L236.8 442.92 L237.05 442.02 L237.3 441.5 L237.55 441.28 L237.81 441.21 L238.08 441.35 L238.35 441.74 L238.62 442.44 L238.9 443.5 L239.18 445.21 L239.47 447.6 L239.77 450.29 L240.06 452.93 L240.34 455.16 L240.6 456.6 L240.84 457.26 L241.05 457.42 L241.26 457.17 L241.46 456.58 L241.67 455.73 L241.9 454.7 L242.15 452.96 L242.41 450.34 L242.68 447.46 L242.95 444.95 L243.22 443.42 L243.5 443.5 L243.79 445.79 L244.09 449.92 L244.39 455.03 L244.68 460.28 L244.96 464.82 L245.2 467.8 L245.41 468.96 L245.59 468.92 L245.74 468.18 L245.89 467.2 L246.04 466.48 L246.2 466.5 L246.36 467.71 L246.51 469.81 L246.67 472.17 L246.83 474.15 L247 475.11 L247.2 474.4 L247.42 471.2 L247.67 465.86 L247.92 459.5 L248.19 453.24 L248.45 448.2 L248.7 445.5 L248.94 445.87 L249.16 448.55 L249.39 452.45 L249.61 456.49 L249.85 459.56 L250.1 460.6 L250.37 459.07 L250.67 455.75 L250.97 451.47 L251.27 447.07 L251.55 443.4 L251.8 441.3 L252.01 440.85 L252.19 441.4 L252.35 442.68 L252.5 444.4 L252.65 446.3 L252.8 448.1 L252.95 450.11 L253.09 452.6 L253.23 455.28 L253.37 457.81 L253.52 459.89 L253.7 461.2 L253.91 461.46 L254.13 460.86 L254.37 459.81 L254.62 458.71 L254.87 457.97 L255.1 458 L255.32 459.16 L255.54 461.2 L255.76 463.6 L255.97 465.84 L256.18 467.42 L256.4 467.8 L256.61 466.64 L256.82 464.29 L257.02 461.26 L257.24 458.08 L257.46 455.29 L257.7 453.4 L257.96 452.22 L258.23 451.3 L258.52 450.76 L258.81 450.72 L259.11 451.33 L259.4 452.7 L259.7 455.59 L260 460.06 L260.3 465.16 L260.6 469.97 L260.9 473.56 L261.2 475 L261.49 473.91 L261.79 470.94 L262.08 466.76 L262.37 462.01 L262.64 457.34 L262.9 453.4 L263.13 449.68 L263.34 445.54 L263.53 441.49 L263.73 438.01 L263.95 435.58 L264.2 434.7 L264.48 436.14 L264.78 439.67 L265.1 444.25 L265.44 448.86 L265.81 452.45 L266.2 454 L266.65 452.79 L267.14 449.51 L267.67 445.22 L268.19 440.98 L268.68 437.85 L269.1 436.9 L269.45 438.56 L269.76 442.06 L270.02 446.67 L270.28 451.67 L270.53 456.33 L270.8 459.9 L271.09 462.71 L271.38 465.4 L271.68 467.74 L271.96 469.5 L272.24 470.47 L272.5 470.4 L272.74 468.82 L272.95 465.82 L273.16 462.02 L273.36 458.03 L273.57 454.49 L273.8 452 L274.04 450.68 L274.27 450.04 L274.52 449.84 L274.78 449.83 L275.07 449.77 L275.4 449.4 L275.77 448.53 L276.19 447.31 L276.63 446.03 L277.09 444.99 L277.55 444.48 L278 444.8 L278.44 446.58 L278.89 449.71 L279.33 453.38 L279.78 456.75 L280.24 459 L280.7 459.3 L281.18 456.53 L281.67 451.13 L282.18 444.61 L282.67 438.48 L283.15 434.24 L283.6 433.4 L284.01 437.34 L284.39 445.13 L284.74 454.82 L285.1 464.44 L285.48 472.06 L285.9 475.7 L286.37 474.31 L286.87 469.25 L287.4 462.18 L287.93 454.75 L288.43 448.64 L288.9 445.5 L289.33 445.95 L289.73 448.77 L290.11 452.91 L290.48 457.3 L290.84 460.88 L291.2 462.6 L291.55 461.97 L291.9 459.76 L292.24 456.73 L292.57 453.69 L292.89 451.42 L293.2 450.7 L293.49 452.22 L293.77 455.5 L294.04 459.54 L294.31 463.37 L294.59 466.02 L294.9 466.5 L295.23 464.1 L295.57 459.46 L295.92 453.63 L296.29 447.67 L296.68 442.64 L297.1 439.6 L297.56 438.56 L298.07 438.68 L298.59 439.73 L299.12 441.47 L299.63 443.68 L300.1 446.1 L300.53 449.35 L300.93 453.74 L301.32 458.58 L301.69 463.21 L302.05 466.94 L302.4 469.1 L302.74 469.22 L303.07 467.76 L303.39 465.4 L303.7 462.84 L304 460.78 L304.3 459.9 L304.58 460.98 L304.84 463.6 L305.09 466.73 L305.35 469.29 L305.65 470.23 L306 468.5 L306.42 462.63 L306.91 453.16 L307.43 442.08 L307.96 431.36 L308.45 422.97 L308.9 418.9 L309.29 420.24 L309.66 425.62 L310 433.34 L310.32 441.68 L310.62 448.94 L310.9 453.4 L311.15 454.99 L311.35 455.06 L311.54 454.04 L311.73 452.37 L311.94 450.48 L312.2 448.8 L312.51 446.72 L312.86 443.76 L313.23 440.58 L313.62 437.84 L314.01 436.19 L314.4 436.3 L314.79 438.84 L315.19 443.44 L315.6 449.13 L316.01 454.96 L316.41 459.97 L316.8 463.2 L317.19 464.37 L317.59 464.18 L317.98 463.17 L318.36 461.88 L318.7 460.84 L319 460.6 L319.24 461.36 L319.43 462.73 L319.59 464.36 L319.74 465.88 L319.9 466.95 L320.1 467.2 L320.33 466.35 L320.58 464.61 L320.84 462.42 L321.11 460.19 L321.4 458.34 L321.7 457.3 L322.02 457.04 L322.36 457.21 L322.71 457.77 L323.07 458.66 L323.44 459.82 L323.8 461.2 L324.15 463.52 L324.49 466.96 L324.82 470.68 L325.18 473.83 L325.57 475.55 L326 475 L326.5 471.09 L327.07 464.29 L327.67 456.06 L328.26 447.88 L328.82 441.24 L329.3 437.6 L329.7 437.83 L330.05 440.91 L330.36 445.53 L330.64 450.35 L330.92 454.05 L331.2 455.3 L331.49 453.36 L331.76 449.14 L332.03 443.8 L332.29 438.49 L332.55 434.37 L332.8 432.6 L333.03 433.99 L333.23 437.77 L333.42 442.75 L333.63 447.7 L333.88 451.42 L334.2 452.7 L334.61 450.57 L335.09 445.82 L335.61 439.84 L336.14 434.01 L336.65 429.73 L337.1 428.4 L337.49 430.82 L337.86 436.06 L338.2 442.84 L338.52 449.91 L338.82 456.02 L339.1 459.9 L339.36 461.17 L339.59 460.77 L339.79 459.39 L339.99 457.77 L340.19 456.6 L340.4 456.6 L340.61 458.45 L340.8 461.73 L340.99 465.46 L341.19 468.69 L341.43 470.45 L341.7 469.8 L342.01 465.45 L342.34 457.91 L342.7 448.91 L343.09 440.18 L343.52 433.43 L344 430.4 L344.56 432.09 L345.21 437.31 L345.9 444.53 L346.58 452.19 L347.19 458.73 L347.7 462.6 L348.07 463.41 L348.33 462.33 L348.53 460.13 L348.71 457.6 L348.92 455.53 L349.2 454.7 L349.56 455.3 L349.96 456.73 L350.39 458.62 L350.83 460.58 L351.24 462.24 L351.6 463.2 L351.9 463.2 L352.16 462.5 L352.39 461.49 L352.62 460.57 L352.88 460.14 L353.2 460.6 L353.58 462.54 L354.01 465.76 L354.47 469.47 L354.93 472.89 L355.38 475.22 L355.8 475.7 L356.18 473.84 L356.55 470.19 L356.9 465.45 L357.24 460.36 L357.57 455.64 L357.9 452 L358.2 449.27 L358.47 446.84 L358.74 444.77 L359.01 443.15 L359.33 442.03 L359.7 441.5 L360.14 441.99 L360.64 443.53 L361.17 445.57 L361.73 447.6 L362.27 449.05 L362.8 449.4 L363.31 448.25 L363.81 445.96 L364.31 443.11 L364.81 440.26 L365.31 438 L365.8 436.9 L366.3 437.26 L366.81 438.67 L367.32 440.67 L367.81 442.79 L368.28 444.55 L368.7 445.5 L369.06 445.2 L369.36 443.95 L369.62 442.35 L369.9 441 L370.21 440.52 L370.6 441.5 L371.06 444.8 L371.56 450.1 L372.11 456.26 L372.68 462.14 L373.28 466.6 L373.9 468.5 L374.58 467 L375.33 462.86 L376.1 457.29 L376.85 451.53 L377.53 446.83 L378.1 444.4 L378.53 444.8 L378.86 447.16 L379.11 450.56 L379.33 454.1 L379.55 456.88 L379.8 458 L380.07 457.07 L380.34 454.73 L380.6 451.62 L380.86 448.41 L381.13 445.72 L381.4 444.2 L381.68 443.88 L381.96 444.26 L382.24 445.16 L382.53 446.42 L382.82 447.89 L383.1 449.4 L383.36 451.49 L383.6 454.41 L383.83 457.54 L384.09 460.24 L384.41 461.9 L384.8 461.9 L385.31 459.42 L385.92 454.79 L386.58 449.11 L387.25 443.5 L387.87 439.06 L388.4 436.9 L388.83 437.55 L389.19 440.24 L389.51 444.09 L389.8 448.25 L390.09 451.84 L390.4 454 L390.71 454.42 L391.01 453.75 L391.31 452.51 L391.61 451.24 L391.94 450.46 L392.3 450.7 L392.71 452.22 L393.17 454.63 L393.65 457.54 L394.13 460.54 L394.59 463.23 L395 465.2 L395.36 466.5 L395.69 467.47 L395.99 468.12 L396.29 468.5 L396.59 468.61 L396.9 468.5 L397.21 468.38 L397.5 468.26 L397.8 467.89 L398.12 467 L398.48 465.33 L398.9 462.6 L399.42 457.92 L400.03 451.33 L400.69 443.94 L401.33 436.91 L401.92 431.35 L402.4 428.4 L402.75 428.9 L403.02 432.13 L403.23 436.82 L403.41 441.76 L403.59 445.7 L403.8 447.4 L404.03 446.16 L404.26 442.82 L404.49 438.49 L404.72 434.24 L404.96 431.18 L405.2 430.4 L405.46 432.64 L405.73 437.19 L406.01 442.92 L406.28 448.71 L406.55 453.45 L406.8 456 L407.02 455.76 L407.21 453.51 L407.39 450.2 L407.58 446.79 L407.81 444.24 L408.1 443.5 L408.47 445 L408.92 448.05 L409.4 451.96 L409.88 456.03 L410.33 459.58 L410.7 461.9 L410.99 463.1 L411.22 463.76 L411.42 463.88 L411.6 463.5 L411.79 462.63 L412 461.3 L412.24 459.06 L412.48 455.8 L412.73 452.06 L412.99 448.36 L413.24 445.23 L413.5 443.2 L413.75 442.22 L414 441.84 L414.26 442.03 L414.52 442.76 L414.8 444 L415.1 445.7 L415.44 448.45 L415.81 452.4 L416.2 456.86 L416.59 461.12 L416.96 464.5 L417.3 466.3 L417.61 466.17 L417.89 464.6 L418.16 462.14 L418.42 459.37 L418.66 456.83 L418.9 455.1 L419.12 454.42 L419.33 454.39 L419.52 454.6 L419.71 454.64 L419.9 454.11 L420.1 452.6 L420.31 449.58 L420.51 445.26 L420.73 440.38 L420.94 435.63 L421.16 431.73 L421.4 429.4 L421.65 428.68 L421.91 429 L422.19 430.17 L422.46 432.01 L422.74 434.32 L423 436.9 L423.26 440.28 L423.51 444.71 L423.76 449.61 L424 454.39 L424.25 458.48 L424.5 461.3 L424.75 462.69 L425.01 463.09 L425.26 462.8 L425.51 462.11 L425.76 461.31 L426 460.7 L426.23 460.06 L426.46 459.1 L426.68 458.03 L426.9 457.07 L427.1 456.42 L427.3 456.3 L427.47 457 L427.62 458.41 L427.76 460.14 L427.91 461.78 L428.08 462.93 L428.3 463.2 L428.57 462.41 L428.88 460.85 L429.21 458.8 L429.56 456.55 L429.89 454.39 L430.2 452.6 L430.48 450.93 L430.75 449.11 L431.01 447.37 L431.27 445.96 L431.53 445.12 L431.8 445.1 L432.08 446.41 L432.36 448.95 L432.64 452.07 L432.93 455.09 L433.22 457.36 L433.5 458.2 L433.78 457.09 L434.06 454.46 L434.34 451.07 L434.63 447.69 L434.91 445.07 L435.2 444 L435.49 444.86 L435.79 447.12 L436.09 450.15 L436.39 453.33 L436.69 456.02 L437 457.6 L437.31 457.84 L437.64 457.2 L437.96 456.08 L438.29 454.87 L438.6 453.98 L438.9 453.8 L439.18 454.67 L439.45 456.34 L439.71 458.33 L439.96 460.14 L440.23 461.29 L440.5 461.3 L440.79 459.81 L441.08 457.14 L441.38 453.81 L441.68 450.35 L441.99 447.27 L442.3 445.1 L442.62 443.82 L442.95 443 L443.28 442.56 L443.62 442.44 L443.96 442.54 L444.3 442.8 L444.64 443.13 L444.98 443.57 L445.32 444.25 L445.67 445.27 L446.03 446.75 L446.4 448.8 L446.79 452.07 L447.19 456.6 L447.6 461.59 L448.02 466.24 L448.46 469.74 L448.9 471.3 L449.36 470.44 L449.84 467.7 L450.33 463.82 L450.83 459.53 L451.32 455.55 L451.8 452.6 L452.28 450.31 L452.76 448.02 L453.24 446.04 L453.71 444.69 L454.17 444.27 L454.6 445.1 L455.01 448.28 L455.39 453.77 L455.76 460.19 L456.12 466.18 L456.46 470.34 L456.8 471.3 L457.13 467.98 L457.44 461.27 L457.74 452.73 L458.03 443.94 L458.32 436.48 L458.6 431.9 L458.87 430.52 L459.14 431.15 L459.39 433.09 L459.65 435.67 L459.92 438.2 L460.2 440 L460.5 441.19 L460.83 442.35 L461.16 443.46 L461.49 444.5 L461.8 445.46 L462.1 446.3 L462.37 446.99 L462.63 447.54 L462.87 448.01 L463.11 448.43 L463.35 448.88 L463.6 449.4 L463.86 449.93 L464.13 450.41 L464.4 450.91 L464.67 451.49 L464.94 452.23 L465.2 453.2 L465.46 454.67 L465.71 456.64 L465.96 458.76 L466.21 460.7 L466.46 462.09 L466.7 462.6 L466.94 461.88 L467.17 460.13 L467.4 457.84 L467.63 455.5 L467.86 453.59 L468.1 452.6 L468.34 452.76 L468.59 453.73 L468.84 455.12 L469.1 456.59 L469.35 457.73 L469.6 458.2 L469.84 457.72 L470.07 456.54 L470.31 455.05 L470.55 453.64 L470.81 452.69 L471.1 452.6 L471.43 453.67 L471.79 455.64 L472.18 458.08 L472.56 460.55 L472.94 462.6 L473.3 463.8 L473.64 464.15 L473.97 464 L474.29 463.43 L474.6 462.54 L474.9 461.4 L475.2 460.1 L475.48 458.38 L475.73 456.12 L475.98 453.62 L476.23 451.17 L476.5 449.06 L476.8 447.6 L477.12 446.75 L477.46 446.26 L477.82 446.12 L478.19 446.31 L478.59 446.81 L479 447.6 L479.46 449.22 L479.96 451.77 L480.48 454.64 L481 457.19 L481.48 458.79 L481.9 458.8 L482.25 456.44 L482.53 452.04 L482.79 446.7 L483.03 441.48 L483.3 437.45 L483.6 435.7 L483.95 436.89 L484.31 440.31 L484.7 444.92 L485.1 449.7 L485.5 453.64 L485.9 455.7 L486.3 455.78 L486.71 454.67 L487.12 452.71 L487.54 450.23 L487.96 447.59 L488.4 445.1 L488.87 442.4 L489.39 439.13 L489.91 435.69 L490.4 432.46 L490.85 429.83 L491.2 428.2 L491.46 427.8 L491.64 428.37 L491.78 429.54 L491.87 430.95 L491.94 432.23 L492 433" fill="none" stroke="#2f7fc1" stroke-width="0.95" stroke-linejoin="round" stroke-linecap="round"/>
<path d="M260.9 508.2v-2.2M260.9 392v2.2M286.17 508.2v-2.2M286.17 392v2.2M311.44 508.2v-2.2M311.44 392v2.2M336.71 508.2v-2.2M336.71 392v2.2M361.98 508.2v-2.2M361.98 392v2.2M387.25 508.2v-2.2M387.25 392v2.2M412.52 508.2v-2.2M412.52 392v2.2M437.79 508.2v-2.2M437.79 392v2.2M463.06 508.2v-2.2M463.06 392v2.2M488.33 508.2v-2.2M488.33 392v2.2M236.6 503.3h2.2M492 503.3h-2.2M236.6 477.95h2.2M492 477.95h-2.2M236.6 452.6h2.2M492 452.6h-2.2M236.6 427.25h2.2M492 427.25h-2.2M236.6 401.9h2.2M492 401.9h-2.2" stroke="#6a6a6a" stroke-width="0.8" fill="none"/>
<rect x="236.6" y="392" width="255.4" height="116.2" fill="none" stroke="#9c9c9c" stroke-width="1.6"/>
<text x="234.1" y="506" font-family="Liberation Serif" font-weight="bold" font-size="7.9" fill="#141414" stroke="#141414" stroke-width="0.22" text-anchor="end" textLength="11.79" lengthAdjust="spacingAndGlyphs">-10</text>
<text x="234.1" y="480.65" font-family="Liberation Serif" font-weight="bold" font-size="7.9" fill="#141414" stroke="#141414" stroke-width="0.22" text-anchor="end" textLength="7.37" lengthAdjust="spacingAndGlyphs">-5</text>
<text x="234.1" y="455.3" font-family="Liberation Serif" font-weight="bold" font-size="7.9" fill="#141414" stroke="#141414" stroke-width="0.22" text-anchor="end" textLength="4.42" lengthAdjust="spacingAndGlyphs">0</text>
<text x="234.1" y="429.95" font-family="Liberation Serif" font-weight="bold" font-size="7.9" fill="#141414" stroke="#141414" stroke-width="0.22" text-anchor="end" textLength="4.42" lengthAdjust="spacingAndGlyphs">5</text>
<text x="234.1" y="404.6" font-family="Liberation Serif" font-weight="bold" font-size="7.9" fill="#141414" stroke="#141414" stroke-width="0.22" text-anchor="end" textLength="8.85" lengthAdjust="spacingAndGlyphs">10</text>
<text x="260.9" y="521" font-family="Liberation Serif" font-weight="bold" font-size="8.5" fill="#141414" stroke="#141414" stroke-width="0.22" text-anchor="middle" textLength="12.75" lengthAdjust="spacingAndGlyphs">0.1</text>
<text x="286.17" y="521" font-family="Liberation Serif" font-weight="bold" font-size="8.5" fill="#141414" stroke="#141414" stroke-width="0.22" text-anchor="middle" textLength="12.75" lengthAdjust="spacingAndGlyphs">0.2</text>
<text x="311.44" y="521" font-family="Liberation Serif" font-weight="bold" font-size="8.5" fill="#141414" stroke="#141414" stroke-width="0.22" text-anchor="middle" textLength="12.75" lengthAdjust="spacingAndGlyphs">0.3</text>
<text x="336.71" y="521" font-family="Liberation Serif" font-weight="bold" font-size="8.5" fill="#141414" stroke="#141414" stroke-width="0.22" text-anchor="middle" textLength="12.75" lengthAdjust="spacingAndGlyphs">0.4</text>
<text x="361.98" y="521" font-family="Liberation Serif" font-weight="bold" font-size="8.5" fill="#141414" stroke="#141414" stroke-width="0.22" text-anchor="middle" textLength="12.75" lengthAdjust="spacingAndGlyphs">0.5</text>
<text x="387.25" y="521" font-family="Liberation Serif" font-weight="bold" font-size="8.5" fill="#141414" stroke="#141414" stroke-width="0.22" text-anchor="middle" textLength="12.75" lengthAdjust="spacingAndGlyphs">0.6</text>
<text x="412.52" y="521" font-family="Liberation Serif" font-weight="bold" font-size="8.5" fill="#141414" stroke="#141414" stroke-width="0.22" text-anchor="middle" textLength="12.75" lengthAdjust="spacingAndGlyphs">0.7</text>
<text x="437.79" y="521" font-family="Liberation Serif" font-weight="bold" font-size="8.5" fill="#141414" stroke="#141414" stroke-width="0.22" text-anchor="middle" textLength="12.75" lengthAdjust="spacingAndGlyphs">0.8</text>
<text x="463.06" y="521" font-family="Liberation Serif" font-weight="bold" font-size="8.5" fill="#141414" stroke="#141414" stroke-width="0.22" text-anchor="middle" textLength="12.75" lengthAdjust="spacingAndGlyphs">0.9</text>
<text x="488.33" y="521" font-family="Liberation Serif" font-weight="bold" font-size="8.5" fill="#141414" stroke="#141414" stroke-width="0.22" text-anchor="middle" textLength="12.75" lengthAdjust="spacingAndGlyphs">1.0</text>
<text x="312.1" y="387.8" font-family="Liberation Serif" font-weight="bold" font-size="8.6" fill="#141414" stroke="#141414" stroke-width="0.22" textLength="104.2" lengthAdjust="spacingAndGlyphs">Component Time Series</text>
<text x="339.9" y="532.4" font-family="Liberation Serif" font-weight="bold" font-size="8.6" fill="#141414" stroke="#141414" stroke-width="0.22" textLength="36.1" lengthAdjust="spacingAndGlyphs">Time (s)</text>
<text x="213.9" y="455.7" font-family="Liberation Serif" font-weight="bold" font-size="8.6" fill="#141414" stroke="#141414" stroke-width="0.22" text-anchor="middle" textLength="61.1" lengthAdjust="spacingAndGlyphs" transform="rotate(-90 213.9 455.7)">Amplitude (µV)</text>
<text x="350.6" y="554.2" font-family="Liberation Sans" font-weight="bold" font-size="14.2" fill="#111" textLength="20.9" lengthAdjust="spacingAndGlyphs">(C)</text>
<line x1="575.7" y1="393.7" x2="575.7" y2="507" stroke="#e4e4e4" stroke-width="0.7"/>
<line x1="609.4" y1="393.7" x2="609.4" y2="507" stroke="#e4e4e4" stroke-width="0.7"/>
<line x1="643.1" y1="393.7" x2="643.1" y2="507" stroke="#e4e4e4" stroke-width="0.7"/>
<line x1="545" y1="398.7" x2="676.9" y2="398.7" stroke="#e4e4e4" stroke-width="0.7"/>
<line x1="545" y1="418.66" x2="676.9" y2="418.66" stroke="#e4e4e4" stroke-width="0.7"/>
<line x1="545" y1="438.62" x2="676.9" y2="438.62" stroke="#e4e4e4" stroke-width="0.7"/>
<line x1="545" y1="458.58" x2="676.9" y2="458.58" stroke="#e4e4e4" stroke-width="0.7"/>
<line x1="545" y1="478.54" x2="676.9" y2="478.54" stroke="#e4e4e4" stroke-width="0.7"/>
<line x1="545" y1="498.5" x2="676.9" y2="498.5" stroke="#e4e4e4" stroke-width="0.7"/>
<path d="M545.37 402.69 L545.7 403.33 L546.03 403.96 L546.36 404.56 L546.69 405.14 L547.02 405.7 L547.35 406.24 L547.68 406.75 L548.01 407.24 L548.33 407.77 L548.66 408.33 L548.99 408.88 L549.32 409.38 L549.65 409.8 L549.98 410.11 L550.31 410.27 L550.64 410.25 L550.97 410.14 L551.3 409.94 L551.63 409.68 L551.96 409.37 L552.29 409.02 L552.62 408.66 L552.95 408.29 L553.28 407.89 L553.6 407.41 L553.93 406.87 L554.26 406.27 L554.59 405.62 L554.92 404.93 L555.25 404.21 L555.58 403.45 L555.91 402.55 L556.24 401.53 L556.57 400.47 L556.9 399.45 L557.23 398.53 L557.56 397.54 L557.89 396.51 L558.22 395.59 L558.55 394.93 L558.88 394.71 L559.2 395.28 L559.53 396.6 L559.86 398.32 L560.19 400.12 L560.52 401.65 L560.85 402.93 L561.18 404.22 L561.51 405.47 L561.84 406.6 L562.17 407.55 L562.5 408.35 L562.83 409.07 L563.16 409.75 L563.49 410.38 L563.82 410.96 L564.15 411.51 L564.48 412.04 L564.8 412.53 L565.13 413.02 L565.46 413.49 L565.79 413.95 L566.12 414.4 L566.45 414.83 L566.78 415.24 L567.11 415.64 L567.44 416.03 L567.77 416.4 L568.1 416.76 L568.43 417.11 L568.76 417.45 L569.09 417.79 L569.42 418.12 L569.75 418.44 L570.07 418.76 L570.4 419.07 L570.73 419.37 L571.06 419.66 L571.39 419.93 L571.72 420.2 L572.05 420.45 L572.38 420.69 L572.71 420.92 L573.04 421.14 L573.37 421.34 L573.7 421.55 L574.03 421.74 L574.36 421.93 L574.69 422.11 L575.02 422.29 L575.35 422.46 L575.67 422.64 L576 422.81 L576.33 422.98 L576.66 423.14 L576.99 423.3 L577.32 423.46 L577.65 423.61 L577.98 423.76 L578.31 423.91 L578.64 424.06 L578.97 424.2 L579.3 424.35 L579.63 424.51 L579.96 424.68 L580.29 424.85 L580.62 425.02 L580.95 425.18 L581.27 425.33 L581.6 425.45 L581.93 425.55 L582.26 425.62 L582.59 425.66 L582.92 425.69 L583.25 425.71 L583.58 425.72 L583.91 425.74 L584.24 425.75 L584.57 425.76 L584.9 425.78 L585.23 425.8 L585.56 425.82 L585.89 425.86 L586.22 425.93 L586.54 426.04 L586.87 426.19 L587.2 426.37 L587.53 426.58 L587.86 426.79 L588.19 427.01 L588.52 427.23 L588.85 427.45 L589.18 427.64 L589.51 427.82 L589.84 428 L590.17 428.18 L590.5 428.36 L590.83 428.54 L591.16 428.73 L591.49 428.92 L591.82 429.13 L592.14 429.35 L592.47 429.58 L592.8 429.83 L593.13 430.09 L593.46 430.36 L593.79 430.64 L594.12 430.95 L594.45 431.27 L594.78 431.62 L595.11 431.99 L595.44 432.39 L595.77 432.82 L596.1 433.29 L596.43 433.83 L596.76 434.43 L597.09 435.1 L597.41 435.85 L597.74 436.66 L598.07 437.54 L598.4 438.49 L598.73 439.56 L599.06 440.82 L599.39 442.24 L599.72 443.81 L600.05 445.49 L600.38 447.26 L600.71 449.09 L601.04 450.96 L601.37 452.96 L601.7 455.13 L602.03 457.43 L602.36 459.83 L602.69 462.3 L603.01 464.82 L603.34 467.35 L603.67 469.91 L604 472.71 L604.33 475.66 L604.66 478.63 L604.99 481.48 L605.32 484.07 L605.65 486.27 L605.98 488.18 L606.31 490.05 L606.64 491.73 L606.97 493.09 L607.3 493.98 L607.63 494.42 L607.96 494.77 L608.29 495.05 L608.61 495.28 L608.94 495.48 L609.27 495.64 L609.6 495.8 L609.93 495.94 L610.26 496.05 L610.59 496.16 L610.92 496.26 L611.25 496.35 L611.58 496.44 L611.91 496.53 L612.24 496.62 L612.57 496.71 L612.9 496.79 L613.23 496.88 L613.56 496.96 L613.88 497.04 L614.21 497.12 L614.54 497.19 L614.87 497.27 L615.2 497.35 L615.53 497.42 L615.86 497.49 L616.19 497.56 L616.52 497.63 L616.85 497.7 L617.18 497.77 L617.51 497.84 L617.84 497.91 L618.17 497.97 L618.5 498.04 L618.83 498.1 L619.16 498.17 L619.48 498.23 L619.81 498.3 L620.14 498.36 L620.47 498.42 L620.8 498.48 L621.13 498.54 L621.46 498.6 L621.79 498.67 L622.12 498.73 L622.45 498.79 L622.78 498.85 L623.11 498.91 L623.44 498.97 L623.77 499.03 L624.1 499.09 L624.43 499.15 L624.76 499.21 L625.08 499.28 L625.41 499.34 L625.74 499.4 L626.07 499.46 L626.4 499.53 L626.73 499.59 L627.06 499.65 L627.39 499.72 L627.72 499.78 L628.05 499.84 L628.38 499.91 L628.71 499.97 L629.04 500.03 L629.37 500.09 L629.7 500.15 L630.03 500.22 L630.35 500.28 L630.68 500.34 L631.01 500.4 L631.34 500.46 L631.67 500.52 L632 500.58 L632.33 500.64 L632.66 500.7 L632.99 500.76 L633.32 500.82 L633.65 500.88 L633.98 500.94 L634.31 501 L634.64 501.06 L634.97 501.12 L635.3 501.18 L635.63 501.24 L635.95 501.3 L636.28 501.35 L636.61 501.41 L636.94 501.47 L637.27 501.53 L637.6 501.58 L637.93 501.64 L638.26 501.7 L638.59 501.75 L638.92 501.81 L639.25 501.86 L639.58 501.92 L639.91 501.97 L640.24 502.03 L640.57 502.08 L640.9 502.14 L641.22 502.19 L641.55 502.24 L641.88 502.3 L642.21 502.35 L642.54 502.4 L642.87 502.46 L643.2 502.51 L643.53 502.56 L643.86 502.61 L644.19 502.66 L644.52 502.71 L644.85 502.76 L645.18 502.82 L645.51 502.87 L645.84 502.92 L646.17 502.97 L646.5 503.02 L646.82 503.07 L647.15 503.11 L647.48 503.16 L647.81 503.21 L648.14 503.26 L648.47 503.31 L648.8 503.36 L649.13 503.41 L649.46 503.45 L649.79 503.5 L650.12 503.55 L650.45 503.6 L650.78 503.64 L651.11 503.69 L651.44 503.74 L651.77 503.78 L652.1 503.83 L652.42 503.88 L652.75 503.92 L653.08 503.97 L653.41 504.01 L653.74 504.06 L654.07 504.1 L654.4 504.15 L654.73 504.19 L655.06 504.24 L655.39 504.28 L655.72 504.33 L656.05 504.37 L656.38 504.42 L656.71 504.46 L657.04 504.51 L657.37 504.55 L657.69 504.59 L658.02 504.64 L658.35 504.68 L658.68 504.72 L659.01 504.77 L659.34 504.81 L659.67 504.85 L660 504.89 L660.33 504.94 L660.66 504.98 L660.99 505.02 L661.32 505.06 L661.65 505.1 L661.98 505.15 L662.31 505.19 L662.64 505.23 L662.97 505.27 L663.29 505.31 L663.62 505.35 L663.95 505.4 L664.28 505.44 L664.61 505.48 L664.94 505.52 L665.27 505.56 L665.6 505.6 L665.93 505.64 L666.26 505.68 L666.59 505.72 L666.92 505.76 L667.25 505.8 L667.58 505.84 L667.91 505.88 L668.24 505.92 L668.57 505.96 L668.89 505.99 L669.22 506.03 L669.55 506.07 L669.88 506.11 L670.21 506.15 L670.54 506.19 L670.87 506.22 L671.2 506.26 L671.53 506.3 L671.86 506.34 L672.19 506.38 L672.52 506.41 L672.85 506.45 L673.18 506.49 L673.51 506.52 L673.84 506.56 L674.16 506.6 L674.49 506.63 L674.82 506.67 L675.15 506.71 L675.48 506.74 L675.81 506.78 L676.14 506.81 L676.47 506.85 L676.8 506.88" fill="none" stroke="#d9262a" stroke-width="1.3" stroke-linejoin="round" stroke-linecap="round"/>
<path d="M575.7 507v-2.2M575.7 393.7v2.2M609.4 507v-2.2M609.4 393.7v2.2M643.1 507v-2.2M643.1 393.7v2.2M676.8 507v-2.2M676.8 393.7v2.2M545 398.7h2.2M676.9 398.7h-2.2M545 418.66h2.2M676.9 418.66h-2.2M545 438.62h2.2M676.9 438.62h-2.2M545 458.58h2.2M676.9 458.58h-2.2M545 478.54h2.2M676.9 478.54h-2.2M545 498.5h2.2M676.9 498.5h-2.2" stroke="#6a6a6a" stroke-width="0.8" fill="none"/>
<rect x="545" y="393.7" width="131.9" height="113.3" fill="none" stroke="#9c9c9c" stroke-width="1.6"/>
<text x="541.9" y="401.5" font-family="Liberation Serif" font-weight="bold" font-size="8.5" fill="#141414" stroke="#141414" stroke-width="0.22" text-anchor="end" textLength="4.46" lengthAdjust="spacingAndGlyphs">0</text>
<text x="541.9" y="421.46" font-family="Liberation Serif" font-weight="bold" font-size="8.5" fill="#141414" stroke="#141414" stroke-width="0.22" text-anchor="end" textLength="11.9" lengthAdjust="spacingAndGlyphs">-10</text>
<text x="541.9" y="441.42" font-family="Liberation Serif" font-weight="bold" font-size="8.5" fill="#141414" stroke="#141414" stroke-width="0.22" text-anchor="end" textLength="11.9" lengthAdjust="spacingAndGlyphs">-20</text>
<text x="541.9" y="461.38" font-family="Liberation Serif" font-weight="bold" font-size="8.5" fill="#141414" stroke="#141414" stroke-width="0.22" text-anchor="end" textLength="11.9" lengthAdjust="spacingAndGlyphs">-30</text>
<text x="541.9" y="481.34" font-family="Liberation Serif" font-weight="bold" font-size="8.5" fill="#141414" stroke="#141414" stroke-width="0.22" text-anchor="end" textLength="11.9" lengthAdjust="spacingAndGlyphs">-40</text>
<text x="541.9" y="501.3" font-family="Liberation Serif" font-weight="bold" font-size="8.5" fill="#141414" stroke="#141414" stroke-width="0.22" text-anchor="end" textLength="11.9" lengthAdjust="spacingAndGlyphs">-50</text>
<text x="575.7" y="516.1" font-family="Liberation Serif" font-weight="bold" font-size="8.5" fill="#141414" stroke="#141414" stroke-width="0.22" text-anchor="middle" textLength="8.67" lengthAdjust="spacingAndGlyphs">20</text>
<text x="609.4" y="516.1" font-family="Liberation Serif" font-weight="bold" font-size="8.5" fill="#141414" stroke="#141414" stroke-width="0.22" text-anchor="middle" textLength="8.67" lengthAdjust="spacingAndGlyphs">40</text>
<text x="643.1" y="516.1" font-family="Liberation Serif" font-weight="bold" font-size="8.5" fill="#141414" stroke="#141414" stroke-width="0.22" text-anchor="middle" textLength="8.67" lengthAdjust="spacingAndGlyphs">60</text>
<text x="676.8" y="516.1" font-family="Liberation Serif" font-weight="bold" font-size="8.5" fill="#141414" stroke="#141414" stroke-width="0.22" text-anchor="middle" textLength="8.67" lengthAdjust="spacingAndGlyphs">80</text>
<text x="543" y="390.3" font-family="Liberation Serif" font-weight="bold" font-size="8.6" fill="#141414" stroke="#141414" stroke-width="0.22" textLength="135.2" lengthAdjust="spacingAndGlyphs">Power Spectrum of the Component</text>
<text x="581.2" y="524.9" font-family="Liberation Serif" font-weight="bold" font-size="8.6" fill="#141414" stroke="#141414" stroke-width="0.22" textLength="59.5" lengthAdjust="spacingAndGlyphs">Frequency (Hz)</text>
<text x="521.8" y="455.6" font-family="Liberation Serif" font-weight="bold" font-size="8.6" fill="#141414" stroke="#141414" stroke-width="0.22" text-anchor="middle" textLength="26" lengthAdjust="spacingAndGlyphs" transform="rotate(-90 521.8 455.6)">dB/Hz</text>
</svg></body></html>
